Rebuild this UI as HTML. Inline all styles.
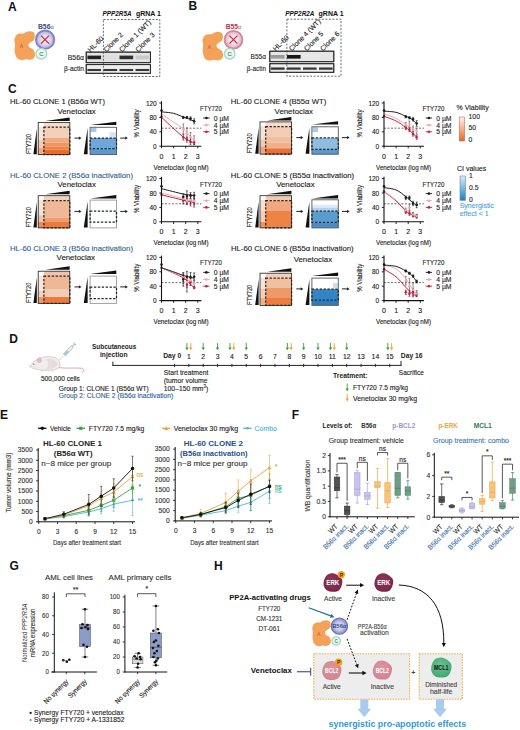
<!DOCTYPE html>
<html><head><meta charset="utf-8"><style>
html,body{margin:0;padding:0;background:#fff;}
svg{display:block;font-family:"Liberation Sans", sans-serif;}
</style></head><body>
<svg width="520" height="730" viewBox="0 0 520 730">
<defs><filter id="bl" x="-20%" y="-50%" width="140%" height="200%"><feGaussianBlur stdDeviation="0.7"/></filter><filter id="bl2" x="-20%" y="-20%" width="140%" height="140%"><feGaussianBlur stdDeviation="0.35"/></filter></defs>
<rect width="520" height="730" fill="#fff"/>
<text x="7.90" y="11.00" font-size="12" font-weight="bold" fill="#111" text-anchor="start">A</text>
<path d="M16.40,35.20 C17.25,34.22 18.40,33.87 19.50,33.60 C20.60,33.33 21.83,33.90 23.00,33.60 C24.17,33.30 25.25,32.20 26.50,31.80 C27.75,31.40 29.28,31.07 30.50,31.20 C31.72,31.33 33.08,31.77 33.80,32.60 C34.52,33.43 34.83,34.93 34.80,36.20 C34.77,37.47 34.33,39.17 33.60,40.20 C32.87,41.23 31.27,41.63 30.40,42.40 C29.53,43.17 28.50,43.93 28.40,44.80 C28.30,45.67 28.97,46.77 29.80,47.60 C30.63,48.43 32.53,48.73 33.40,49.80 C34.27,50.87 34.90,52.63 35.00,54.00 C35.10,55.37 34.83,57.03 34.00,58.00 C33.17,58.97 31.42,59.60 30.00,59.80 C28.58,60.00 27.00,59.17 25.50,59.20 C24.00,59.23 22.48,60.27 21.00,60.00 C19.52,59.73 17.67,59.10 16.60,57.60 C15.53,56.10 14.87,53.10 14.60,51.00 C14.33,48.90 15.03,46.92 15.00,45.00 C14.97,43.08 14.17,41.13 14.40,39.50 C14.63,37.87 15.55,36.18 16.40,35.20 Z" fill="#f4a25a" stroke="none" stroke-width="1"/>
<text x="21.50" y="48.20" font-size="5.2" font-weight="normal" fill="#de5a30" text-anchor="middle" stroke="#de5a30" stroke-width="0.12">A</text>
<defs><radialGradient id="gb56"><stop offset="0" stop-color="#f3f1fa"/><stop offset="0.55" stop-color="#dcd8ef"/><stop offset="1" stop-color="#a9a4d4"/></radialGradient></defs>
<circle cx="45.10" cy="39.70" r="9.20" fill="url(#gb56)" stroke="#8480bd" stroke-width="1.8"/>
<line x1="41.00" y1="35.70" x2="49.00" y2="43.70" stroke="#d0243c" stroke-width="1.2"/>
<line x1="41.00" y1="43.70" x2="49.00" y2="35.70" stroke="#d0243c" stroke-width="1.2"/>
<circle cx="41.30" cy="53.70" r="5.40" fill="#eaf7f1" stroke="#9fd8bd" stroke-width="1.3"/>
<text x="41.30" y="55.86" font-size="6.0" font-weight="normal" fill="#3f7f6a" text-anchor="middle" stroke="#3f7f6a" stroke-width="0.12">C</text>
<text x="37.90" y="28.60" font-size="6.9" font-weight="bold" fill="#2d4f86" text-anchor="start" textLength="15.8" lengthAdjust="spacingAndGlyphs">B56<tspan font-size="5.6" font-weight="normal">&#945;</tspan></text>
<text x="102.40" y="15.80" font-size="6.6" font-weight="bold" fill="#111" text-anchor="start" font-style="italic" textLength="29.2" lengthAdjust="spacingAndGlyphs">PPP2R5A</text>
<text x="136.00" y="15.80" font-size="6.6" font-weight="bold" fill="#111" text-anchor="start" textLength="25" lengthAdjust="spacingAndGlyphs">gRNA 1</text>
<rect x="86.20" y="52.10" width="64.20" height="10.60" fill="#e2e2e2" stroke="#2a2a2a" stroke-width="0.9"/>
<g filter="url(#bl)">
<rect x="87.40" y="55.60" width="13.65" height="3.60" fill="rgb(35,35,35)" stroke="none" stroke-width="1"/>
<rect x="103.45" y="55.60" width="13.65" height="3.60" fill="rgb(222,222,222)" stroke="none" stroke-width="1"/>
<rect x="119.50" y="55.60" width="13.65" height="3.60" fill="rgb(46,46,46)" stroke="none" stroke-width="1"/>
<rect x="135.55" y="55.60" width="13.65" height="3.60" fill="rgb(201,201,201)" stroke="none" stroke-width="1"/>
</g>
<rect x="86.20" y="52.10" width="64.20" height="10.60" fill="none" stroke="#2a2a2a" stroke-width="0.9"/>
<rect x="86.20" y="64.60" width="64.20" height="8.70" fill="#eeeeee" stroke="#2a2a2a" stroke-width="0.9"/>
<g filter="url(#bl)">
<rect x="87.40" y="68.95" width="13.65" height="2.10" fill="rgb(57,57,57)" stroke="none" stroke-width="1"/>
<rect x="103.45" y="68.95" width="13.65" height="2.10" fill="rgb(57,57,57)" stroke="none" stroke-width="1"/>
<rect x="119.50" y="68.95" width="13.65" height="2.10" fill="rgb(57,57,57)" stroke="none" stroke-width="1"/>
<rect x="135.55" y="68.95" width="13.65" height="2.10" fill="rgb(57,57,57)" stroke="none" stroke-width="1"/>
</g>
<rect x="86.20" y="64.60" width="64.20" height="8.70" fill="none" stroke="#2a2a2a" stroke-width="0.9"/>
<rect x="103.40" y="19.50" width="56.40" height="57.00" fill="none" stroke="#3a3a3a" stroke-width="0.75" stroke-dasharray="2,1.5"/>
<text x="90.60" y="52.40" font-size="7" font-weight="normal" fill="#222" text-anchor="start" transform="rotate(-45 90.6 52.4)" stroke="#222" stroke-width="0.12">HL-60</text>
<text x="106.40" y="52.40" font-size="7" font-weight="normal" fill="#222" text-anchor="start" transform="rotate(-45 106.4 52.4)" stroke="#222" stroke-width="0.12">Clone 2</text>
<text x="121.90" y="52.40" font-size="7" font-weight="normal" fill="#222" text-anchor="start" transform="rotate(-45 121.9 52.4)" stroke="#222" stroke-width="0.12">Clone 1 (WT)</text>
<text x="138.20" y="52.40" font-size="7" font-weight="normal" fill="#222" text-anchor="start" transform="rotate(-45 138.2 52.4)" stroke="#222" stroke-width="0.12">Clone 3</text>
<text x="67.70" y="59.80" font-size="7.2" font-weight="normal" fill="#222" text-anchor="start" textLength="16.3" lengthAdjust="spacingAndGlyphs" stroke="#222" stroke-width="0.12">B56&#945;</text>
<text x="63.90" y="71.30" font-size="7.2" font-weight="normal" fill="#222" text-anchor="start" textLength="20.1" lengthAdjust="spacingAndGlyphs" stroke="#222" stroke-width="0.12">&#946;-actin</text>
<text x="188.60" y="10.20" font-size="12" font-weight="bold" fill="#111" text-anchor="start">B</text>
<path d="M204.50,35.80 C205.35,34.82 206.50,34.47 207.60,34.20 C208.70,33.93 209.93,34.50 211.10,34.20 C212.27,33.90 213.35,32.80 214.60,32.40 C215.85,32.00 217.38,31.67 218.60,31.80 C219.82,31.93 221.18,32.37 221.90,33.20 C222.62,34.03 222.93,35.53 222.90,36.80 C222.87,38.07 222.43,39.77 221.70,40.80 C220.97,41.83 219.37,42.23 218.50,43.00 C217.63,43.77 216.60,44.53 216.50,45.40 C216.40,46.27 217.07,47.37 217.90,48.20 C218.73,49.03 220.63,49.33 221.50,50.40 C222.37,51.47 223.00,53.23 223.10,54.60 C223.20,55.97 222.93,57.63 222.10,58.60 C221.27,59.57 219.52,60.20 218.10,60.40 C216.68,60.60 215.10,59.77 213.60,59.80 C212.10,59.83 210.58,60.87 209.10,60.60 C207.62,60.33 205.77,59.70 204.70,58.20 C203.63,56.70 202.97,53.70 202.70,51.60 C202.43,49.50 203.13,47.52 203.10,45.60 C203.07,43.68 202.27,41.73 202.50,40.10 C202.73,38.47 203.65,36.78 204.50,35.80 Z" fill="#f4a25a" stroke="none" stroke-width="1"/>
<text x="209.60" y="48.80" font-size="5.2" font-weight="normal" fill="#de5a30" text-anchor="middle" stroke="#de5a30" stroke-width="0.12">A</text>
<defs><radialGradient id="gb55"><stop offset="0" stop-color="#fbf1f4"/><stop offset="0.55" stop-color="#f3dbe3"/><stop offset="1" stop-color="#dcaabb"/></radialGradient></defs>
<circle cx="233.50" cy="39.70" r="8.90" fill="url(#gb55)" stroke="#c88ba0" stroke-width="1.8"/>
<line x1="229.40" y1="35.70" x2="237.40" y2="43.70" stroke="#d0243c" stroke-width="1.2"/>
<line x1="229.40" y1="43.70" x2="237.40" y2="35.70" stroke="#d0243c" stroke-width="1.2"/>
<circle cx="229.70" cy="53.70" r="5.30" fill="#eaf7f1" stroke="#9fd8bd" stroke-width="1.3"/>
<text x="229.70" y="55.82" font-size="5.9" font-weight="normal" fill="#3f7f6a" text-anchor="middle" stroke="#3f7f6a" stroke-width="0.12">C</text>
<text x="225.80" y="28.90" font-size="6.9" font-weight="bold" fill="#c0304a" text-anchor="start" textLength="15.4" lengthAdjust="spacingAndGlyphs">B55<tspan font-size="5.6" font-weight="normal">&#945;</tspan></text>
<text x="285.30" y="15.80" font-size="6.6" font-weight="bold" fill="#111" text-anchor="start" font-style="italic" textLength="29.2" lengthAdjust="spacingAndGlyphs">PPP2R2A</text>
<text x="318.60" y="15.80" font-size="6.6" font-weight="bold" fill="#111" text-anchor="start" textLength="25" lengthAdjust="spacingAndGlyphs">gRNA 1</text>
<rect x="269.80" y="51.20" width="64.00" height="10.50" fill="#e6e6e6" stroke="#2a2a2a" stroke-width="0.9"/>
<g filter="url(#bl)">
<rect x="271.00" y="55.00" width="13.60" height="3.60" fill="rgb(154,154,154)" stroke="none" stroke-width="1"/>
<rect x="287.00" y="55.00" width="13.60" height="3.60" fill="rgb(25,25,25)" stroke="none" stroke-width="1"/>
<rect x="303.00" y="55.00" width="13.60" height="3.60" fill="rgb(231,231,231)" stroke="none" stroke-width="1"/>
<rect x="319.00" y="55.00" width="13.60" height="3.60" fill="rgb(229,229,229)" stroke="none" stroke-width="1"/>
</g>
<rect x="269.80" y="51.20" width="64.00" height="10.50" fill="none" stroke="#2a2a2a" stroke-width="0.9"/>
<rect x="269.80" y="63.70" width="64.00" height="8.60" fill="#eeeeee" stroke="#2a2a2a" stroke-width="0.9"/>
<g filter="url(#bl)">
<rect x="271.00" y="67.45" width="13.60" height="2.30" fill="rgb(50,50,50)" stroke="none" stroke-width="1"/>
<rect x="287.00" y="67.45" width="13.60" height="2.30" fill="rgb(57,57,57)" stroke="none" stroke-width="1"/>
<rect x="303.00" y="67.45" width="13.60" height="2.30" fill="rgb(57,57,57)" stroke="none" stroke-width="1"/>
<rect x="319.00" y="67.45" width="13.60" height="2.30" fill="rgb(57,57,57)" stroke="none" stroke-width="1"/>
</g>
<rect x="269.80" y="63.70" width="64.00" height="8.60" fill="none" stroke="#2a2a2a" stroke-width="0.9"/>
<rect x="286.90" y="19.20" width="54.10" height="57.00" fill="none" stroke="#3a3a3a" stroke-width="0.75" stroke-dasharray="2,1.5"/>
<text x="275.80" y="51.40" font-size="7" font-weight="normal" fill="#222" text-anchor="start" transform="rotate(-45 275.8 51.4)" stroke="#222" stroke-width="0.12">HL-60</text>
<text x="291.80" y="51.40" font-size="7" font-weight="normal" fill="#222" text-anchor="start" transform="rotate(-45 291.8 51.4)" stroke="#222" stroke-width="0.12">Clone 4 (WT)</text>
<text x="306.80" y="51.40" font-size="7" font-weight="normal" fill="#222" text-anchor="start" transform="rotate(-45 306.8 51.4)" stroke="#222" stroke-width="0.12">Clone 5</text>
<text x="323.00" y="51.40" font-size="7" font-weight="normal" fill="#222" text-anchor="start" transform="rotate(-45 323.0 51.4)" stroke="#222" stroke-width="0.12">Clone 6</text>
<text x="250.60" y="58.80" font-size="7.2" font-weight="normal" fill="#222" text-anchor="start" textLength="15.4" lengthAdjust="spacingAndGlyphs" stroke="#222" stroke-width="0.12">B55&#945;</text>
<text x="246.70" y="70.80" font-size="7.2" font-weight="normal" fill="#222" text-anchor="start" textLength="19.3" lengthAdjust="spacingAndGlyphs" stroke="#222" stroke-width="0.12">&#946;-actin</text>
<text x="8.00" y="93.00" font-size="12" font-weight="bold" fill="#111" text-anchor="start">C</text>
<text x="10.00" y="104.10" font-size="7.8" font-weight="normal" fill="#222" text-anchor="start" textLength="95" lengthAdjust="spacingAndGlyphs" stroke="#222" stroke-width="0.12">HL-60 CLONE 1 (B56&#945; WT)</text>
<text x="57.40" y="113.70" font-size="7.8" font-weight="normal" fill="#222" text-anchor="start" textLength="38.4" lengthAdjust="spacingAndGlyphs" stroke="#222" stroke-width="0.12">Venetoclax</text>
<rect x="38.20" y="122.40" width="31.60" height="4.70" fill="#f6dccb" stroke="none" stroke-width="1"/>
<rect x="38.20" y="127.10" width="31.60" height="10.80" fill="#f3d0b8" stroke="none" stroke-width="1"/>
<rect x="38.20" y="137.90" width="31.60" height="4.80" fill="#efaa80" stroke="none" stroke-width="1"/>
<rect x="38.20" y="142.70" width="31.60" height="3.90" fill="#ee9560" stroke="none" stroke-width="1"/>
<rect x="38.20" y="146.60" width="31.60" height="3.00" fill="#ec8244" stroke="none" stroke-width="1"/>
<rect x="38.20" y="149.60" width="31.60" height="5.00" fill="#eb6c28" stroke="none" stroke-width="1"/>
<rect x="38.20" y="122.40" width="5.70" height="4.80" fill="#ffffff" stroke="none" stroke-width="1"/>
<rect x="38.20" y="127.20" width="5.70" height="13.20" fill="#f8e4d9" stroke="none" stroke-width="1"/>
<rect x="38.20" y="140.40" width="5.70" height="8.00" fill="#f4cdb8" stroke="none" stroke-width="1"/>
<rect x="38.20" y="148.40" width="5.70" height="6.20" fill="#f0ad88" stroke="none" stroke-width="1"/>
<rect x="38.20" y="122.40" width="31.60" height="32.20" fill="none" stroke="#222" stroke-width="0.8"/>
<rect x="43.90" y="127.20" width="25.90" height="27.40" fill="none" stroke="#2e221c" stroke-width="1.25" stroke-dasharray="2.3,1.6"/>
<polygon points="45.40,121.00 69.60,117.40 69.60,121.00" fill="#111" stroke="none" stroke-width="1"/>
<polygon points="36.80,128.60 36.80,154.30 33.40,154.30" fill="#111" stroke="none" stroke-width="1"/>
<text x="30.60" y="154.10" font-size="6.6" font-weight="normal" fill="#222" text-anchor="start" textLength="20.2" lengthAdjust="spacingAndGlyphs" transform="rotate(-90 30.6 154.10000000000002)" stroke="#222" stroke-width="0.12">FTY720</text>
<line x1="74.50" y1="138.10" x2="79.50" y2="138.10" stroke="#222" stroke-width="1"/>
<polygon points="81.50,138.10 78.90,136.50 78.90,139.70" fill="#222" stroke="none" stroke-width="1"/>
<rect x="90.10" y="127.30" width="26.40" height="10.70" fill="#ffffff" stroke="none" stroke-width="1"/>
<rect x="90.10" y="138.00" width="26.40" height="10.70" fill="#6fa8d8" stroke="none" stroke-width="1"/>
<rect x="90.10" y="148.70" width="26.40" height="5.90" fill="#5b9ad0" stroke="none" stroke-width="1"/>
<rect x="90.60" y="128.00" width="5.80" height="3.90" fill="#9ec9ea" stroke="none" stroke-width="1"/>
<rect x="109.30" y="132.30" width="6.90" height="5.40" fill="#d3e6f5" stroke="none" stroke-width="1"/>
<rect x="90.10" y="127.30" width="26.40" height="27.30" fill="none" stroke="#555" stroke-width="0.9"/>
<rect x="90.10" y="138.00" width="26.40" height="10.70" fill="none" stroke="#1c2636" stroke-width="1.25" stroke-dasharray="2.3,1.6"/>
<polygon points="90.30,125.10 116.30,121.80 116.30,125.10" fill="#111" stroke="none" stroke-width="1"/>
<polygon points="87.60,128.10 87.60,154.20 83.80,154.20" fill="#111" stroke="none" stroke-width="1"/>
<line x1="120.20" y1="138.10" x2="125.80" y2="138.10" stroke="#222" stroke-width="1"/>
<polygon points="127.80,138.10 125.20,136.50 125.20,139.70" fill="#222" stroke="none" stroke-width="1"/>
<line x1="161.50" y1="128.20" x2="201.43" y2="128.20" stroke="#333" stroke-width="0.7" stroke-dasharray="2,1.5"/>
<line x1="183.28" y1="118.48" x2="183.28" y2="116.32" stroke="#1a1a1a" stroke-width="0.7"/>
<line x1="182.28" y1="116.32" x2="184.28" y2="116.32" stroke="#1a1a1a" stroke-width="0.6"/>
<line x1="182.28" y1="118.48" x2="184.28" y2="118.48" stroke="#1a1a1a" stroke-width="0.6"/>
<line x1="186.91" y1="118.48" x2="186.91" y2="116.32" stroke="#1a1a1a" stroke-width="0.7"/>
<line x1="185.91" y1="116.32" x2="187.91" y2="116.32" stroke="#1a1a1a" stroke-width="0.6"/>
<line x1="185.91" y1="118.48" x2="187.91" y2="118.48" stroke="#1a1a1a" stroke-width="0.6"/>
<line x1="190.54" y1="120.42" x2="190.54" y2="116.82" stroke="#1a1a1a" stroke-width="0.7"/>
<line x1="189.54" y1="116.82" x2="191.54" y2="116.82" stroke="#1a1a1a" stroke-width="0.6"/>
<line x1="189.54" y1="120.42" x2="191.54" y2="120.42" stroke="#1a1a1a" stroke-width="0.6"/>
<line x1="194.17" y1="123.88" x2="194.17" y2="118.84" stroke="#1a1a1a" stroke-width="0.7"/>
<line x1="193.17" y1="118.84" x2="195.17" y2="118.84" stroke="#1a1a1a" stroke-width="0.6"/>
<line x1="193.17" y1="123.88" x2="195.17" y2="123.88" stroke="#1a1a1a" stroke-width="0.6"/>
<line x1="183.28" y1="133.96" x2="183.28" y2="123.88" stroke="#6a5055" stroke-width="0.7"/>
<line x1="182.28" y1="123.88" x2="184.28" y2="123.88" stroke="#6a5055" stroke-width="0.6"/>
<line x1="182.28" y1="133.96" x2="184.28" y2="133.96" stroke="#6a5055" stroke-width="0.6"/>
<line x1="186.91" y1="139.36" x2="186.91" y2="127.84" stroke="#6a5055" stroke-width="0.7"/>
<line x1="185.91" y1="127.84" x2="187.91" y2="127.84" stroke="#6a5055" stroke-width="0.6"/>
<line x1="185.91" y1="139.36" x2="187.91" y2="139.36" stroke="#6a5055" stroke-width="0.6"/>
<line x1="190.54" y1="141.88" x2="190.54" y2="132.52" stroke="#6a5055" stroke-width="0.7"/>
<line x1="189.54" y1="132.52" x2="191.54" y2="132.52" stroke="#6a5055" stroke-width="0.6"/>
<line x1="189.54" y1="141.88" x2="191.54" y2="141.88" stroke="#6a5055" stroke-width="0.6"/>
<line x1="194.17" y1="144.40" x2="194.17" y2="135.76" stroke="#6a5055" stroke-width="0.7"/>
<line x1="193.17" y1="135.76" x2="195.17" y2="135.76" stroke="#6a5055" stroke-width="0.6"/>
<line x1="193.17" y1="144.40" x2="195.17" y2="144.40" stroke="#6a5055" stroke-width="0.6"/>
<line x1="183.28" y1="140.08" x2="183.28" y2="134.32" stroke="#5a1828" stroke-width="0.7"/>
<line x1="182.28" y1="134.32" x2="184.28" y2="134.32" stroke="#5a1828" stroke-width="0.6"/>
<line x1="182.28" y1="140.08" x2="184.28" y2="140.08" stroke="#5a1828" stroke-width="0.6"/>
<line x1="186.91" y1="142.24" x2="186.91" y2="137.20" stroke="#5a1828" stroke-width="0.7"/>
<line x1="185.91" y1="137.20" x2="187.91" y2="137.20" stroke="#5a1828" stroke-width="0.6"/>
<line x1="185.91" y1="142.24" x2="187.91" y2="142.24" stroke="#5a1828" stroke-width="0.6"/>
<line x1="190.54" y1="144.76" x2="190.54" y2="139.00" stroke="#5a1828" stroke-width="0.7"/>
<line x1="189.54" y1="139.00" x2="191.54" y2="139.00" stroke="#5a1828" stroke-width="0.6"/>
<line x1="189.54" y1="144.76" x2="191.54" y2="144.76" stroke="#5a1828" stroke-width="0.6"/>
<line x1="194.17" y1="144.76" x2="194.17" y2="140.44" stroke="#5a1828" stroke-width="0.7"/>
<line x1="193.17" y1="140.44" x2="195.17" y2="140.44" stroke="#5a1828" stroke-width="0.6"/>
<line x1="193.17" y1="144.76" x2="195.17" y2="144.76" stroke="#5a1828" stroke-width="0.6"/>
<path d="M161.50,117.22 C163.31,118.93 168.76,124.17 172.39,127.48 C176.02,130.79 180.56,134.90 183.28,137.06 C186.00,139.22 186.91,139.47 188.72,140.44 C190.54,141.41 193.26,142.48 194.17,142.89" fill="none" stroke="#c81d3e" stroke-width="1.0"/>
<path d="M161.50,113.80 C163.31,115.06 168.76,118.86 172.39,121.36 C176.02,123.86 180.56,126.56 183.28,128.78 C186.00,131.00 186.91,132.81 188.72,134.68 C190.54,136.55 193.26,139.09 194.17,139.97" fill="none" stroke="#eea6ad" stroke-width="1.0"/>
<path d="M161.50,111.86 C163.52,112.10 169.97,112.47 173.60,113.33 C177.23,114.20 180.76,116.12 183.28,117.04 C185.80,117.96 186.91,118.12 188.72,118.84 C190.54,119.56 193.26,120.94 194.17,121.36" fill="none" stroke="#1a1a1a" stroke-width="1.0"/>
<circle cx="161.50" cy="116.68" r="1.25" fill="#c81d3e" stroke="none" stroke-width="1"/>
<circle cx="183.28" cy="137.20" r="1.25" fill="#c81d3e" stroke="none" stroke-width="1"/>
<circle cx="186.91" cy="139.72" r="1.25" fill="#c81d3e" stroke="none" stroke-width="1"/>
<circle cx="190.54" cy="141.88" r="1.25" fill="#c81d3e" stroke="none" stroke-width="1"/>
<circle cx="194.17" cy="142.60" r="1.25" fill="#c81d3e" stroke="none" stroke-width="1"/>
<circle cx="183.28" cy="128.92" r="1.25" fill="#eea6ad" stroke="none" stroke-width="1"/>
<circle cx="186.91" cy="133.60" r="1.25" fill="#eea6ad" stroke="none" stroke-width="1"/>
<circle cx="190.54" cy="137.20" r="1.25" fill="#eea6ad" stroke="none" stroke-width="1"/>
<circle cx="194.17" cy="140.08" r="1.25" fill="#eea6ad" stroke="none" stroke-width="1"/>
<circle cx="161.50" cy="110.56" r="1.25" fill="#1a1a1a" stroke="none" stroke-width="1"/>
<circle cx="183.28" cy="117.40" r="1.25" fill="#1a1a1a" stroke="none" stroke-width="1"/>
<circle cx="186.91" cy="117.40" r="1.25" fill="#1a1a1a" stroke="none" stroke-width="1"/>
<circle cx="190.54" cy="118.62" r="1.25" fill="#1a1a1a" stroke="none" stroke-width="1"/>
<circle cx="194.17" cy="121.36" r="1.25" fill="#1a1a1a" stroke="none" stroke-width="1"/>
<line x1="161.50" y1="101.20" x2="161.50" y2="146.70" stroke="#111" stroke-width="1.1"/>
<line x1="161.00" y1="146.20" x2="201.43" y2="146.20" stroke="#111" stroke-width="1.1"/>
<line x1="159.30" y1="146.20" x2="161.50" y2="146.20" stroke="#111" stroke-width="0.9"/>
<text x="156.70" y="148.70" font-size="7" font-weight="normal" fill="#222" text-anchor="end" textLength="3.6" lengthAdjust="spacingAndGlyphs" stroke="#222" stroke-width="0.12">0</text>
<line x1="159.30" y1="131.80" x2="161.50" y2="131.80" stroke="#111" stroke-width="0.9"/>
<text x="156.70" y="134.30" font-size="7" font-weight="normal" fill="#222" text-anchor="end" textLength="7.2" lengthAdjust="spacingAndGlyphs" stroke="#222" stroke-width="0.12">40</text>
<line x1="159.30" y1="117.40" x2="161.50" y2="117.40" stroke="#111" stroke-width="0.9"/>
<text x="156.70" y="119.90" font-size="7" font-weight="normal" fill="#222" text-anchor="end" textLength="7.2" lengthAdjust="spacingAndGlyphs" stroke="#222" stroke-width="0.12">80</text>
<line x1="159.30" y1="103.00" x2="161.50" y2="103.00" stroke="#111" stroke-width="0.9"/>
<text x="156.70" y="105.50" font-size="7" font-weight="normal" fill="#222" text-anchor="end" textLength="10.8" lengthAdjust="spacingAndGlyphs" stroke="#222" stroke-width="0.12">120</text>
<line x1="161.50" y1="146.20" x2="161.50" y2="148.40" stroke="#111" stroke-width="0.9"/>
<text x="161.50" y="158.80" font-size="7" font-weight="normal" fill="#222" text-anchor="middle" stroke="#222" stroke-width="0.12">0</text>
<line x1="173.60" y1="146.20" x2="173.60" y2="148.40" stroke="#111" stroke-width="0.9"/>
<text x="173.60" y="158.80" font-size="7" font-weight="normal" fill="#222" text-anchor="middle" stroke="#222" stroke-width="0.12">1</text>
<line x1="185.70" y1="146.20" x2="185.70" y2="148.40" stroke="#111" stroke-width="0.9"/>
<text x="185.70" y="158.80" font-size="7" font-weight="normal" fill="#222" text-anchor="middle" stroke="#222" stroke-width="0.12">2</text>
<line x1="197.80" y1="146.20" x2="197.80" y2="148.40" stroke="#111" stroke-width="0.9"/>
<text x="197.80" y="158.80" font-size="7" font-weight="normal" fill="#222" text-anchor="middle" stroke="#222" stroke-width="0.12">3</text>
<text x="139.10" y="123.40" font-size="6.8" font-weight="normal" fill="#222" text-anchor="middle" textLength="28" lengthAdjust="spacingAndGlyphs" transform="rotate(-90 139.1 123.39999999999999)" stroke="#222" stroke-width="0.12">% Viability</text>
<text x="181.10" y="169.50" font-size="6.4" font-weight="normal" fill="#222" text-anchor="middle" textLength="55" lengthAdjust="spacingAndGlyphs" stroke="#222" stroke-width="0.12">Venetoclax (log nM)</text>
<text x="200.00" y="110.90" font-size="6.8" font-weight="normal" fill="#222" text-anchor="start" textLength="21.8" lengthAdjust="spacingAndGlyphs" stroke="#222" stroke-width="0.12">FTY720</text>
<line x1="203.20" y1="118.00" x2="209.60" y2="118.00" stroke="#1a1a1a" stroke-width="0.9"/>
<circle cx="206.40" cy="118.00" r="1.30" fill="#1a1a1a" stroke="none" stroke-width="1"/>
<text x="213.80" y="120.50" font-size="7" font-weight="normal" fill="#222" text-anchor="start" textLength="15.2" lengthAdjust="spacingAndGlyphs" stroke="#222" stroke-width="0.12">0 &#181;M</text>
<line x1="203.20" y1="125.10" x2="209.60" y2="125.10" stroke="#eea6ad" stroke-width="0.9"/>
<circle cx="206.40" cy="125.10" r="1.30" fill="#eea6ad" stroke="none" stroke-width="1"/>
<text x="213.80" y="127.60" font-size="7" font-weight="normal" fill="#222" text-anchor="start" textLength="15.2" lengthAdjust="spacingAndGlyphs" stroke="#222" stroke-width="0.12">4 &#181;M</text>
<line x1="203.20" y1="131.80" x2="209.60" y2="131.80" stroke="#c81d3e" stroke-width="0.9"/>
<circle cx="206.40" cy="131.80" r="1.30" fill="#c81d3e" stroke="none" stroke-width="1"/>
<text x="213.80" y="134.30" font-size="7" font-weight="normal" fill="#222" text-anchor="start" textLength="15.2" lengthAdjust="spacingAndGlyphs" stroke="#222" stroke-width="0.12">5 &#181;M</text>
<text x="10.00" y="178.00" font-size="7.8" font-weight="normal" fill="#2f5f96" text-anchor="start" textLength="123" lengthAdjust="spacingAndGlyphs" stroke="#2f5f96" stroke-width="0.12">HL-60 CLONE 2 (B56&#945; inactivation)</text>
<text x="57.50" y="186.70" font-size="7.8" font-weight="normal" fill="#222" text-anchor="start" textLength="38.4" lengthAdjust="spacingAndGlyphs" stroke="#222" stroke-width="0.12">Venetoclax</text>
<rect x="38.20" y="195.70" width="31.60" height="4.80" fill="#f3d2be" stroke="none" stroke-width="1"/>
<rect x="38.20" y="200.50" width="31.60" height="17.30" fill="#efb898" stroke="none" stroke-width="1"/>
<rect x="38.20" y="217.80" width="31.60" height="4.20" fill="#ee9e70" stroke="none" stroke-width="1"/>
<rect x="38.20" y="222.00" width="31.60" height="5.90" fill="#eb7a3c" stroke="none" stroke-width="1"/>
<rect x="38.20" y="195.70" width="5.70" height="4.80" fill="#ffffff" stroke="none" stroke-width="1"/>
<rect x="38.20" y="200.50" width="5.70" height="15.20" fill="#f7e2d6" stroke="none" stroke-width="1"/>
<rect x="38.20" y="215.70" width="5.70" height="6.30" fill="#f2c4aa" stroke="none" stroke-width="1"/>
<rect x="38.20" y="222.00" width="5.70" height="5.90" fill="#ec8c56" stroke="none" stroke-width="1"/>
<rect x="38.20" y="195.70" width="31.60" height="32.20" fill="none" stroke="#222" stroke-width="0.8"/>
<rect x="43.90" y="200.50" width="25.90" height="27.40" fill="none" stroke="#2e221c" stroke-width="1.25" stroke-dasharray="2.3,1.6"/>
<polygon points="45.40,194.30 69.60,190.70 69.60,194.30" fill="#111" stroke="none" stroke-width="1"/>
<polygon points="36.80,201.90 36.80,227.60 33.40,227.60" fill="#111" stroke="none" stroke-width="1"/>
<text x="30.60" y="227.40" font-size="6.6" font-weight="normal" fill="#222" text-anchor="start" textLength="20.2" lengthAdjust="spacingAndGlyphs" transform="rotate(-90 30.6 227.39999999999998)" stroke="#222" stroke-width="0.12">FTY720</text>
<line x1="74.50" y1="211.40" x2="79.50" y2="211.40" stroke="#222" stroke-width="1"/>
<polygon points="81.50,211.40 78.90,209.80 78.90,213.00" fill="#222" stroke="none" stroke-width="1"/>
<rect x="90.10" y="200.10" width="26.40" height="27.80" fill="#ffffff" stroke="none" stroke-width="1"/>
<rect x="90.10" y="200.10" width="26.40" height="27.80" fill="none" stroke="#999" stroke-width="0.9"/>
<rect x="90.10" y="211.20" width="26.40" height="11.00" fill="none" stroke="#1c2636" stroke-width="1.25" stroke-dasharray="2.3,1.6"/>
<polygon points="90.30,198.40 116.30,195.10 116.30,198.40" fill="#111" stroke="none" stroke-width="1"/>
<polygon points="87.60,201.40 87.60,227.50 83.80,227.50" fill="#111" stroke="none" stroke-width="1"/>
<line x1="120.20" y1="211.40" x2="125.80" y2="211.40" stroke="#222" stroke-width="1"/>
<polygon points="127.80,211.40 125.20,209.80 125.20,213.00" fill="#222" stroke="none" stroke-width="1"/>
<line x1="161.50" y1="203.80" x2="201.43" y2="203.80" stroke="#333" stroke-width="0.7" stroke-dasharray="2,1.5"/>
<line x1="183.28" y1="200.20" x2="183.28" y2="193.72" stroke="#1a1a1a" stroke-width="0.7"/>
<line x1="182.28" y1="193.72" x2="184.28" y2="193.72" stroke="#1a1a1a" stroke-width="0.6"/>
<line x1="182.28" y1="200.20" x2="184.28" y2="200.20" stroke="#1a1a1a" stroke-width="0.6"/>
<line x1="186.91" y1="200.92" x2="186.91" y2="190.84" stroke="#1a1a1a" stroke-width="0.7"/>
<line x1="185.91" y1="190.84" x2="187.91" y2="190.84" stroke="#1a1a1a" stroke-width="0.6"/>
<line x1="185.91" y1="200.92" x2="187.91" y2="200.92" stroke="#1a1a1a" stroke-width="0.6"/>
<line x1="190.54" y1="198.40" x2="190.54" y2="192.64" stroke="#1a1a1a" stroke-width="0.7"/>
<line x1="189.54" y1="192.64" x2="191.54" y2="192.64" stroke="#1a1a1a" stroke-width="0.6"/>
<line x1="189.54" y1="198.40" x2="191.54" y2="198.40" stroke="#1a1a1a" stroke-width="0.6"/>
<line x1="194.17" y1="198.76" x2="194.17" y2="192.28" stroke="#1a1a1a" stroke-width="0.7"/>
<line x1="193.17" y1="192.28" x2="195.17" y2="192.28" stroke="#1a1a1a" stroke-width="0.6"/>
<line x1="193.17" y1="198.76" x2="195.17" y2="198.76" stroke="#1a1a1a" stroke-width="0.6"/>
<line x1="183.28" y1="201.64" x2="183.28" y2="195.88" stroke="#6a5055" stroke-width="0.7"/>
<line x1="182.28" y1="195.88" x2="184.28" y2="195.88" stroke="#6a5055" stroke-width="0.6"/>
<line x1="182.28" y1="201.64" x2="184.28" y2="201.64" stroke="#6a5055" stroke-width="0.6"/>
<line x1="186.91" y1="204.52" x2="186.91" y2="197.32" stroke="#6a5055" stroke-width="0.7"/>
<line x1="185.91" y1="197.32" x2="187.91" y2="197.32" stroke="#6a5055" stroke-width="0.6"/>
<line x1="185.91" y1="204.52" x2="187.91" y2="204.52" stroke="#6a5055" stroke-width="0.6"/>
<line x1="190.54" y1="203.80" x2="190.54" y2="196.60" stroke="#6a5055" stroke-width="0.7"/>
<line x1="189.54" y1="196.60" x2="191.54" y2="196.60" stroke="#6a5055" stroke-width="0.6"/>
<line x1="189.54" y1="203.80" x2="191.54" y2="203.80" stroke="#6a5055" stroke-width="0.6"/>
<line x1="194.17" y1="204.88" x2="194.17" y2="197.68" stroke="#6a5055" stroke-width="0.7"/>
<line x1="193.17" y1="197.68" x2="195.17" y2="197.68" stroke="#6a5055" stroke-width="0.6"/>
<line x1="193.17" y1="204.88" x2="195.17" y2="204.88" stroke="#6a5055" stroke-width="0.6"/>
<line x1="183.28" y1="203.80" x2="183.28" y2="196.60" stroke="#5a1828" stroke-width="0.7"/>
<line x1="182.28" y1="196.60" x2="184.28" y2="196.60" stroke="#5a1828" stroke-width="0.6"/>
<line x1="182.28" y1="203.80" x2="184.28" y2="203.80" stroke="#5a1828" stroke-width="0.6"/>
<line x1="186.91" y1="204.16" x2="186.91" y2="198.40" stroke="#5a1828" stroke-width="0.7"/>
<line x1="185.91" y1="198.40" x2="187.91" y2="198.40" stroke="#5a1828" stroke-width="0.6"/>
<line x1="185.91" y1="204.16" x2="187.91" y2="204.16" stroke="#5a1828" stroke-width="0.6"/>
<line x1="190.54" y1="205.96" x2="190.54" y2="195.16" stroke="#5a1828" stroke-width="0.7"/>
<line x1="189.54" y1="195.16" x2="191.54" y2="195.16" stroke="#5a1828" stroke-width="0.6"/>
<line x1="189.54" y1="205.96" x2="191.54" y2="205.96" stroke="#5a1828" stroke-width="0.6"/>
<line x1="194.17" y1="207.04" x2="194.17" y2="198.40" stroke="#5a1828" stroke-width="0.7"/>
<line x1="193.17" y1="198.40" x2="195.17" y2="198.40" stroke="#5a1828" stroke-width="0.6"/>
<line x1="193.17" y1="207.04" x2="195.17" y2="207.04" stroke="#5a1828" stroke-width="0.6"/>
<path d="M161.50,194.80 C163.31,195.25 168.76,196.60 172.39,197.50 C176.02,198.40 180.56,199.54 183.28,200.20 C186.00,200.86 186.91,201.04 188.72,201.46 C190.54,201.88 193.26,202.51 194.17,202.72" fill="none" stroke="#c81d3e" stroke-width="1.0"/>
<path d="M161.50,193.00 C163.31,193.48 168.76,194.92 172.39,195.88 C176.02,196.84 180.56,198.04 183.28,198.76 C186.00,199.48 186.91,199.78 188.72,200.20 C190.54,200.62 193.26,201.10 194.17,201.28" fill="none" stroke="#eea6ad" stroke-width="1.0"/>
<path d="M161.50,188.68 C163.31,189.13 168.76,190.48 172.39,191.38 C176.02,192.28 180.56,193.51 183.28,194.08 C186.00,194.65 186.91,194.56 188.72,194.80 C190.54,195.04 193.26,195.40 194.17,195.52" fill="none" stroke="#1a1a1a" stroke-width="1.0"/>
<circle cx="161.50" cy="194.80" r="1.25" fill="#c81d3e" stroke="none" stroke-width="1"/>
<circle cx="183.28" cy="200.20" r="1.25" fill="#c81d3e" stroke="none" stroke-width="1"/>
<circle cx="186.91" cy="201.28" r="1.25" fill="#c81d3e" stroke="none" stroke-width="1"/>
<circle cx="190.54" cy="200.56" r="1.25" fill="#c81d3e" stroke="none" stroke-width="1"/>
<circle cx="194.17" cy="202.72" r="1.25" fill="#c81d3e" stroke="none" stroke-width="1"/>
<circle cx="183.28" cy="198.76" r="1.25" fill="#eea6ad" stroke="none" stroke-width="1"/>
<circle cx="186.91" cy="200.92" r="1.25" fill="#eea6ad" stroke="none" stroke-width="1"/>
<circle cx="190.54" cy="200.20" r="1.25" fill="#eea6ad" stroke="none" stroke-width="1"/>
<circle cx="194.17" cy="201.28" r="1.25" fill="#eea6ad" stroke="none" stroke-width="1"/>
<circle cx="161.50" cy="186.16" r="1.25" fill="#1a1a1a" stroke="none" stroke-width="1"/>
<circle cx="183.28" cy="196.96" r="1.25" fill="#1a1a1a" stroke="none" stroke-width="1"/>
<circle cx="186.91" cy="195.88" r="1.25" fill="#1a1a1a" stroke="none" stroke-width="1"/>
<circle cx="190.54" cy="195.52" r="1.25" fill="#1a1a1a" stroke="none" stroke-width="1"/>
<circle cx="194.17" cy="195.52" r="1.25" fill="#1a1a1a" stroke="none" stroke-width="1"/>
<line x1="161.50" y1="176.80" x2="161.50" y2="222.30" stroke="#111" stroke-width="1.1"/>
<line x1="161.00" y1="221.80" x2="201.43" y2="221.80" stroke="#111" stroke-width="1.1"/>
<line x1="159.30" y1="221.80" x2="161.50" y2="221.80" stroke="#111" stroke-width="0.9"/>
<text x="156.70" y="224.30" font-size="7" font-weight="normal" fill="#222" text-anchor="end" textLength="3.6" lengthAdjust="spacingAndGlyphs" stroke="#222" stroke-width="0.12">0</text>
<line x1="159.30" y1="207.40" x2="161.50" y2="207.40" stroke="#111" stroke-width="0.9"/>
<text x="156.70" y="209.90" font-size="7" font-weight="normal" fill="#222" text-anchor="end" textLength="7.2" lengthAdjust="spacingAndGlyphs" stroke="#222" stroke-width="0.12">40</text>
<line x1="159.30" y1="193.00" x2="161.50" y2="193.00" stroke="#111" stroke-width="0.9"/>
<text x="156.70" y="195.50" font-size="7" font-weight="normal" fill="#222" text-anchor="end" textLength="7.2" lengthAdjust="spacingAndGlyphs" stroke="#222" stroke-width="0.12">80</text>
<line x1="159.30" y1="178.60" x2="161.50" y2="178.60" stroke="#111" stroke-width="0.9"/>
<text x="156.70" y="181.10" font-size="7" font-weight="normal" fill="#222" text-anchor="end" textLength="10.8" lengthAdjust="spacingAndGlyphs" stroke="#222" stroke-width="0.12">120</text>
<line x1="161.50" y1="221.80" x2="161.50" y2="224.00" stroke="#111" stroke-width="0.9"/>
<text x="161.50" y="234.40" font-size="7" font-weight="normal" fill="#222" text-anchor="middle" stroke="#222" stroke-width="0.12">0</text>
<line x1="173.60" y1="221.80" x2="173.60" y2="224.00" stroke="#111" stroke-width="0.9"/>
<text x="173.60" y="234.40" font-size="7" font-weight="normal" fill="#222" text-anchor="middle" stroke="#222" stroke-width="0.12">1</text>
<line x1="185.70" y1="221.80" x2="185.70" y2="224.00" stroke="#111" stroke-width="0.9"/>
<text x="185.70" y="234.40" font-size="7" font-weight="normal" fill="#222" text-anchor="middle" stroke="#222" stroke-width="0.12">2</text>
<line x1="197.80" y1="221.80" x2="197.80" y2="224.00" stroke="#111" stroke-width="0.9"/>
<text x="197.80" y="234.40" font-size="7" font-weight="normal" fill="#222" text-anchor="middle" stroke="#222" stroke-width="0.12">3</text>
<text x="139.10" y="199.00" font-size="6.8" font-weight="normal" fill="#222" text-anchor="middle" textLength="28" lengthAdjust="spacingAndGlyphs" transform="rotate(-90 139.1 199.0)" stroke="#222" stroke-width="0.12">% Viability</text>
<text x="181.10" y="245.10" font-size="6.4" font-weight="normal" fill="#222" text-anchor="middle" textLength="55" lengthAdjust="spacingAndGlyphs" stroke="#222" stroke-width="0.12">Venetoclax (log nM)</text>
<text x="200.00" y="186.50" font-size="6.8" font-weight="normal" fill="#222" text-anchor="start" textLength="21.8" lengthAdjust="spacingAndGlyphs" stroke="#222" stroke-width="0.12">FTY720</text>
<line x1="203.20" y1="193.60" x2="209.60" y2="193.60" stroke="#1a1a1a" stroke-width="0.9"/>
<circle cx="206.40" cy="193.60" r="1.30" fill="#1a1a1a" stroke="none" stroke-width="1"/>
<text x="213.80" y="196.10" font-size="7" font-weight="normal" fill="#222" text-anchor="start" textLength="15.2" lengthAdjust="spacingAndGlyphs" stroke="#222" stroke-width="0.12">0 &#181;M</text>
<line x1="203.20" y1="200.70" x2="209.60" y2="200.70" stroke="#eea6ad" stroke-width="0.9"/>
<circle cx="206.40" cy="200.70" r="1.30" fill="#eea6ad" stroke="none" stroke-width="1"/>
<text x="213.80" y="203.20" font-size="7" font-weight="normal" fill="#222" text-anchor="start" textLength="15.2" lengthAdjust="spacingAndGlyphs" stroke="#222" stroke-width="0.12">4 &#181;M</text>
<line x1="203.20" y1="207.40" x2="209.60" y2="207.40" stroke="#c81d3e" stroke-width="0.9"/>
<circle cx="206.40" cy="207.40" r="1.30" fill="#c81d3e" stroke="none" stroke-width="1"/>
<text x="213.80" y="209.90" font-size="7" font-weight="normal" fill="#222" text-anchor="start" textLength="15.2" lengthAdjust="spacingAndGlyphs" stroke="#222" stroke-width="0.12">5 &#181;M</text>
<text x="10.00" y="251.40" font-size="7.8" font-weight="normal" fill="#2f5f96" text-anchor="start" textLength="123" lengthAdjust="spacingAndGlyphs" stroke="#2f5f96" stroke-width="0.12">HL-60 CLONE 3 (B56&#945; inactivation)</text>
<text x="56.60" y="260.30" font-size="7.8" font-weight="normal" fill="#222" text-anchor="start" textLength="38.4" lengthAdjust="spacingAndGlyphs" stroke="#222" stroke-width="0.12">Venetoclax</text>
<rect x="38.20" y="271.20" width="31.60" height="4.80" fill="#f0c4a8" stroke="none" stroke-width="1"/>
<rect x="38.20" y="276.00" width="31.60" height="13.00" fill="#eeb896" stroke="none" stroke-width="1"/>
<rect x="38.20" y="289.00" width="31.60" height="8.00" fill="#f2cdb5" stroke="none" stroke-width="1"/>
<rect x="38.20" y="297.00" width="31.60" height="6.40" fill="#eb7a3c" stroke="none" stroke-width="1"/>
<rect x="38.20" y="271.20" width="5.70" height="4.80" fill="#ffffff" stroke="none" stroke-width="1"/>
<rect x="38.20" y="276.00" width="5.70" height="15.20" fill="#f8e6dc" stroke="none" stroke-width="1"/>
<rect x="38.20" y="291.20" width="5.70" height="5.80" fill="#f4d2bf" stroke="none" stroke-width="1"/>
<rect x="38.20" y="297.00" width="5.70" height="6.40" fill="#ee9866" stroke="none" stroke-width="1"/>
<rect x="38.20" y="271.20" width="31.60" height="32.20" fill="none" stroke="#222" stroke-width="0.8"/>
<rect x="43.90" y="276.00" width="25.90" height="27.40" fill="none" stroke="#2e221c" stroke-width="1.25" stroke-dasharray="2.3,1.6"/>
<polygon points="45.40,269.80 69.60,266.20 69.60,269.80" fill="#111" stroke="none" stroke-width="1"/>
<polygon points="36.80,277.40 36.80,303.10 33.40,303.10" fill="#111" stroke="none" stroke-width="1"/>
<text x="30.60" y="302.90" font-size="6.6" font-weight="normal" fill="#222" text-anchor="start" textLength="20.2" lengthAdjust="spacingAndGlyphs" transform="rotate(-90 30.6 302.9)" stroke="#222" stroke-width="0.12">FTY720</text>
<line x1="74.50" y1="286.90" x2="79.50" y2="286.90" stroke="#222" stroke-width="1"/>
<polygon points="81.50,286.90 78.90,285.30 78.90,288.50" fill="#222" stroke="none" stroke-width="1"/>
<rect x="90.10" y="276.10" width="26.40" height="27.70" fill="#ffffff" stroke="none" stroke-width="1"/>
<rect x="90.10" y="276.10" width="26.40" height="27.30" fill="none" stroke="#999" stroke-width="0.9"/>
<rect x="90.10" y="287.00" width="26.40" height="11.50" fill="none" stroke="#1c2636" stroke-width="1.25" stroke-dasharray="2.3,1.6"/>
<polygon points="90.30,273.90 116.30,270.60 116.30,273.90" fill="#111" stroke="none" stroke-width="1"/>
<polygon points="87.60,276.90 87.60,303.00 83.80,303.00" fill="#111" stroke="none" stroke-width="1"/>
<line x1="120.20" y1="286.90" x2="125.80" y2="286.90" stroke="#222" stroke-width="1"/>
<polygon points="127.80,286.90 125.20,285.30 125.20,288.50" fill="#222" stroke="none" stroke-width="1"/>
<line x1="161.50" y1="282.60" x2="201.43" y2="282.60" stroke="#333" stroke-width="0.7" stroke-dasharray="2,1.5"/>
<line x1="183.28" y1="286.20" x2="183.28" y2="272.52" stroke="#1a1a1a" stroke-width="0.7"/>
<line x1="182.28" y1="272.52" x2="184.28" y2="272.52" stroke="#1a1a1a" stroke-width="0.6"/>
<line x1="182.28" y1="286.20" x2="184.28" y2="286.20" stroke="#1a1a1a" stroke-width="0.6"/>
<line x1="186.91" y1="282.24" x2="186.91" y2="271.44" stroke="#1a1a1a" stroke-width="0.7"/>
<line x1="185.91" y1="271.44" x2="187.91" y2="271.44" stroke="#1a1a1a" stroke-width="0.6"/>
<line x1="185.91" y1="282.24" x2="187.91" y2="282.24" stroke="#1a1a1a" stroke-width="0.6"/>
<line x1="190.54" y1="281.88" x2="190.54" y2="272.52" stroke="#1a1a1a" stroke-width="0.7"/>
<line x1="189.54" y1="272.52" x2="191.54" y2="272.52" stroke="#1a1a1a" stroke-width="0.6"/>
<line x1="189.54" y1="281.88" x2="191.54" y2="281.88" stroke="#1a1a1a" stroke-width="0.6"/>
<line x1="194.17" y1="280.80" x2="194.17" y2="272.88" stroke="#1a1a1a" stroke-width="0.7"/>
<line x1="193.17" y1="272.88" x2="195.17" y2="272.88" stroke="#1a1a1a" stroke-width="0.6"/>
<line x1="193.17" y1="280.80" x2="195.17" y2="280.80" stroke="#1a1a1a" stroke-width="0.6"/>
<line x1="183.28" y1="283.68" x2="183.28" y2="272.88" stroke="#6a5055" stroke-width="0.7"/>
<line x1="182.28" y1="272.88" x2="184.28" y2="272.88" stroke="#6a5055" stroke-width="0.6"/>
<line x1="182.28" y1="283.68" x2="184.28" y2="283.68" stroke="#6a5055" stroke-width="0.6"/>
<line x1="186.91" y1="287.64" x2="186.91" y2="276.12" stroke="#6a5055" stroke-width="0.7"/>
<line x1="185.91" y1="276.12" x2="187.91" y2="276.12" stroke="#6a5055" stroke-width="0.6"/>
<line x1="185.91" y1="287.64" x2="187.91" y2="287.64" stroke="#6a5055" stroke-width="0.6"/>
<line x1="190.54" y1="284.76" x2="190.54" y2="276.12" stroke="#6a5055" stroke-width="0.7"/>
<line x1="189.54" y1="276.12" x2="191.54" y2="276.12" stroke="#6a5055" stroke-width="0.6"/>
<line x1="189.54" y1="284.76" x2="191.54" y2="284.76" stroke="#6a5055" stroke-width="0.6"/>
<line x1="194.17" y1="286.92" x2="194.17" y2="279.72" stroke="#6a5055" stroke-width="0.7"/>
<line x1="193.17" y1="279.72" x2="195.17" y2="279.72" stroke="#6a5055" stroke-width="0.6"/>
<line x1="193.17" y1="286.92" x2="195.17" y2="286.92" stroke="#6a5055" stroke-width="0.6"/>
<line x1="183.28" y1="281.52" x2="183.28" y2="274.32" stroke="#5a1828" stroke-width="0.7"/>
<line x1="182.28" y1="274.32" x2="184.28" y2="274.32" stroke="#5a1828" stroke-width="0.6"/>
<line x1="182.28" y1="281.52" x2="184.28" y2="281.52" stroke="#5a1828" stroke-width="0.6"/>
<line x1="186.91" y1="291.96" x2="186.91" y2="277.56" stroke="#5a1828" stroke-width="0.7"/>
<line x1="185.91" y1="277.56" x2="187.91" y2="277.56" stroke="#5a1828" stroke-width="0.6"/>
<line x1="185.91" y1="291.96" x2="187.91" y2="291.96" stroke="#5a1828" stroke-width="0.6"/>
<line x1="190.54" y1="285.48" x2="190.54" y2="278.28" stroke="#5a1828" stroke-width="0.7"/>
<line x1="189.54" y1="278.28" x2="191.54" y2="278.28" stroke="#5a1828" stroke-width="0.6"/>
<line x1="189.54" y1="285.48" x2="191.54" y2="285.48" stroke="#5a1828" stroke-width="0.6"/>
<line x1="194.17" y1="288.72" x2="194.17" y2="286.56" stroke="#5a1828" stroke-width="0.7"/>
<line x1="193.17" y1="286.56" x2="195.17" y2="286.56" stroke="#5a1828" stroke-width="0.6"/>
<line x1="193.17" y1="288.72" x2="195.17" y2="288.72" stroke="#5a1828" stroke-width="0.6"/>
<path d="M161.50,267.84 C163.31,268.62 168.76,270.84 172.39,272.52 C176.02,274.20 180.56,276.24 183.28,277.92 C186.00,279.60 186.91,280.98 188.72,282.60 C190.54,284.22 193.26,286.80 194.17,287.64" fill="none" stroke="#c81d3e" stroke-width="1.0"/>
<path d="M161.50,267.84 C163.31,268.56 168.76,270.66 172.39,272.16 C176.02,273.66 180.56,275.46 183.28,276.84 C186.00,278.22 186.91,279.24 188.72,280.44 C190.54,281.64 193.26,283.44 194.17,284.04" fill="none" stroke="#eea6ad" stroke-width="1.0"/>
<path d="M161.50,267.84 C163.31,268.44 168.76,270.18 172.39,271.44 C176.02,272.70 180.56,274.50 183.28,275.40 C186.00,276.30 186.91,276.36 188.72,276.84 C190.54,277.32 193.26,278.04 194.17,278.28" fill="none" stroke="#1a1a1a" stroke-width="1.0"/>
<circle cx="161.50" cy="267.84" r="1.25" fill="#c81d3e" stroke="none" stroke-width="1"/>
<circle cx="183.28" cy="277.92" r="1.25" fill="#c81d3e" stroke="none" stroke-width="1"/>
<circle cx="186.91" cy="284.76" r="1.25" fill="#c81d3e" stroke="none" stroke-width="1"/>
<circle cx="190.54" cy="281.88" r="1.25" fill="#c81d3e" stroke="none" stroke-width="1"/>
<circle cx="194.17" cy="287.64" r="1.25" fill="#c81d3e" stroke="none" stroke-width="1"/>
<circle cx="183.28" cy="278.28" r="1.25" fill="#eea6ad" stroke="none" stroke-width="1"/>
<circle cx="186.91" cy="281.88" r="1.25" fill="#eea6ad" stroke="none" stroke-width="1"/>
<circle cx="190.54" cy="280.44" r="1.25" fill="#eea6ad" stroke="none" stroke-width="1"/>
<circle cx="194.17" cy="283.32" r="1.25" fill="#eea6ad" stroke="none" stroke-width="1"/>
<circle cx="161.50" cy="264.60" r="1.25" fill="#1a1a1a" stroke="none" stroke-width="1"/>
<circle cx="183.28" cy="279.36" r="1.25" fill="#1a1a1a" stroke="none" stroke-width="1"/>
<circle cx="186.91" cy="276.84" r="1.25" fill="#1a1a1a" stroke="none" stroke-width="1"/>
<circle cx="190.54" cy="277.20" r="1.25" fill="#1a1a1a" stroke="none" stroke-width="1"/>
<circle cx="194.17" cy="276.84" r="1.25" fill="#1a1a1a" stroke="none" stroke-width="1"/>
<line x1="161.50" y1="255.60" x2="161.50" y2="301.10" stroke="#111" stroke-width="1.1"/>
<line x1="161.00" y1="300.60" x2="201.43" y2="300.60" stroke="#111" stroke-width="1.1"/>
<line x1="159.30" y1="300.60" x2="161.50" y2="300.60" stroke="#111" stroke-width="0.9"/>
<text x="156.70" y="303.10" font-size="7" font-weight="normal" fill="#222" text-anchor="end" textLength="3.6" lengthAdjust="spacingAndGlyphs" stroke="#222" stroke-width="0.12">0</text>
<line x1="159.30" y1="286.20" x2="161.50" y2="286.20" stroke="#111" stroke-width="0.9"/>
<text x="156.70" y="288.70" font-size="7" font-weight="normal" fill="#222" text-anchor="end" textLength="7.2" lengthAdjust="spacingAndGlyphs" stroke="#222" stroke-width="0.12">40</text>
<line x1="159.30" y1="271.80" x2="161.50" y2="271.80" stroke="#111" stroke-width="0.9"/>
<text x="156.70" y="274.30" font-size="7" font-weight="normal" fill="#222" text-anchor="end" textLength="7.2" lengthAdjust="spacingAndGlyphs" stroke="#222" stroke-width="0.12">80</text>
<line x1="159.30" y1="257.40" x2="161.50" y2="257.40" stroke="#111" stroke-width="0.9"/>
<text x="156.70" y="259.90" font-size="7" font-weight="normal" fill="#222" text-anchor="end" textLength="10.8" lengthAdjust="spacingAndGlyphs" stroke="#222" stroke-width="0.12">120</text>
<line x1="161.50" y1="300.60" x2="161.50" y2="302.80" stroke="#111" stroke-width="0.9"/>
<text x="161.50" y="313.20" font-size="7" font-weight="normal" fill="#222" text-anchor="middle" stroke="#222" stroke-width="0.12">0</text>
<line x1="173.60" y1="300.60" x2="173.60" y2="302.80" stroke="#111" stroke-width="0.9"/>
<text x="173.60" y="313.20" font-size="7" font-weight="normal" fill="#222" text-anchor="middle" stroke="#222" stroke-width="0.12">1</text>
<line x1="185.70" y1="300.60" x2="185.70" y2="302.80" stroke="#111" stroke-width="0.9"/>
<text x="185.70" y="313.20" font-size="7" font-weight="normal" fill="#222" text-anchor="middle" stroke="#222" stroke-width="0.12">2</text>
<line x1="197.80" y1="300.60" x2="197.80" y2="302.80" stroke="#111" stroke-width="0.9"/>
<text x="197.80" y="313.20" font-size="7" font-weight="normal" fill="#222" text-anchor="middle" stroke="#222" stroke-width="0.12">3</text>
<text x="139.10" y="277.80" font-size="6.8" font-weight="normal" fill="#222" text-anchor="middle" textLength="28" lengthAdjust="spacingAndGlyphs" transform="rotate(-90 139.1 277.8)" stroke="#222" stroke-width="0.12">% Viability</text>
<text x="181.10" y="323.90" font-size="6.4" font-weight="normal" fill="#222" text-anchor="middle" textLength="55" lengthAdjust="spacingAndGlyphs" stroke="#222" stroke-width="0.12">Venetoclax (log nM)</text>
<text x="200.00" y="265.30" font-size="6.8" font-weight="normal" fill="#222" text-anchor="start" textLength="21.8" lengthAdjust="spacingAndGlyphs" stroke="#222" stroke-width="0.12">FTY720</text>
<line x1="203.20" y1="272.40" x2="209.60" y2="272.40" stroke="#1a1a1a" stroke-width="0.9"/>
<circle cx="206.40" cy="272.40" r="1.30" fill="#1a1a1a" stroke="none" stroke-width="1"/>
<text x="213.80" y="274.90" font-size="7" font-weight="normal" fill="#222" text-anchor="start" textLength="15.2" lengthAdjust="spacingAndGlyphs" stroke="#222" stroke-width="0.12">0 &#181;M</text>
<line x1="203.20" y1="279.50" x2="209.60" y2="279.50" stroke="#eea6ad" stroke-width="0.9"/>
<circle cx="206.40" cy="279.50" r="1.30" fill="#eea6ad" stroke="none" stroke-width="1"/>
<text x="213.80" y="282.00" font-size="7" font-weight="normal" fill="#222" text-anchor="start" textLength="15.2" lengthAdjust="spacingAndGlyphs" stroke="#222" stroke-width="0.12">4 &#181;M</text>
<line x1="203.20" y1="286.20" x2="209.60" y2="286.20" stroke="#c81d3e" stroke-width="0.9"/>
<circle cx="206.40" cy="286.20" r="1.30" fill="#c81d3e" stroke="none" stroke-width="1"/>
<text x="213.80" y="288.70" font-size="7" font-weight="normal" fill="#222" text-anchor="start" textLength="15.2" lengthAdjust="spacingAndGlyphs" stroke="#222" stroke-width="0.12">5 &#181;M</text>
<text x="230.80" y="104.10" font-size="7.8" font-weight="normal" fill="#222" text-anchor="start" textLength="95.4" lengthAdjust="spacingAndGlyphs" stroke="#222" stroke-width="0.12">HL-60 CLONE 4 (B55&#945; WT)</text>
<text x="274.60" y="113.70" font-size="7.8" font-weight="normal" fill="#222" text-anchor="start" textLength="38.4" lengthAdjust="spacingAndGlyphs" stroke="#222" stroke-width="0.12">Venetoclax</text>
<rect x="260.00" y="121.90" width="31.60" height="4.60" fill="#f5dccb" stroke="none" stroke-width="1"/>
<rect x="260.00" y="126.50" width="31.60" height="10.40" fill="#f2ccb4" stroke="none" stroke-width="1"/>
<rect x="260.00" y="136.90" width="31.60" height="5.50" fill="#f0bfa0" stroke="none" stroke-width="1"/>
<rect x="260.00" y="142.40" width="31.60" height="5.90" fill="#efb189" stroke="none" stroke-width="1"/>
<rect x="260.00" y="148.30" width="31.60" height="5.90" fill="#ec7034" stroke="none" stroke-width="1"/>
<rect x="260.00" y="121.90" width="5.70" height="4.60" fill="#ffffff" stroke="none" stroke-width="1"/>
<rect x="260.00" y="126.50" width="5.70" height="13.40" fill="#f7e2d6" stroke="none" stroke-width="1"/>
<rect x="260.00" y="139.90" width="5.70" height="7.00" fill="#f3c9b2" stroke="none" stroke-width="1"/>
<rect x="260.00" y="146.90" width="5.70" height="7.30" fill="#f0a67c" stroke="none" stroke-width="1"/>
<rect x="260.00" y="121.90" width="31.60" height="32.20" fill="none" stroke="#222" stroke-width="0.8"/>
<rect x="265.70" y="126.70" width="25.90" height="27.40" fill="none" stroke="#2e221c" stroke-width="1.25" stroke-dasharray="2.3,1.6"/>
<polygon points="267.20,120.50 291.40,116.90 291.40,120.50" fill="#111" stroke="none" stroke-width="1"/>
<polygon points="258.60,128.10 258.60,153.80 255.20,153.80" fill="#111" stroke="none" stroke-width="1"/>
<text x="252.40" y="153.60" font-size="6.6" font-weight="normal" fill="#222" text-anchor="start" textLength="20.2" lengthAdjust="spacingAndGlyphs" transform="rotate(-90 252.4 153.60000000000002)" stroke="#222" stroke-width="0.12">FTY720</text>
<line x1="296.30" y1="137.60" x2="301.30" y2="137.60" stroke="#222" stroke-width="1"/>
<polygon points="303.30,137.60 300.70,136.00 300.70,139.20" fill="#222" stroke="none" stroke-width="1"/>
<rect x="311.90" y="126.80" width="26.40" height="11.10" fill="#ffffff" stroke="none" stroke-width="1"/>
<rect x="311.90" y="137.90" width="26.40" height="11.40" fill="#8ebde0" stroke="none" stroke-width="1"/>
<rect x="311.90" y="149.30" width="26.40" height="5.20" fill="#5c9ad0" stroke="none" stroke-width="1"/>
<rect x="312.40" y="127.20" width="5.60" height="5.00" fill="#a8cce8" stroke="none" stroke-width="1"/>
<rect x="311.90" y="126.80" width="26.40" height="27.30" fill="none" stroke="#555" stroke-width="0.9"/>
<rect x="311.90" y="137.90" width="26.40" height="11.40" fill="none" stroke="#1c2636" stroke-width="1.25" stroke-dasharray="2.3,1.6"/>
<polygon points="312.10,124.60 338.10,121.30 338.10,124.60" fill="#111" stroke="none" stroke-width="1"/>
<polygon points="309.40,127.60 309.40,153.70 305.60,153.70" fill="#111" stroke="none" stroke-width="1"/>
<line x1="342.00" y1="137.60" x2="347.60" y2="137.60" stroke="#222" stroke-width="1"/>
<polygon points="349.60,137.60 347.00,136.00 347.00,139.20" fill="#222" stroke="none" stroke-width="1"/>
<line x1="384.00" y1="128.20" x2="423.93" y2="128.20" stroke="#333" stroke-width="0.7" stroke-dasharray="2,1.5"/>
<line x1="405.78" y1="117.76" x2="405.78" y2="115.60" stroke="#1a1a1a" stroke-width="0.7"/>
<line x1="404.78" y1="115.60" x2="406.78" y2="115.60" stroke="#1a1a1a" stroke-width="0.6"/>
<line x1="404.78" y1="117.76" x2="406.78" y2="117.76" stroke="#1a1a1a" stroke-width="0.6"/>
<line x1="409.41" y1="118.84" x2="409.41" y2="116.68" stroke="#1a1a1a" stroke-width="0.7"/>
<line x1="408.41" y1="116.68" x2="410.41" y2="116.68" stroke="#1a1a1a" stroke-width="0.6"/>
<line x1="408.41" y1="118.84" x2="410.41" y2="118.84" stroke="#1a1a1a" stroke-width="0.6"/>
<line x1="413.04" y1="121.00" x2="413.04" y2="117.40" stroke="#1a1a1a" stroke-width="0.7"/>
<line x1="412.04" y1="117.40" x2="414.04" y2="117.40" stroke="#1a1a1a" stroke-width="0.6"/>
<line x1="412.04" y1="121.00" x2="414.04" y2="121.00" stroke="#1a1a1a" stroke-width="0.6"/>
<line x1="416.67" y1="126.40" x2="416.67" y2="120.64" stroke="#1a1a1a" stroke-width="0.7"/>
<line x1="415.67" y1="120.64" x2="417.67" y2="120.64" stroke="#1a1a1a" stroke-width="0.6"/>
<line x1="415.67" y1="126.40" x2="417.67" y2="126.40" stroke="#1a1a1a" stroke-width="0.6"/>
<line x1="405.78" y1="128.20" x2="405.78" y2="122.44" stroke="#6a5055" stroke-width="0.7"/>
<line x1="404.78" y1="122.44" x2="406.78" y2="122.44" stroke="#6a5055" stroke-width="0.6"/>
<line x1="404.78" y1="128.20" x2="406.78" y2="128.20" stroke="#6a5055" stroke-width="0.6"/>
<line x1="409.41" y1="126.76" x2="409.41" y2="121.00" stroke="#6a5055" stroke-width="0.7"/>
<line x1="408.41" y1="121.00" x2="410.41" y2="121.00" stroke="#6a5055" stroke-width="0.6"/>
<line x1="408.41" y1="126.76" x2="410.41" y2="126.76" stroke="#6a5055" stroke-width="0.6"/>
<line x1="413.04" y1="131.80" x2="413.04" y2="126.04" stroke="#6a5055" stroke-width="0.7"/>
<line x1="412.04" y1="126.04" x2="414.04" y2="126.04" stroke="#6a5055" stroke-width="0.6"/>
<line x1="412.04" y1="131.80" x2="414.04" y2="131.80" stroke="#6a5055" stroke-width="0.6"/>
<line x1="416.67" y1="133.96" x2="416.67" y2="128.20" stroke="#6a5055" stroke-width="0.7"/>
<line x1="415.67" y1="128.20" x2="417.67" y2="128.20" stroke="#6a5055" stroke-width="0.6"/>
<line x1="415.67" y1="133.96" x2="417.67" y2="133.96" stroke="#6a5055" stroke-width="0.6"/>
<line x1="405.78" y1="129.64" x2="405.78" y2="125.32" stroke="#5a1828" stroke-width="0.7"/>
<line x1="404.78" y1="125.32" x2="406.78" y2="125.32" stroke="#5a1828" stroke-width="0.6"/>
<line x1="404.78" y1="129.64" x2="406.78" y2="129.64" stroke="#5a1828" stroke-width="0.6"/>
<line x1="409.41" y1="131.80" x2="409.41" y2="127.48" stroke="#5a1828" stroke-width="0.7"/>
<line x1="408.41" y1="127.48" x2="410.41" y2="127.48" stroke="#5a1828" stroke-width="0.6"/>
<line x1="408.41" y1="131.80" x2="410.41" y2="131.80" stroke="#5a1828" stroke-width="0.6"/>
<line x1="413.04" y1="136.12" x2="413.04" y2="131.80" stroke="#5a1828" stroke-width="0.7"/>
<line x1="412.04" y1="131.80" x2="414.04" y2="131.80" stroke="#5a1828" stroke-width="0.6"/>
<line x1="412.04" y1="136.12" x2="414.04" y2="136.12" stroke="#5a1828" stroke-width="0.6"/>
<line x1="416.67" y1="139.36" x2="416.67" y2="135.04" stroke="#5a1828" stroke-width="0.7"/>
<line x1="415.67" y1="135.04" x2="417.67" y2="135.04" stroke="#5a1828" stroke-width="0.6"/>
<line x1="415.67" y1="139.36" x2="417.67" y2="139.36" stroke="#5a1828" stroke-width="0.6"/>
<path d="M384.00,116.32 C386.02,117.10 392.47,119.14 396.10,121.00 C399.73,122.86 403.26,125.68 405.78,127.48 C408.30,129.28 409.41,130.18 411.23,131.80 C413.04,133.42 415.76,136.30 416.67,137.20" fill="none" stroke="#c81d3e" stroke-width="1.0"/>
<path d="M384.00,113.80 C386.02,114.58 392.47,116.68 396.10,118.48 C399.73,120.28 403.26,123.04 405.78,124.60 C408.30,126.16 409.41,126.76 411.23,127.84 C413.04,128.92 415.76,130.54 416.67,131.08" fill="none" stroke="#eea6ad" stroke-width="1.0"/>
<path d="M384.00,111.10 C386.02,111.31 392.47,111.49 396.10,112.36 C399.73,113.23 403.26,115.24 405.78,116.32 C408.30,117.40 409.41,117.64 411.23,118.84 C413.04,120.04 415.76,122.74 416.67,123.52" fill="none" stroke="#1a1a1a" stroke-width="1.0"/>
<circle cx="384.00" cy="116.32" r="1.25" fill="#c81d3e" stroke="none" stroke-width="1"/>
<circle cx="405.78" cy="127.48" r="1.25" fill="#c81d3e" stroke="none" stroke-width="1"/>
<circle cx="409.41" cy="129.64" r="1.25" fill="#c81d3e" stroke="none" stroke-width="1"/>
<circle cx="413.04" cy="133.96" r="1.25" fill="#c81d3e" stroke="none" stroke-width="1"/>
<circle cx="416.67" cy="137.20" r="1.25" fill="#c81d3e" stroke="none" stroke-width="1"/>
<circle cx="405.78" cy="125.32" r="1.25" fill="#eea6ad" stroke="none" stroke-width="1"/>
<circle cx="409.41" cy="123.88" r="1.25" fill="#eea6ad" stroke="none" stroke-width="1"/>
<circle cx="413.04" cy="128.92" r="1.25" fill="#eea6ad" stroke="none" stroke-width="1"/>
<circle cx="416.67" cy="131.08" r="1.25" fill="#eea6ad" stroke="none" stroke-width="1"/>
<circle cx="384.00" cy="110.56" r="1.25" fill="#1a1a1a" stroke="none" stroke-width="1"/>
<circle cx="405.78" cy="116.68" r="1.25" fill="#1a1a1a" stroke="none" stroke-width="1"/>
<circle cx="409.41" cy="117.76" r="1.25" fill="#1a1a1a" stroke="none" stroke-width="1"/>
<circle cx="413.04" cy="119.20" r="1.25" fill="#1a1a1a" stroke="none" stroke-width="1"/>
<circle cx="416.67" cy="123.52" r="1.25" fill="#1a1a1a" stroke="none" stroke-width="1"/>
<line x1="384.00" y1="101.20" x2="384.00" y2="146.70" stroke="#111" stroke-width="1.1"/>
<line x1="383.50" y1="146.20" x2="423.93" y2="146.20" stroke="#111" stroke-width="1.1"/>
<line x1="381.80" y1="146.20" x2="384.00" y2="146.20" stroke="#111" stroke-width="0.9"/>
<text x="379.20" y="148.70" font-size="7" font-weight="normal" fill="#222" text-anchor="end" textLength="3.6" lengthAdjust="spacingAndGlyphs" stroke="#222" stroke-width="0.12">0</text>
<line x1="381.80" y1="131.80" x2="384.00" y2="131.80" stroke="#111" stroke-width="0.9"/>
<text x="379.20" y="134.30" font-size="7" font-weight="normal" fill="#222" text-anchor="end" textLength="7.2" lengthAdjust="spacingAndGlyphs" stroke="#222" stroke-width="0.12">40</text>
<line x1="381.80" y1="117.40" x2="384.00" y2="117.40" stroke="#111" stroke-width="0.9"/>
<text x="379.20" y="119.90" font-size="7" font-weight="normal" fill="#222" text-anchor="end" textLength="7.2" lengthAdjust="spacingAndGlyphs" stroke="#222" stroke-width="0.12">80</text>
<line x1="381.80" y1="103.00" x2="384.00" y2="103.00" stroke="#111" stroke-width="0.9"/>
<text x="379.20" y="105.50" font-size="7" font-weight="normal" fill="#222" text-anchor="end" textLength="10.8" lengthAdjust="spacingAndGlyphs" stroke="#222" stroke-width="0.12">120</text>
<line x1="384.00" y1="146.20" x2="384.00" y2="148.40" stroke="#111" stroke-width="0.9"/>
<text x="384.00" y="158.80" font-size="7" font-weight="normal" fill="#222" text-anchor="middle" stroke="#222" stroke-width="0.12">0</text>
<line x1="396.10" y1="146.20" x2="396.10" y2="148.40" stroke="#111" stroke-width="0.9"/>
<text x="396.10" y="158.80" font-size="7" font-weight="normal" fill="#222" text-anchor="middle" stroke="#222" stroke-width="0.12">1</text>
<line x1="408.20" y1="146.20" x2="408.20" y2="148.40" stroke="#111" stroke-width="0.9"/>
<text x="408.20" y="158.80" font-size="7" font-weight="normal" fill="#222" text-anchor="middle" stroke="#222" stroke-width="0.12">2</text>
<line x1="420.30" y1="146.20" x2="420.30" y2="148.40" stroke="#111" stroke-width="0.9"/>
<text x="420.30" y="158.80" font-size="7" font-weight="normal" fill="#222" text-anchor="middle" stroke="#222" stroke-width="0.12">3</text>
<text x="361.60" y="123.40" font-size="6.8" font-weight="normal" fill="#222" text-anchor="middle" textLength="28" lengthAdjust="spacingAndGlyphs" transform="rotate(-90 361.6 123.39999999999999)" stroke="#222" stroke-width="0.12">% Viability</text>
<text x="403.60" y="169.50" font-size="6.4" font-weight="normal" fill="#222" text-anchor="middle" textLength="55" lengthAdjust="spacingAndGlyphs" stroke="#222" stroke-width="0.12">Venetoclax (log nM)</text>
<text x="422.50" y="110.90" font-size="6.8" font-weight="normal" fill="#222" text-anchor="start" textLength="21.8" lengthAdjust="spacingAndGlyphs" stroke="#222" stroke-width="0.12">FTY720</text>
<line x1="425.70" y1="118.00" x2="432.10" y2="118.00" stroke="#1a1a1a" stroke-width="0.9"/>
<circle cx="428.90" cy="118.00" r="1.30" fill="#1a1a1a" stroke="none" stroke-width="1"/>
<text x="436.30" y="120.50" font-size="7" font-weight="normal" fill="#222" text-anchor="start" textLength="15.2" lengthAdjust="spacingAndGlyphs" stroke="#222" stroke-width="0.12">0 &#181;M</text>
<line x1="425.70" y1="125.10" x2="432.10" y2="125.10" stroke="#eea6ad" stroke-width="0.9"/>
<circle cx="428.90" cy="125.10" r="1.30" fill="#eea6ad" stroke="none" stroke-width="1"/>
<text x="436.30" y="127.60" font-size="7" font-weight="normal" fill="#222" text-anchor="start" textLength="15.2" lengthAdjust="spacingAndGlyphs" stroke="#222" stroke-width="0.12">4 &#181;M</text>
<line x1="425.70" y1="131.80" x2="432.10" y2="131.80" stroke="#c81d3e" stroke-width="0.9"/>
<circle cx="428.90" cy="131.80" r="1.30" fill="#c81d3e" stroke="none" stroke-width="1"/>
<text x="436.30" y="134.30" font-size="7" font-weight="normal" fill="#222" text-anchor="start" textLength="15.2" lengthAdjust="spacingAndGlyphs" stroke="#222" stroke-width="0.12">5 &#181;M</text>
<text x="230.80" y="178.00" font-size="7.8" font-weight="normal" fill="#222" text-anchor="start" textLength="123.4" lengthAdjust="spacingAndGlyphs" stroke="#222" stroke-width="0.12">HL-60 CLONE 5 (B55&#945; inactivation)</text>
<text x="276.20" y="186.70" font-size="7.8" font-weight="normal" fill="#222" text-anchor="start" textLength="38.4" lengthAdjust="spacingAndGlyphs" stroke="#222" stroke-width="0.12">Venetoclax</text>
<rect x="260.00" y="195.70" width="31.60" height="4.80" fill="#f2c8b0" stroke="none" stroke-width="1"/>
<rect x="260.00" y="200.50" width="31.60" height="10.50" fill="#f0a880" stroke="none" stroke-width="1"/>
<rect x="260.00" y="211.00" width="31.60" height="16.70" fill="#ed8445" stroke="none" stroke-width="1"/>
<rect x="260.00" y="195.70" width="5.70" height="4.80" fill="#ffffff" stroke="none" stroke-width="1"/>
<rect x="260.00" y="200.50" width="5.70" height="10.50" fill="#f7e0d2" stroke="none" stroke-width="1"/>
<rect x="260.00" y="211.00" width="5.70" height="11.20" fill="#f4d0bc" stroke="none" stroke-width="1"/>
<rect x="260.00" y="222.20" width="5.70" height="5.50" fill="#ee945e" stroke="none" stroke-width="1"/>
<rect x="260.00" y="195.70" width="31.60" height="32.20" fill="none" stroke="#222" stroke-width="0.8"/>
<rect x="265.70" y="200.50" width="25.90" height="27.40" fill="none" stroke="#2e221c" stroke-width="1.25" stroke-dasharray="2.3,1.6"/>
<polygon points="267.20,194.30 291.40,190.70 291.40,194.30" fill="#111" stroke="none" stroke-width="1"/>
<polygon points="258.60,201.90 258.60,227.60 255.20,227.60" fill="#111" stroke="none" stroke-width="1"/>
<text x="252.40" y="227.40" font-size="6.6" font-weight="normal" fill="#222" text-anchor="start" textLength="20.2" lengthAdjust="spacingAndGlyphs" transform="rotate(-90 252.4 227.39999999999998)" stroke="#222" stroke-width="0.12">FTY720</text>
<line x1="296.30" y1="211.40" x2="301.30" y2="211.40" stroke="#222" stroke-width="1"/>
<polygon points="303.30,211.40 300.70,209.80 300.70,213.00" fill="#222" stroke="none" stroke-width="1"/>
<rect x="311.90" y="199.80" width="26.40" height="4.90" fill="#ffffff" stroke="none" stroke-width="1"/>
<rect x="311.90" y="204.70" width="26.40" height="3.00" fill="#dcebf7" stroke="none" stroke-width="1"/>
<rect x="311.90" y="207.70" width="26.40" height="3.50" fill="#b0d2ec" stroke="none" stroke-width="1"/>
<rect x="311.90" y="211.20" width="26.40" height="11.20" fill="#5a9bd0" stroke="none" stroke-width="1"/>
<rect x="311.90" y="222.40" width="26.40" height="5.50" fill="#4a8cc8" stroke="none" stroke-width="1"/>
<rect x="311.90" y="199.80" width="26.40" height="28.10" fill="none" stroke="#555" stroke-width="0.9"/>
<rect x="311.90" y="211.20" width="26.40" height="11.20" fill="none" stroke="#1c2636" stroke-width="1.25" stroke-dasharray="2.3,1.6"/>
<polygon points="312.10,198.40 338.10,195.10 338.10,198.40" fill="#111" stroke="none" stroke-width="1"/>
<polygon points="309.40,201.40 309.40,227.50 305.60,227.50" fill="#111" stroke="none" stroke-width="1"/>
<line x1="342.00" y1="211.40" x2="347.60" y2="211.40" stroke="#222" stroke-width="1"/>
<polygon points="349.60,211.40 347.00,209.80 347.00,213.00" fill="#222" stroke="none" stroke-width="1"/>
<line x1="384.00" y1="203.80" x2="423.93" y2="203.80" stroke="#333" stroke-width="0.7" stroke-dasharray="2,1.5"/>
<line x1="405.78" y1="199.66" x2="405.78" y2="196.06" stroke="#1a1a1a" stroke-width="0.7"/>
<line x1="404.78" y1="196.06" x2="406.78" y2="196.06" stroke="#1a1a1a" stroke-width="0.6"/>
<line x1="404.78" y1="199.66" x2="406.78" y2="199.66" stroke="#1a1a1a" stroke-width="0.6"/>
<line x1="409.41" y1="199.66" x2="409.41" y2="196.06" stroke="#1a1a1a" stroke-width="0.7"/>
<line x1="408.41" y1="196.06" x2="410.41" y2="196.06" stroke="#1a1a1a" stroke-width="0.6"/>
<line x1="408.41" y1="199.66" x2="410.41" y2="199.66" stroke="#1a1a1a" stroke-width="0.6"/>
<line x1="413.04" y1="205.60" x2="413.04" y2="201.28" stroke="#1a1a1a" stroke-width="0.7"/>
<line x1="412.04" y1="201.28" x2="414.04" y2="201.28" stroke="#1a1a1a" stroke-width="0.6"/>
<line x1="412.04" y1="205.60" x2="414.04" y2="205.60" stroke="#1a1a1a" stroke-width="0.6"/>
<line x1="416.67" y1="207.76" x2="416.67" y2="202.00" stroke="#1a1a1a" stroke-width="0.7"/>
<line x1="415.67" y1="202.00" x2="417.67" y2="202.00" stroke="#1a1a1a" stroke-width="0.6"/>
<line x1="415.67" y1="207.76" x2="417.67" y2="207.76" stroke="#1a1a1a" stroke-width="0.6"/>
<line x1="405.78" y1="212.44" x2="405.78" y2="208.12" stroke="#6a5055" stroke-width="0.7"/>
<line x1="404.78" y1="208.12" x2="406.78" y2="208.12" stroke="#6a5055" stroke-width="0.6"/>
<line x1="404.78" y1="212.44" x2="406.78" y2="212.44" stroke="#6a5055" stroke-width="0.6"/>
<line x1="409.41" y1="210.28" x2="409.41" y2="204.52" stroke="#6a5055" stroke-width="0.7"/>
<line x1="408.41" y1="204.52" x2="410.41" y2="204.52" stroke="#6a5055" stroke-width="0.6"/>
<line x1="408.41" y1="210.28" x2="410.41" y2="210.28" stroke="#6a5055" stroke-width="0.6"/>
<line x1="413.04" y1="216.76" x2="413.04" y2="212.44" stroke="#6a5055" stroke-width="0.7"/>
<line x1="412.04" y1="212.44" x2="414.04" y2="212.44" stroke="#6a5055" stroke-width="0.6"/>
<line x1="412.04" y1="216.76" x2="414.04" y2="216.76" stroke="#6a5055" stroke-width="0.6"/>
<line x1="416.67" y1="217.84" x2="416.67" y2="214.24" stroke="#6a5055" stroke-width="0.7"/>
<line x1="415.67" y1="214.24" x2="417.67" y2="214.24" stroke="#6a5055" stroke-width="0.6"/>
<line x1="415.67" y1="217.84" x2="417.67" y2="217.84" stroke="#6a5055" stroke-width="0.6"/>
<line x1="405.78" y1="213.52" x2="405.78" y2="209.92" stroke="#5a1828" stroke-width="0.7"/>
<line x1="404.78" y1="209.92" x2="406.78" y2="209.92" stroke="#5a1828" stroke-width="0.6"/>
<line x1="404.78" y1="213.52" x2="406.78" y2="213.52" stroke="#5a1828" stroke-width="0.6"/>
<line x1="409.41" y1="215.32" x2="409.41" y2="211.00" stroke="#5a1828" stroke-width="0.7"/>
<line x1="408.41" y1="211.00" x2="410.41" y2="211.00" stroke="#5a1828" stroke-width="0.6"/>
<line x1="408.41" y1="215.32" x2="410.41" y2="215.32" stroke="#5a1828" stroke-width="0.6"/>
<line x1="413.04" y1="216.76" x2="413.04" y2="213.16" stroke="#5a1828" stroke-width="0.7"/>
<line x1="412.04" y1="213.16" x2="414.04" y2="213.16" stroke="#5a1828" stroke-width="0.6"/>
<line x1="412.04" y1="216.76" x2="414.04" y2="216.76" stroke="#5a1828" stroke-width="0.6"/>
<line x1="416.67" y1="218.20" x2="416.67" y2="214.60" stroke="#5a1828" stroke-width="0.7"/>
<line x1="415.67" y1="214.60" x2="417.67" y2="214.60" stroke="#5a1828" stroke-width="0.6"/>
<line x1="415.67" y1="218.20" x2="417.67" y2="218.20" stroke="#5a1828" stroke-width="0.6"/>
<path d="M384.00,191.56 C386.02,193.12 392.47,197.68 396.10,200.92 C399.73,204.16 403.26,208.72 405.78,211.00 C408.30,213.28 409.41,213.58 411.23,214.60 C413.04,215.62 415.76,216.70 416.67,217.12" fill="none" stroke="#c81d3e" stroke-width="1.0"/>
<path d="M384.00,191.20 C386.02,192.70 392.47,197.08 396.10,200.20 C399.73,203.32 403.26,207.70 405.78,209.92 C408.30,212.14 409.41,212.50 411.23,213.52 C413.04,214.54 415.76,215.62 416.67,216.04" fill="none" stroke="#eea6ad" stroke-width="1.0"/>
<path d="M384.00,187.60 C386.02,187.99 392.47,188.44 396.10,189.94 C399.73,191.44 403.26,194.71 405.78,196.60 C408.30,198.49 409.41,199.78 411.23,201.28 C413.04,202.78 415.76,204.88 416.67,205.60" fill="none" stroke="#1a1a1a" stroke-width="1.0"/>
<circle cx="384.00" cy="191.56" r="1.25" fill="#c81d3e" stroke="none" stroke-width="1"/>
<circle cx="405.78" cy="211.72" r="1.25" fill="#c81d3e" stroke="none" stroke-width="1"/>
<circle cx="409.41" cy="213.16" r="1.25" fill="#c81d3e" stroke="none" stroke-width="1"/>
<circle cx="413.04" cy="214.96" r="1.25" fill="#c81d3e" stroke="none" stroke-width="1"/>
<circle cx="416.67" cy="216.40" r="1.25" fill="#c81d3e" stroke="none" stroke-width="1"/>
<circle cx="405.78" cy="210.28" r="1.25" fill="#eea6ad" stroke="none" stroke-width="1"/>
<circle cx="409.41" cy="207.40" r="1.25" fill="#eea6ad" stroke="none" stroke-width="1"/>
<circle cx="413.04" cy="214.60" r="1.25" fill="#eea6ad" stroke="none" stroke-width="1"/>
<circle cx="416.67" cy="216.04" r="1.25" fill="#eea6ad" stroke="none" stroke-width="1"/>
<circle cx="384.00" cy="186.16" r="1.25" fill="#1a1a1a" stroke="none" stroke-width="1"/>
<circle cx="405.78" cy="197.86" r="1.25" fill="#1a1a1a" stroke="none" stroke-width="1"/>
<circle cx="409.41" cy="197.86" r="1.25" fill="#1a1a1a" stroke="none" stroke-width="1"/>
<circle cx="413.04" cy="203.44" r="1.25" fill="#1a1a1a" stroke="none" stroke-width="1"/>
<circle cx="416.67" cy="204.88" r="1.25" fill="#1a1a1a" stroke="none" stroke-width="1"/>
<line x1="384.00" y1="176.80" x2="384.00" y2="222.30" stroke="#111" stroke-width="1.1"/>
<line x1="383.50" y1="221.80" x2="423.93" y2="221.80" stroke="#111" stroke-width="1.1"/>
<line x1="381.80" y1="221.80" x2="384.00" y2="221.80" stroke="#111" stroke-width="0.9"/>
<text x="379.20" y="224.30" font-size="7" font-weight="normal" fill="#222" text-anchor="end" textLength="3.6" lengthAdjust="spacingAndGlyphs" stroke="#222" stroke-width="0.12">0</text>
<line x1="381.80" y1="207.40" x2="384.00" y2="207.40" stroke="#111" stroke-width="0.9"/>
<text x="379.20" y="209.90" font-size="7" font-weight="normal" fill="#222" text-anchor="end" textLength="7.2" lengthAdjust="spacingAndGlyphs" stroke="#222" stroke-width="0.12">40</text>
<line x1="381.80" y1="193.00" x2="384.00" y2="193.00" stroke="#111" stroke-width="0.9"/>
<text x="379.20" y="195.50" font-size="7" font-weight="normal" fill="#222" text-anchor="end" textLength="7.2" lengthAdjust="spacingAndGlyphs" stroke="#222" stroke-width="0.12">80</text>
<line x1="381.80" y1="178.60" x2="384.00" y2="178.60" stroke="#111" stroke-width="0.9"/>
<text x="379.20" y="181.10" font-size="7" font-weight="normal" fill="#222" text-anchor="end" textLength="10.8" lengthAdjust="spacingAndGlyphs" stroke="#222" stroke-width="0.12">120</text>
<line x1="384.00" y1="221.80" x2="384.00" y2="224.00" stroke="#111" stroke-width="0.9"/>
<text x="384.00" y="234.40" font-size="7" font-weight="normal" fill="#222" text-anchor="middle" stroke="#222" stroke-width="0.12">0</text>
<line x1="396.10" y1="221.80" x2="396.10" y2="224.00" stroke="#111" stroke-width="0.9"/>
<text x="396.10" y="234.40" font-size="7" font-weight="normal" fill="#222" text-anchor="middle" stroke="#222" stroke-width="0.12">1</text>
<line x1="408.20" y1="221.80" x2="408.20" y2="224.00" stroke="#111" stroke-width="0.9"/>
<text x="408.20" y="234.40" font-size="7" font-weight="normal" fill="#222" text-anchor="middle" stroke="#222" stroke-width="0.12">2</text>
<line x1="420.30" y1="221.80" x2="420.30" y2="224.00" stroke="#111" stroke-width="0.9"/>
<text x="420.30" y="234.40" font-size="7" font-weight="normal" fill="#222" text-anchor="middle" stroke="#222" stroke-width="0.12">3</text>
<text x="361.60" y="199.00" font-size="6.8" font-weight="normal" fill="#222" text-anchor="middle" textLength="28" lengthAdjust="spacingAndGlyphs" transform="rotate(-90 361.6 199.0)" stroke="#222" stroke-width="0.12">% Viability</text>
<text x="403.60" y="245.10" font-size="6.4" font-weight="normal" fill="#222" text-anchor="middle" textLength="55" lengthAdjust="spacingAndGlyphs" stroke="#222" stroke-width="0.12">Venetoclax (log nM)</text>
<text x="422.50" y="186.50" font-size="6.8" font-weight="normal" fill="#222" text-anchor="start" textLength="21.8" lengthAdjust="spacingAndGlyphs" stroke="#222" stroke-width="0.12">FTY720</text>
<line x1="425.70" y1="193.60" x2="432.10" y2="193.60" stroke="#1a1a1a" stroke-width="0.9"/>
<circle cx="428.90" cy="193.60" r="1.30" fill="#1a1a1a" stroke="none" stroke-width="1"/>
<text x="436.30" y="196.10" font-size="7" font-weight="normal" fill="#222" text-anchor="start" textLength="15.2" lengthAdjust="spacingAndGlyphs" stroke="#222" stroke-width="0.12">0 &#181;M</text>
<line x1="425.70" y1="200.70" x2="432.10" y2="200.70" stroke="#eea6ad" stroke-width="0.9"/>
<circle cx="428.90" cy="200.70" r="1.30" fill="#eea6ad" stroke="none" stroke-width="1"/>
<text x="436.30" y="203.20" font-size="7" font-weight="normal" fill="#222" text-anchor="start" textLength="15.2" lengthAdjust="spacingAndGlyphs" stroke="#222" stroke-width="0.12">4 &#181;M</text>
<line x1="425.70" y1="207.40" x2="432.10" y2="207.40" stroke="#c81d3e" stroke-width="0.9"/>
<circle cx="428.90" cy="207.40" r="1.30" fill="#c81d3e" stroke="none" stroke-width="1"/>
<text x="436.30" y="209.90" font-size="7" font-weight="normal" fill="#222" text-anchor="start" textLength="15.2" lengthAdjust="spacingAndGlyphs" stroke="#222" stroke-width="0.12">5 &#181;M</text>
<text x="231.00" y="251.40" font-size="7.8" font-weight="normal" fill="#222" text-anchor="start" textLength="122.7" lengthAdjust="spacingAndGlyphs" stroke="#222" stroke-width="0.12">HL-60 CLONE 6 (B55&#945; inactivation)</text>
<text x="293.70" y="261.80" font-size="7.8" font-weight="normal" fill="#222" text-anchor="start" textLength="38.4" lengthAdjust="spacingAndGlyphs" stroke="#222" stroke-width="0.12">Venetoclax</text>
<rect x="260.00" y="273.20" width="31.60" height="4.80" fill="#f4d0bc" stroke="none" stroke-width="1"/>
<rect x="260.00" y="278.00" width="31.60" height="10.00" fill="#f1c0a0" stroke="none" stroke-width="1"/>
<rect x="260.00" y="288.00" width="31.60" height="10.00" fill="#ee9a68" stroke="none" stroke-width="1"/>
<rect x="260.00" y="298.00" width="31.60" height="7.00" fill="#ec7e42" stroke="none" stroke-width="1"/>
<rect x="260.00" y="273.20" width="5.70" height="4.80" fill="#ffffff" stroke="none" stroke-width="1"/>
<rect x="260.00" y="278.00" width="5.70" height="11.20" fill="#f8e4d9" stroke="none" stroke-width="1"/>
<rect x="260.00" y="289.20" width="5.70" height="8.80" fill="#f4d0bc" stroke="none" stroke-width="1"/>
<rect x="260.00" y="298.00" width="5.70" height="7.00" fill="#f1b08c" stroke="none" stroke-width="1"/>
<rect x="260.00" y="273.20" width="31.60" height="32.20" fill="none" stroke="#222" stroke-width="0.8"/>
<rect x="265.70" y="278.00" width="25.90" height="27.40" fill="none" stroke="#2e221c" stroke-width="1.25" stroke-dasharray="2.3,1.6"/>
<polygon points="267.20,271.80 291.40,268.20 291.40,271.80" fill="#111" stroke="none" stroke-width="1"/>
<polygon points="258.60,279.40 258.60,305.10 255.20,305.10" fill="#111" stroke="none" stroke-width="1"/>
<text x="252.40" y="304.90" font-size="6.6" font-weight="normal" fill="#222" text-anchor="start" textLength="20.2" lengthAdjust="spacingAndGlyphs" transform="rotate(-90 252.4 304.9)" stroke="#222" stroke-width="0.12">FTY720</text>
<line x1="296.30" y1="288.90" x2="301.30" y2="288.90" stroke="#222" stroke-width="1"/>
<polygon points="303.30,288.90 300.70,287.30 300.70,290.50" fill="#222" stroke="none" stroke-width="1"/>
<rect x="311.90" y="278.10" width="26.40" height="11.10" fill="#ffffff" stroke="none" stroke-width="1"/>
<rect x="311.90" y="289.20" width="26.40" height="10.90" fill="#3384c4" stroke="none" stroke-width="1"/>
<rect x="311.90" y="300.10" width="26.40" height="4.90" fill="#2f7cbd" stroke="none" stroke-width="1"/>
<rect x="332.90" y="283.10" width="5.00" height="5.00" fill="#c8e0ea" stroke="none" stroke-width="1"/>
<rect x="311.90" y="278.10" width="26.40" height="27.30" fill="none" stroke="#555" stroke-width="0.9"/>
<rect x="311.90" y="289.20" width="26.40" height="10.90" fill="none" stroke="#1c2636" stroke-width="1.25" stroke-dasharray="2.3,1.6"/>
<polygon points="312.10,275.90 338.10,272.60 338.10,275.90" fill="#111" stroke="none" stroke-width="1"/>
<polygon points="309.40,278.90 309.40,305.00 305.60,305.00" fill="#111" stroke="none" stroke-width="1"/>
<line x1="342.00" y1="288.90" x2="347.60" y2="288.90" stroke="#222" stroke-width="1"/>
<polygon points="349.60,288.90 347.00,287.30 347.00,290.50" fill="#222" stroke="none" stroke-width="1"/>
<line x1="384.00" y1="282.60" x2="423.93" y2="282.60" stroke="#333" stroke-width="0.7" stroke-dasharray="2,1.5"/>
<line x1="405.78" y1="271.98" x2="405.78" y2="269.82" stroke="#1a1a1a" stroke-width="0.7"/>
<line x1="404.78" y1="269.82" x2="406.78" y2="269.82" stroke="#1a1a1a" stroke-width="0.6"/>
<line x1="404.78" y1="271.98" x2="406.78" y2="271.98" stroke="#1a1a1a" stroke-width="0.6"/>
<line x1="409.41" y1="274.32" x2="409.41" y2="272.16" stroke="#1a1a1a" stroke-width="0.7"/>
<line x1="408.41" y1="272.16" x2="410.41" y2="272.16" stroke="#1a1a1a" stroke-width="0.6"/>
<line x1="408.41" y1="274.32" x2="410.41" y2="274.32" stroke="#1a1a1a" stroke-width="0.6"/>
<line x1="413.04" y1="277.20" x2="413.04" y2="275.04" stroke="#1a1a1a" stroke-width="0.7"/>
<line x1="412.04" y1="275.04" x2="414.04" y2="275.04" stroke="#1a1a1a" stroke-width="0.6"/>
<line x1="412.04" y1="277.20" x2="414.04" y2="277.20" stroke="#1a1a1a" stroke-width="0.6"/>
<line x1="416.67" y1="282.96" x2="416.67" y2="280.08" stroke="#1a1a1a" stroke-width="0.7"/>
<line x1="415.67" y1="280.08" x2="417.67" y2="280.08" stroke="#1a1a1a" stroke-width="0.6"/>
<line x1="415.67" y1="282.96" x2="417.67" y2="282.96" stroke="#1a1a1a" stroke-width="0.6"/>
<line x1="405.78" y1="285.12" x2="405.78" y2="276.48" stroke="#6a5055" stroke-width="0.7"/>
<line x1="404.78" y1="276.48" x2="406.78" y2="276.48" stroke="#6a5055" stroke-width="0.6"/>
<line x1="404.78" y1="285.12" x2="406.78" y2="285.12" stroke="#6a5055" stroke-width="0.6"/>
<line x1="409.41" y1="294.12" x2="409.41" y2="278.28" stroke="#6a5055" stroke-width="0.7"/>
<line x1="408.41" y1="278.28" x2="410.41" y2="278.28" stroke="#6a5055" stroke-width="0.6"/>
<line x1="408.41" y1="294.12" x2="410.41" y2="294.12" stroke="#6a5055" stroke-width="0.6"/>
<line x1="413.04" y1="297.00" x2="413.04" y2="282.60" stroke="#6a5055" stroke-width="0.7"/>
<line x1="412.04" y1="282.60" x2="414.04" y2="282.60" stroke="#6a5055" stroke-width="0.6"/>
<line x1="412.04" y1="297.00" x2="414.04" y2="297.00" stroke="#6a5055" stroke-width="0.6"/>
<line x1="416.67" y1="296.28" x2="416.67" y2="290.52" stroke="#6a5055" stroke-width="0.7"/>
<line x1="415.67" y1="290.52" x2="417.67" y2="290.52" stroke="#6a5055" stroke-width="0.6"/>
<line x1="415.67" y1="296.28" x2="417.67" y2="296.28" stroke="#6a5055" stroke-width="0.6"/>
<line x1="405.78" y1="294.48" x2="405.78" y2="290.16" stroke="#5a1828" stroke-width="0.7"/>
<line x1="404.78" y1="290.16" x2="406.78" y2="290.16" stroke="#5a1828" stroke-width="0.6"/>
<line x1="404.78" y1="294.48" x2="406.78" y2="294.48" stroke="#5a1828" stroke-width="0.6"/>
<line x1="409.41" y1="296.28" x2="409.41" y2="290.52" stroke="#5a1828" stroke-width="0.7"/>
<line x1="408.41" y1="290.52" x2="410.41" y2="290.52" stroke="#5a1828" stroke-width="0.6"/>
<line x1="408.41" y1="296.28" x2="410.41" y2="296.28" stroke="#5a1828" stroke-width="0.6"/>
<line x1="413.04" y1="295.92" x2="413.04" y2="288.72" stroke="#5a1828" stroke-width="0.7"/>
<line x1="412.04" y1="288.72" x2="414.04" y2="288.72" stroke="#5a1828" stroke-width="0.6"/>
<line x1="412.04" y1="295.92" x2="414.04" y2="295.92" stroke="#5a1828" stroke-width="0.6"/>
<line x1="416.67" y1="296.64" x2="416.67" y2="292.32" stroke="#5a1828" stroke-width="0.7"/>
<line x1="415.67" y1="292.32" x2="417.67" y2="292.32" stroke="#5a1828" stroke-width="0.6"/>
<line x1="415.67" y1="296.64" x2="417.67" y2="296.64" stroke="#5a1828" stroke-width="0.6"/>
<path d="M384.00,269.28 C386.02,270.54 392.47,273.84 396.10,276.84 C399.73,279.84 403.26,284.64 405.78,287.28 C408.30,289.92 409.41,291.18 411.23,292.68 C413.04,294.18 415.76,295.68 416.67,296.28" fill="none" stroke="#c81d3e" stroke-width="1.0"/>
<path d="M384.00,265.07 C386.02,265.71 392.47,266.66 396.10,268.92 C399.73,271.18 403.26,275.58 405.78,278.64 C408.30,281.70 409.41,284.70 411.23,287.28 C413.04,289.86 415.76,292.98 416.67,294.12" fill="none" stroke="#eea6ad" stroke-width="1.0"/>
<path d="M384.00,265.07 C386.02,265.29 392.47,265.43 396.10,266.40 C399.73,267.37 403.26,269.52 405.78,270.90 C408.30,272.28 409.41,272.91 411.23,274.68 C413.04,276.45 415.76,280.38 416.67,281.52" fill="none" stroke="#1a1a1a" stroke-width="1.0"/>
<circle cx="384.00" cy="269.28" r="1.25" fill="#c81d3e" stroke="none" stroke-width="1"/>
<circle cx="405.78" cy="292.32" r="1.25" fill="#c81d3e" stroke="none" stroke-width="1"/>
<circle cx="409.41" cy="293.40" r="1.25" fill="#c81d3e" stroke="none" stroke-width="1"/>
<circle cx="413.04" cy="292.32" r="1.25" fill="#c81d3e" stroke="none" stroke-width="1"/>
<circle cx="416.67" cy="294.48" r="1.25" fill="#c81d3e" stroke="none" stroke-width="1"/>
<circle cx="405.78" cy="280.80" r="1.25" fill="#eea6ad" stroke="none" stroke-width="1"/>
<circle cx="409.41" cy="286.20" r="1.25" fill="#eea6ad" stroke="none" stroke-width="1"/>
<circle cx="413.04" cy="289.80" r="1.25" fill="#eea6ad" stroke="none" stroke-width="1"/>
<circle cx="416.67" cy="293.40" r="1.25" fill="#eea6ad" stroke="none" stroke-width="1"/>
<circle cx="384.00" cy="264.60" r="1.25" fill="#1a1a1a" stroke="none" stroke-width="1"/>
<circle cx="405.78" cy="270.90" r="1.25" fill="#1a1a1a" stroke="none" stroke-width="1"/>
<circle cx="409.41" cy="273.24" r="1.25" fill="#1a1a1a" stroke="none" stroke-width="1"/>
<circle cx="413.04" cy="276.12" r="1.25" fill="#1a1a1a" stroke="none" stroke-width="1"/>
<circle cx="416.67" cy="281.52" r="1.25" fill="#1a1a1a" stroke="none" stroke-width="1"/>
<line x1="384.00" y1="255.60" x2="384.00" y2="301.10" stroke="#111" stroke-width="1.1"/>
<line x1="383.50" y1="300.60" x2="423.93" y2="300.60" stroke="#111" stroke-width="1.1"/>
<line x1="381.80" y1="300.60" x2="384.00" y2="300.60" stroke="#111" stroke-width="0.9"/>
<text x="379.20" y="303.10" font-size="7" font-weight="normal" fill="#222" text-anchor="end" textLength="3.6" lengthAdjust="spacingAndGlyphs" stroke="#222" stroke-width="0.12">0</text>
<line x1="381.80" y1="286.20" x2="384.00" y2="286.20" stroke="#111" stroke-width="0.9"/>
<text x="379.20" y="288.70" font-size="7" font-weight="normal" fill="#222" text-anchor="end" textLength="7.2" lengthAdjust="spacingAndGlyphs" stroke="#222" stroke-width="0.12">40</text>
<line x1="381.80" y1="271.80" x2="384.00" y2="271.80" stroke="#111" stroke-width="0.9"/>
<text x="379.20" y="274.30" font-size="7" font-weight="normal" fill="#222" text-anchor="end" textLength="7.2" lengthAdjust="spacingAndGlyphs" stroke="#222" stroke-width="0.12">80</text>
<line x1="381.80" y1="257.40" x2="384.00" y2="257.40" stroke="#111" stroke-width="0.9"/>
<text x="379.20" y="259.90" font-size="7" font-weight="normal" fill="#222" text-anchor="end" textLength="10.8" lengthAdjust="spacingAndGlyphs" stroke="#222" stroke-width="0.12">120</text>
<line x1="384.00" y1="300.60" x2="384.00" y2="302.80" stroke="#111" stroke-width="0.9"/>
<text x="384.00" y="313.20" font-size="7" font-weight="normal" fill="#222" text-anchor="middle" stroke="#222" stroke-width="0.12">0</text>
<line x1="396.10" y1="300.60" x2="396.10" y2="302.80" stroke="#111" stroke-width="0.9"/>
<text x="396.10" y="313.20" font-size="7" font-weight="normal" fill="#222" text-anchor="middle" stroke="#222" stroke-width="0.12">1</text>
<line x1="408.20" y1="300.60" x2="408.20" y2="302.80" stroke="#111" stroke-width="0.9"/>
<text x="408.20" y="313.20" font-size="7" font-weight="normal" fill="#222" text-anchor="middle" stroke="#222" stroke-width="0.12">2</text>
<line x1="420.30" y1="300.60" x2="420.30" y2="302.80" stroke="#111" stroke-width="0.9"/>
<text x="420.30" y="313.20" font-size="7" font-weight="normal" fill="#222" text-anchor="middle" stroke="#222" stroke-width="0.12">3</text>
<text x="361.60" y="277.80" font-size="6.8" font-weight="normal" fill="#222" text-anchor="middle" textLength="28" lengthAdjust="spacingAndGlyphs" transform="rotate(-90 361.6 277.8)" stroke="#222" stroke-width="0.12">% Viability</text>
<text x="403.60" y="323.90" font-size="6.4" font-weight="normal" fill="#222" text-anchor="middle" textLength="55" lengthAdjust="spacingAndGlyphs" stroke="#222" stroke-width="0.12">Venetoclax (log nM)</text>
<text x="422.50" y="265.30" font-size="6.8" font-weight="normal" fill="#222" text-anchor="start" textLength="21.8" lengthAdjust="spacingAndGlyphs" stroke="#222" stroke-width="0.12">FTY720</text>
<line x1="425.70" y1="272.40" x2="432.10" y2="272.40" stroke="#1a1a1a" stroke-width="0.9"/>
<circle cx="428.90" cy="272.40" r="1.30" fill="#1a1a1a" stroke="none" stroke-width="1"/>
<text x="436.30" y="274.90" font-size="7" font-weight="normal" fill="#222" text-anchor="start" textLength="15.2" lengthAdjust="spacingAndGlyphs" stroke="#222" stroke-width="0.12">0 &#181;M</text>
<line x1="425.70" y1="279.50" x2="432.10" y2="279.50" stroke="#eea6ad" stroke-width="0.9"/>
<circle cx="428.90" cy="279.50" r="1.30" fill="#eea6ad" stroke="none" stroke-width="1"/>
<text x="436.30" y="282.00" font-size="7" font-weight="normal" fill="#222" text-anchor="start" textLength="15.2" lengthAdjust="spacingAndGlyphs" stroke="#222" stroke-width="0.12">4 &#181;M</text>
<line x1="425.70" y1="286.20" x2="432.10" y2="286.20" stroke="#c81d3e" stroke-width="0.9"/>
<circle cx="428.90" cy="286.20" r="1.30" fill="#c81d3e" stroke="none" stroke-width="1"/>
<text x="436.30" y="288.70" font-size="7" font-weight="normal" fill="#222" text-anchor="start" textLength="15.2" lengthAdjust="spacingAndGlyphs" stroke="#222" stroke-width="0.12">5 &#181;M</text>
<defs><linearGradient id="gv" x1="0" y1="0" x2="0" y2="1"><stop offset="0" stop-color="#fdf3ee"/><stop offset="0.5" stop-color="#f3b18c"/><stop offset="1" stop-color="#ea6420"/></linearGradient><linearGradient id="gc" x1="0" y1="0" x2="0" y2="1"><stop offset="0" stop-color="#dcedf7"/><stop offset="0.5" stop-color="#7cb9dc"/><stop offset="1" stop-color="#1d7fb9"/></linearGradient></defs>
<text x="456.60" y="110.40" font-size="7" font-weight="normal" fill="#222" text-anchor="start" stroke="#222" stroke-width="0.12">% Viability</text>
<rect x="459.20" y="117.00" width="5.40" height="24.00" fill="url(#gv)" stroke="#b9775a" stroke-width="0.6"/>
<text x="468.60" y="118.80" font-size="6.8" font-weight="normal" fill="#222" text-anchor="start" stroke="#222" stroke-width="0.12">100</text>
<text x="468.60" y="130.30" font-size="6.8" font-weight="normal" fill="#222" text-anchor="start" stroke="#222" stroke-width="0.12">50</text>
<text x="468.60" y="142.30" font-size="6.8" font-weight="normal" fill="#222" text-anchor="start" stroke="#222" stroke-width="0.12">0</text>
<text x="457.00" y="171.00" font-size="7" font-weight="normal" fill="#222" text-anchor="start" stroke="#222" stroke-width="0.12">CI values</text>
<rect x="460.00" y="176.00" width="5.40" height="24.30" fill="url(#gc)" stroke="#5a8cab" stroke-width="0.6"/>
<text x="469.00" y="178.40" font-size="6.8" font-weight="normal" fill="#222" text-anchor="start" stroke="#222" stroke-width="0.12">1</text>
<text x="469.00" y="190.40" font-size="6.8" font-weight="normal" fill="#222" text-anchor="start" stroke="#222" stroke-width="0.12">0.5</text>
<text x="469.00" y="202.10" font-size="6.8" font-weight="normal" fill="#222" text-anchor="start" stroke="#222" stroke-width="0.12">0</text>
<text x="459.70" y="208.20" font-size="7" font-weight="normal" fill="#4aa6dc" text-anchor="start" stroke="#4aa6dc" stroke-width="0.12">Synergistic</text>
<text x="459.70" y="215.90" font-size="7" font-weight="normal" fill="#4aa6dc" text-anchor="start" stroke="#4aa6dc" stroke-width="0.12">effect &lt; 1</text>
<text x="9.20" y="343.00" font-size="12" font-weight="bold" fill="#111" text-anchor="start">D</text>
<path d="M30,366.6 C31.5,363.5 34.5,360.6 38.5,358.8 C43,356.4 50,355.8 55,357.6 C59,359.2 61,363.5 59.6,367 C58.2,369.6 52,370.6 45,370.4 C40.5,370.2 36.5,369.4 33.2,368.4 C31.6,368 30.5,367.4 30,366.6 Z" fill="#f1eded" stroke="#cbc3c3" stroke-width="0.7"/>
<path d="M46,359 C51,358 56,360 58,364 C56,368 50,369.5 45,369.4 C49,366 49,362 46,359 Z" fill="#e4dddd" stroke="none" stroke-width="1"/>
<ellipse cx="39.4" cy="360.2" rx="2.0" ry="2.4" fill="#eebcc3" stroke="#c9a0a6" stroke-width="0.5"/>
<circle cx="33.80" cy="364.20" r="0.60" fill="#6a4a4a" stroke="none" stroke-width="1"/>
<circle cx="30.20" cy="366.60" r="0.60" fill="#e0a0a8" stroke="none" stroke-width="1"/>
<path d="M58.8,367.6 C66,368.8 76,367.4 82.6,368.4 C84.4,369.2 83.8,371.6 82.2,372.8" fill="none" stroke="#dba0a8" stroke-width="0.9"/>
<path d="M42,370.2 L41.5,371.6 M52,370.4 L52.6,371.8" fill="none" stroke="#d6a2a8" stroke-width="0.7"/>
<line x1="59.00" y1="360.20" x2="63.20" y2="356.00" stroke="#9ab0b8" stroke-width="0.5"/>
<g transform="rotate(-46.5 68.4 350.6)"><rect x="62.4" y="349.2" width="11.4" height="2.9" fill="#e9eff3" stroke="#8aa0ae" stroke-width="0.5"/><rect x="62.8" y="349.7" width="5" height="1.9" fill="#9cc0d4"/><rect x="73.8" y="350.1" width="3.6" height="1.1" fill="#a8b6be"/><rect x="77.2" y="348.7" width="0.9" height="3.9" fill="#a8b6be"/></g>
<text x="40.90" y="380.80" font-size="6.8" font-weight="normal" fill="#222" text-anchor="start" textLength="39" lengthAdjust="spacingAndGlyphs" stroke="#222" stroke-width="0.12">500,000 cells</text>
<text x="58.80" y="390.50" font-size="7" font-weight="normal" fill="#222" text-anchor="start" textLength="90" lengthAdjust="spacingAndGlyphs" stroke="#222" stroke-width="0.12">Group 1: CLONE 1 (B56&#945; WT)</text>
<text x="58.80" y="398.20" font-size="7" font-weight="normal" fill="#2f5f96" text-anchor="start" textLength="114.5" lengthAdjust="spacingAndGlyphs" stroke="#2f5f96" stroke-width="0.12">Group 2: CLONE 2 (B56&#945; inactivation)</text>
<text x="92.00" y="348.80" font-size="7" font-weight="bold" fill="#222" text-anchor="start" textLength="44.3" lengthAdjust="spacingAndGlyphs">Subcutaneous</text>
<text x="100.00" y="357.00" font-size="7" font-weight="bold" fill="#222" text-anchor="start" textLength="27.5" lengthAdjust="spacingAndGlyphs">injection</text>
<line x1="112.50" y1="365.40" x2="401.30" y2="365.40" stroke="#222" stroke-width="1.0"/>
<line x1="112.90" y1="361.60" x2="112.90" y2="365.90" stroke="#222" stroke-width="1.0"/>
<line x1="401.00" y1="361.00" x2="401.00" y2="365.90" stroke="#222" stroke-width="1.0"/>
<text x="163.20" y="358.00" font-size="7" font-weight="bold" fill="#222" text-anchor="start" textLength="18" lengthAdjust="spacingAndGlyphs">Day 0</text>
<line x1="174.50" y1="363.80" x2="174.50" y2="367.00" stroke="#222" stroke-width="0.9"/>
<line x1="188.85" y1="363.80" x2="188.85" y2="367.00" stroke="#222" stroke-width="0.9"/>
<text x="188.85" y="359.30" font-size="6.8" font-weight="normal" fill="#222" text-anchor="middle" stroke="#222" stroke-width="0.12">1</text>
<line x1="186.95" y1="343.00" x2="186.95" y2="348.50" stroke="#3e9b3e" stroke-width="0.9"/>
<polygon points="186.95,350.30 185.25,347.50 188.65,347.50" fill="#3e9b3e" stroke="none" stroke-width="1"/>
<line x1="190.75" y1="343.00" x2="190.75" y2="348.50" stroke="#f0a02c" stroke-width="0.9"/>
<polygon points="190.75,350.30 189.05,347.50 192.45,347.50" fill="#f0a02c" stroke="none" stroke-width="1"/>
<line x1="203.20" y1="363.80" x2="203.20" y2="367.00" stroke="#222" stroke-width="0.9"/>
<text x="203.20" y="359.30" font-size="6.8" font-weight="normal" fill="#222" text-anchor="middle" stroke="#222" stroke-width="0.12">2</text>
<line x1="203.20" y1="343.00" x2="203.20" y2="348.50" stroke="#3e9b3e" stroke-width="0.9"/>
<polygon points="203.20,350.30 201.50,347.50 204.90,347.50" fill="#3e9b3e" stroke="none" stroke-width="1"/>
<line x1="217.55" y1="363.80" x2="217.55" y2="367.00" stroke="#222" stroke-width="0.9"/>
<text x="217.55" y="359.30" font-size="6.8" font-weight="normal" fill="#222" text-anchor="middle" stroke="#222" stroke-width="0.12">3</text>
<line x1="217.55" y1="343.00" x2="217.55" y2="348.50" stroke="#3e9b3e" stroke-width="0.9"/>
<polygon points="217.55,350.30 215.85,347.50 219.25,347.50" fill="#3e9b3e" stroke="none" stroke-width="1"/>
<line x1="231.90" y1="363.80" x2="231.90" y2="367.00" stroke="#222" stroke-width="0.9"/>
<text x="231.90" y="359.30" font-size="6.8" font-weight="normal" fill="#222" text-anchor="middle" stroke="#222" stroke-width="0.12">4</text>
<line x1="230.00" y1="343.00" x2="230.00" y2="348.50" stroke="#3e9b3e" stroke-width="0.9"/>
<polygon points="230.00,350.30 228.30,347.50 231.70,347.50" fill="#3e9b3e" stroke="none" stroke-width="1"/>
<line x1="233.80" y1="343.00" x2="233.80" y2="348.50" stroke="#f0a02c" stroke-width="0.9"/>
<polygon points="233.80,350.30 232.10,347.50 235.50,347.50" fill="#f0a02c" stroke="none" stroke-width="1"/>
<line x1="246.25" y1="363.80" x2="246.25" y2="367.00" stroke="#222" stroke-width="0.9"/>
<text x="246.25" y="359.30" font-size="6.8" font-weight="normal" fill="#222" text-anchor="middle" stroke="#222" stroke-width="0.12">5</text>
<line x1="246.25" y1="343.00" x2="246.25" y2="348.50" stroke="#3e9b3e" stroke-width="0.9"/>
<polygon points="246.25,350.30 244.55,347.50 247.95,347.50" fill="#3e9b3e" stroke="none" stroke-width="1"/>
<line x1="260.60" y1="363.80" x2="260.60" y2="367.00" stroke="#222" stroke-width="0.9"/>
<text x="260.60" y="359.30" font-size="6.8" font-weight="normal" fill="#222" text-anchor="middle" stroke="#222" stroke-width="0.12">6</text>
<line x1="274.95" y1="363.80" x2="274.95" y2="367.00" stroke="#222" stroke-width="0.9"/>
<text x="274.95" y="359.30" font-size="6.8" font-weight="normal" fill="#222" text-anchor="middle" stroke="#222" stroke-width="0.12">7</text>
<line x1="289.30" y1="363.80" x2="289.30" y2="367.00" stroke="#222" stroke-width="0.9"/>
<text x="289.30" y="359.30" font-size="6.8" font-weight="normal" fill="#222" text-anchor="middle" stroke="#222" stroke-width="0.12">8</text>
<line x1="287.40" y1="343.00" x2="287.40" y2="348.50" stroke="#3e9b3e" stroke-width="0.9"/>
<polygon points="287.40,350.30 285.70,347.50 289.10,347.50" fill="#3e9b3e" stroke="none" stroke-width="1"/>
<line x1="291.20" y1="343.00" x2="291.20" y2="348.50" stroke="#f0a02c" stroke-width="0.9"/>
<polygon points="291.20,350.30 289.50,347.50 292.90,347.50" fill="#f0a02c" stroke="none" stroke-width="1"/>
<line x1="303.65" y1="363.80" x2="303.65" y2="367.00" stroke="#222" stroke-width="0.9"/>
<text x="303.65" y="359.30" font-size="6.8" font-weight="normal" fill="#222" text-anchor="middle" stroke="#222" stroke-width="0.12">9</text>
<line x1="303.65" y1="343.00" x2="303.65" y2="348.50" stroke="#3e9b3e" stroke-width="0.9"/>
<polygon points="303.65,350.30 301.95,347.50 305.35,347.50" fill="#3e9b3e" stroke="none" stroke-width="1"/>
<line x1="318.00" y1="363.80" x2="318.00" y2="367.00" stroke="#222" stroke-width="0.9"/>
<text x="318.00" y="359.30" font-size="6.8" font-weight="normal" fill="#222" text-anchor="middle" stroke="#222" stroke-width="0.12">10</text>
<line x1="318.00" y1="343.00" x2="318.00" y2="348.50" stroke="#3e9b3e" stroke-width="0.9"/>
<polygon points="318.00,350.30 316.30,347.50 319.70,347.50" fill="#3e9b3e" stroke="none" stroke-width="1"/>
<line x1="332.35" y1="363.80" x2="332.35" y2="367.00" stroke="#222" stroke-width="0.9"/>
<text x="332.35" y="359.30" font-size="6.8" font-weight="normal" fill="#222" text-anchor="middle" stroke="#222" stroke-width="0.12">11</text>
<line x1="330.45" y1="343.00" x2="330.45" y2="348.50" stroke="#3e9b3e" stroke-width="0.9"/>
<polygon points="330.45,350.30 328.75,347.50 332.15,347.50" fill="#3e9b3e" stroke="none" stroke-width="1"/>
<line x1="334.25" y1="343.00" x2="334.25" y2="348.50" stroke="#f0a02c" stroke-width="0.9"/>
<polygon points="334.25,350.30 332.55,347.50 335.95,347.50" fill="#f0a02c" stroke="none" stroke-width="1"/>
<line x1="346.70" y1="363.80" x2="346.70" y2="367.00" stroke="#222" stroke-width="0.9"/>
<text x="346.70" y="359.30" font-size="6.8" font-weight="normal" fill="#222" text-anchor="middle" stroke="#222" stroke-width="0.12">12</text>
<line x1="346.70" y1="343.00" x2="346.70" y2="348.50" stroke="#3e9b3e" stroke-width="0.9"/>
<polygon points="346.70,350.30 345.00,347.50 348.40,347.50" fill="#3e9b3e" stroke="none" stroke-width="1"/>
<line x1="361.05" y1="363.80" x2="361.05" y2="367.00" stroke="#222" stroke-width="0.9"/>
<text x="361.05" y="359.30" font-size="6.8" font-weight="normal" fill="#222" text-anchor="middle" stroke="#222" stroke-width="0.12">13</text>
<line x1="375.40" y1="363.80" x2="375.40" y2="367.00" stroke="#222" stroke-width="0.9"/>
<text x="375.40" y="359.30" font-size="6.8" font-weight="normal" fill="#222" text-anchor="middle" stroke="#222" stroke-width="0.12">14</text>
<line x1="389.75" y1="363.80" x2="389.75" y2="367.00" stroke="#222" stroke-width="0.9"/>
<text x="389.75" y="359.30" font-size="6.8" font-weight="normal" fill="#222" text-anchor="middle" stroke="#222" stroke-width="0.12">15</text>
<line x1="387.85" y1="343.00" x2="387.85" y2="348.50" stroke="#3e9b3e" stroke-width="0.9"/>
<polygon points="387.85,350.30 386.15,347.50 389.55,347.50" fill="#3e9b3e" stroke="none" stroke-width="1"/>
<line x1="391.65" y1="343.00" x2="391.65" y2="348.50" stroke="#f0a02c" stroke-width="0.9"/>
<polygon points="391.65,350.30 389.95,347.50 393.35,347.50" fill="#f0a02c" stroke="none" stroke-width="1"/>
<text x="400.80" y="357.60" font-size="7" font-weight="bold" fill="#222" text-anchor="start" textLength="21.7" lengthAdjust="spacingAndGlyphs">Day 16</text>
<text x="398.80" y="374.60" font-size="6.8" font-weight="normal" fill="#222" text-anchor="start" textLength="25" lengthAdjust="spacingAndGlyphs" stroke="#222" stroke-width="0.12">Sacrifice</text>
<text x="163.80" y="375.00" font-size="7" font-weight="normal" fill="#222" text-anchor="start" textLength="44.5" lengthAdjust="spacingAndGlyphs" stroke="#222" stroke-width="0.12">Start treatment</text>
<text x="163.80" y="382.60" font-size="7" font-weight="normal" fill="#222" text-anchor="start" textLength="43.8" lengthAdjust="spacingAndGlyphs" stroke="#222" stroke-width="0.12">(tumor volume</text>
<text x="163.80" y="390.60" font-size="6.8" font-weight="normal" fill="#222" text-anchor="start" stroke="#222" stroke-width="0.12">100&#8211;150 mm<tspan font-size="4.5" dy="-2.5">3</tspan><tspan dy="2.5">)</tspan></text>
<text x="333.00" y="377.60" font-size="6.8" font-weight="bold" fill="#222" text-anchor="start" textLength="34.5" lengthAdjust="spacingAndGlyphs">Treatment:</text>
<line x1="347.20" y1="383.60" x2="347.20" y2="389.40" stroke="#3e9b3e" stroke-width="0.9"/>
<polygon points="347.20,391.20 345.50,388.40 348.90,388.40" fill="#3e9b3e" stroke="none" stroke-width="1"/>
<text x="353.00" y="390.20" font-size="6.8" font-weight="normal" fill="#222" text-anchor="start" textLength="55" lengthAdjust="spacingAndGlyphs" stroke="#222" stroke-width="0.12">FTY720 7.5 mg/kg</text>
<line x1="347.20" y1="393.80" x2="347.20" y2="399.60" stroke="#f0a02c" stroke-width="0.9"/>
<polygon points="347.20,401.40 345.50,398.60 348.90,398.60" fill="#f0a02c" stroke="none" stroke-width="1"/>
<text x="353.00" y="400.60" font-size="6.8" font-weight="normal" fill="#222" text-anchor="start" textLength="64" lengthAdjust="spacingAndGlyphs" stroke="#222" stroke-width="0.12">Venetoclax 30 mg/kg</text>
<text x="0.10" y="418.80" font-size="12" font-weight="bold" fill="#111" text-anchor="start">E</text>
<line x1="38.10" y1="428.30" x2="46.50" y2="428.30" stroke="#111111" stroke-width="1.3"/>
<polygon points="39.50,428.30 42.30,426.40 45.10,428.30 42.30,430.20" fill="#111111" stroke="none" stroke-width="1"/>
<text x="50.00" y="430.70" font-size="6.8" font-weight="normal" fill="#222" text-anchor="start" textLength="21" lengthAdjust="spacingAndGlyphs" stroke="#222" stroke-width="0.12">Vehicle</text>
<line x1="76.60" y1="428.30" x2="85.00" y2="428.30" stroke="#3aa046" stroke-width="1.3"/>
<rect x="79.20" y="426.70" width="3.20" height="3.20" fill="#3aa046" stroke="none" stroke-width="1"/>
<text x="88.80" y="430.70" font-size="6.8" font-weight="normal" fill="#222" text-anchor="start" textLength="55.5" lengthAdjust="spacingAndGlyphs" stroke="#222" stroke-width="0.12">FTY720 7.5 mg/kg</text>
<line x1="162.00" y1="428.30" x2="170.40" y2="428.30" stroke="#eaa43a" stroke-width="1.3"/>
<polygon points="166.20,426.38 164.28,429.90 168.12,429.90" fill="#eaa43a" stroke="none" stroke-width="1"/>
<text x="173.80" y="430.70" font-size="6.8" font-weight="normal" fill="#222" text-anchor="start" textLength="64.2" lengthAdjust="spacingAndGlyphs" stroke="#222" stroke-width="0.12">Venetoclax 30 mg/kg</text>
<line x1="243.30" y1="428.30" x2="251.70" y2="428.30" stroke="#4fb5d9" stroke-width="1.3"/>
<circle cx="247.50" cy="428.30" r="1.28" fill="#4fb5d9" stroke="none" stroke-width="1"/>
<text x="254.50" y="430.70" font-size="6.8" font-weight="normal" fill="#4fb5d9" text-anchor="start" textLength="22.5" lengthAdjust="spacingAndGlyphs" stroke="#4fb5d9" stroke-width="0.12">Combo</text>
<path d="M45.00,518.93 L63.75,516.67 L88.75,511.96 L101.25,508.68 L113.75,504.17 L132.50,500.27" fill="none" stroke="#4fb5d9" stroke-width="0.9"/>
<path d="M45.00,518.72 L63.75,515.65 L88.75,510.32 L101.25,505.40 L113.75,500.27 L132.50,487.97" fill="none" stroke="#3aa046" stroke-width="0.9"/>
<path d="M45.00,518.72 L63.75,515.03 L88.75,505.81 L101.25,498.22 L113.75,492.07 L132.50,476.70" fill="none" stroke="#eaa43a" stroke-width="0.9"/>
<path d="M45.00,518.72 L63.75,514.21 L88.75,504.37 L101.25,496.17 L113.75,487.97 L132.50,468.50" fill="none" stroke="#111111" stroke-width="0.9"/>
<circle cx="45.00" cy="518.93" r="1.28" fill="#4fb5d9" stroke="none" stroke-width="1"/>
<line x1="63.75" y1="518.31" x2="63.75" y2="515.03" stroke="#4fb5d9" stroke-width="0.6"/>
<line x1="62.65" y1="515.03" x2="64.85" y2="515.03" stroke="#4fb5d9" stroke-width="0.6"/>
<line x1="62.65" y1="518.31" x2="64.85" y2="518.31" stroke="#4fb5d9" stroke-width="0.6"/>
<circle cx="63.75" cy="516.67" r="1.28" fill="#4fb5d9" stroke="none" stroke-width="1"/>
<line x1="88.75" y1="516.06" x2="88.75" y2="507.86" stroke="#4fb5d9" stroke-width="0.6"/>
<line x1="87.65" y1="507.86" x2="89.85" y2="507.86" stroke="#4fb5d9" stroke-width="0.6"/>
<line x1="87.65" y1="516.06" x2="89.85" y2="516.06" stroke="#4fb5d9" stroke-width="0.6"/>
<circle cx="88.75" cy="511.96" r="1.28" fill="#4fb5d9" stroke="none" stroke-width="1"/>
<line x1="101.25" y1="513.80" x2="101.25" y2="503.55" stroke="#4fb5d9" stroke-width="0.6"/>
<line x1="100.15" y1="503.55" x2="102.35" y2="503.55" stroke="#4fb5d9" stroke-width="0.6"/>
<line x1="100.15" y1="513.80" x2="102.35" y2="513.80" stroke="#4fb5d9" stroke-width="0.6"/>
<circle cx="101.25" cy="508.68" r="1.28" fill="#4fb5d9" stroke="none" stroke-width="1"/>
<line x1="113.75" y1="511.34" x2="113.75" y2="496.99" stroke="#4fb5d9" stroke-width="0.6"/>
<line x1="112.65" y1="496.99" x2="114.85" y2="496.99" stroke="#4fb5d9" stroke-width="0.6"/>
<line x1="112.65" y1="511.34" x2="114.85" y2="511.34" stroke="#4fb5d9" stroke-width="0.6"/>
<circle cx="113.75" cy="504.17" r="1.28" fill="#4fb5d9" stroke="none" stroke-width="1"/>
<line x1="132.50" y1="515.65" x2="132.50" y2="484.90" stroke="#4fb5d9" stroke-width="0.6"/>
<line x1="131.40" y1="484.90" x2="133.60" y2="484.90" stroke="#4fb5d9" stroke-width="0.6"/>
<line x1="131.40" y1="515.65" x2="133.60" y2="515.65" stroke="#4fb5d9" stroke-width="0.6"/>
<circle cx="132.50" cy="500.27" r="1.28" fill="#4fb5d9" stroke="none" stroke-width="1"/>
<rect x="43.40" y="517.12" width="3.20" height="3.20" fill="#3aa046" stroke="none" stroke-width="1"/>
<line x1="63.75" y1="517.29" x2="63.75" y2="514.01" stroke="#3aa046" stroke-width="0.6"/>
<line x1="62.65" y1="514.01" x2="64.85" y2="514.01" stroke="#3aa046" stroke-width="0.6"/>
<line x1="62.65" y1="517.29" x2="64.85" y2="517.29" stroke="#3aa046" stroke-width="0.6"/>
<rect x="62.15" y="514.05" width="3.20" height="3.20" fill="#3aa046" stroke="none" stroke-width="1"/>
<line x1="88.75" y1="515.44" x2="88.75" y2="505.19" stroke="#3aa046" stroke-width="0.6"/>
<line x1="87.65" y1="505.19" x2="89.85" y2="505.19" stroke="#3aa046" stroke-width="0.6"/>
<line x1="87.65" y1="515.44" x2="89.85" y2="515.44" stroke="#3aa046" stroke-width="0.6"/>
<rect x="87.15" y="508.72" width="3.20" height="3.20" fill="#3aa046" stroke="none" stroke-width="1"/>
<line x1="101.25" y1="511.55" x2="101.25" y2="499.25" stroke="#3aa046" stroke-width="0.6"/>
<line x1="100.15" y1="499.25" x2="102.35" y2="499.25" stroke="#3aa046" stroke-width="0.6"/>
<line x1="100.15" y1="511.55" x2="102.35" y2="511.55" stroke="#3aa046" stroke-width="0.6"/>
<rect x="99.65" y="503.80" width="3.20" height="3.20" fill="#3aa046" stroke="none" stroke-width="1"/>
<line x1="113.75" y1="507.45" x2="113.75" y2="493.10" stroke="#3aa046" stroke-width="0.6"/>
<line x1="112.65" y1="493.10" x2="114.85" y2="493.10" stroke="#3aa046" stroke-width="0.6"/>
<line x1="112.65" y1="507.45" x2="114.85" y2="507.45" stroke="#3aa046" stroke-width="0.6"/>
<rect x="112.15" y="498.67" width="3.20" height="3.20" fill="#3aa046" stroke="none" stroke-width="1"/>
<line x1="132.50" y1="500.27" x2="132.50" y2="475.67" stroke="#3aa046" stroke-width="0.6"/>
<line x1="131.40" y1="475.67" x2="133.60" y2="475.67" stroke="#3aa046" stroke-width="0.6"/>
<line x1="131.40" y1="500.27" x2="133.60" y2="500.27" stroke="#3aa046" stroke-width="0.6"/>
<rect x="130.90" y="486.37" width="3.20" height="3.20" fill="#3aa046" stroke="none" stroke-width="1"/>
<polygon points="45.00,516.80 43.08,520.32 46.92,520.32" fill="#eaa43a" stroke="none" stroke-width="1"/>
<line x1="63.75" y1="516.67" x2="63.75" y2="513.39" stroke="#eaa43a" stroke-width="0.6"/>
<line x1="62.65" y1="513.39" x2="64.85" y2="513.39" stroke="#eaa43a" stroke-width="0.6"/>
<line x1="62.65" y1="516.67" x2="64.85" y2="516.67" stroke="#eaa43a" stroke-width="0.6"/>
<polygon points="63.75,513.12 61.83,516.63 65.67,516.63" fill="#eaa43a" stroke="none" stroke-width="1"/>
<line x1="88.75" y1="511.96" x2="88.75" y2="499.66" stroke="#eaa43a" stroke-width="0.6"/>
<line x1="87.65" y1="499.66" x2="89.85" y2="499.66" stroke="#eaa43a" stroke-width="0.6"/>
<line x1="87.65" y1="511.96" x2="89.85" y2="511.96" stroke="#eaa43a" stroke-width="0.6"/>
<polygon points="88.75,503.89 86.83,507.41 90.67,507.41" fill="#eaa43a" stroke="none" stroke-width="1"/>
<line x1="101.25" y1="505.40" x2="101.25" y2="491.05" stroke="#eaa43a" stroke-width="0.6"/>
<line x1="100.15" y1="491.05" x2="102.35" y2="491.05" stroke="#eaa43a" stroke-width="0.6"/>
<line x1="100.15" y1="505.40" x2="102.35" y2="505.40" stroke="#eaa43a" stroke-width="0.6"/>
<polygon points="101.25,496.30 99.33,499.82 103.17,499.82" fill="#eaa43a" stroke="none" stroke-width="1"/>
<line x1="113.75" y1="500.27" x2="113.75" y2="483.87" stroke="#eaa43a" stroke-width="0.6"/>
<line x1="112.65" y1="483.87" x2="114.85" y2="483.87" stroke="#eaa43a" stroke-width="0.6"/>
<line x1="112.65" y1="500.27" x2="114.85" y2="500.27" stroke="#eaa43a" stroke-width="0.6"/>
<polygon points="113.75,490.15 111.83,493.67 115.67,493.67" fill="#eaa43a" stroke="none" stroke-width="1"/>
<line x1="132.50" y1="484.90" x2="132.50" y2="468.50" stroke="#eaa43a" stroke-width="0.6"/>
<line x1="131.40" y1="468.50" x2="133.60" y2="468.50" stroke="#eaa43a" stroke-width="0.6"/>
<line x1="131.40" y1="484.90" x2="133.60" y2="484.90" stroke="#eaa43a" stroke-width="0.6"/>
<polygon points="132.50,474.78 130.58,478.30 134.42,478.30" fill="#eaa43a" stroke="none" stroke-width="1"/>
<line x1="45.00" y1="519.75" x2="45.00" y2="517.70" stroke="#222" stroke-width="0.6"/>
<line x1="43.90" y1="517.70" x2="46.10" y2="517.70" stroke="#222" stroke-width="0.6"/>
<line x1="43.90" y1="519.75" x2="46.10" y2="519.75" stroke="#222" stroke-width="0.6"/>
<circle cx="45.00" cy="518.72" r="1.76" fill="#111111" stroke="none" stroke-width="1"/>
<line x1="63.75" y1="516.67" x2="63.75" y2="511.75" stroke="#222" stroke-width="0.6"/>
<line x1="62.65" y1="511.75" x2="64.85" y2="511.75" stroke="#222" stroke-width="0.6"/>
<line x1="62.65" y1="516.67" x2="64.85" y2="516.67" stroke="#222" stroke-width="0.6"/>
<circle cx="63.75" cy="514.21" r="1.76" fill="#111111" stroke="none" stroke-width="1"/>
<line x1="88.75" y1="514.21" x2="88.75" y2="494.53" stroke="#222" stroke-width="0.6"/>
<line x1="87.65" y1="494.53" x2="89.85" y2="494.53" stroke="#222" stroke-width="0.6"/>
<line x1="87.65" y1="514.21" x2="89.85" y2="514.21" stroke="#222" stroke-width="0.6"/>
<circle cx="88.75" cy="504.37" r="1.76" fill="#111111" stroke="none" stroke-width="1"/>
<line x1="101.25" y1="506.01" x2="101.25" y2="486.33" stroke="#222" stroke-width="0.6"/>
<line x1="100.15" y1="486.33" x2="102.35" y2="486.33" stroke="#222" stroke-width="0.6"/>
<line x1="100.15" y1="506.01" x2="102.35" y2="506.01" stroke="#222" stroke-width="0.6"/>
<circle cx="101.25" cy="496.17" r="1.76" fill="#111111" stroke="none" stroke-width="1"/>
<line x1="113.75" y1="497.20" x2="113.75" y2="478.75" stroke="#222" stroke-width="0.6"/>
<line x1="112.65" y1="478.75" x2="114.85" y2="478.75" stroke="#222" stroke-width="0.6"/>
<line x1="112.65" y1="497.20" x2="114.85" y2="497.20" stroke="#222" stroke-width="0.6"/>
<circle cx="113.75" cy="487.97" r="1.76" fill="#111111" stroke="none" stroke-width="1"/>
<line x1="132.50" y1="480.80" x2="132.50" y2="456.20" stroke="#222" stroke-width="0.6"/>
<line x1="131.40" y1="456.20" x2="133.60" y2="456.20" stroke="#222" stroke-width="0.6"/>
<line x1="131.40" y1="480.80" x2="133.60" y2="480.80" stroke="#222" stroke-width="0.6"/>
<circle cx="132.50" cy="468.50" r="1.76" fill="#111111" stroke="none" stroke-width="1"/>
<line x1="38.20" y1="448.00" x2="38.20" y2="522.30" stroke="#111" stroke-width="1.0"/>
<line x1="37.70" y1="521.80" x2="135.00" y2="521.80" stroke="#111" stroke-width="1.0"/>
<line x1="36.00" y1="521.80" x2="38.20" y2="521.80" stroke="#111" stroke-width="0.8"/>
<text x="32.60" y="524.10" font-size="6.5" font-weight="normal" fill="#333" text-anchor="end" textLength="3.7" lengthAdjust="spacingAndGlyphs" stroke="#333" stroke-width="0.12">0</text>
<line x1="36.00" y1="511.55" x2="38.20" y2="511.55" stroke="#111" stroke-width="0.8"/>
<text x="32.60" y="513.85" font-size="6.5" font-weight="normal" fill="#333" text-anchor="end" textLength="11.100000000000001" lengthAdjust="spacingAndGlyphs" stroke="#333" stroke-width="0.12">500</text>
<line x1="36.00" y1="501.30" x2="38.20" y2="501.30" stroke="#111" stroke-width="0.8"/>
<text x="32.60" y="503.60" font-size="6.5" font-weight="normal" fill="#333" text-anchor="end" textLength="14.8" lengthAdjust="spacingAndGlyphs" stroke="#333" stroke-width="0.12">1000</text>
<line x1="36.00" y1="491.05" x2="38.20" y2="491.05" stroke="#111" stroke-width="0.8"/>
<text x="32.60" y="493.35" font-size="6.5" font-weight="normal" fill="#333" text-anchor="end" textLength="14.8" lengthAdjust="spacingAndGlyphs" stroke="#333" stroke-width="0.12">1500</text>
<line x1="36.00" y1="480.80" x2="38.20" y2="480.80" stroke="#111" stroke-width="0.8"/>
<text x="32.60" y="483.10" font-size="6.5" font-weight="normal" fill="#333" text-anchor="end" textLength="14.8" lengthAdjust="spacingAndGlyphs" stroke="#333" stroke-width="0.12">2000</text>
<line x1="36.00" y1="470.55" x2="38.20" y2="470.55" stroke="#111" stroke-width="0.8"/>
<text x="32.60" y="472.85" font-size="6.5" font-weight="normal" fill="#333" text-anchor="end" textLength="14.8" lengthAdjust="spacingAndGlyphs" stroke="#333" stroke-width="0.12">2500</text>
<line x1="36.00" y1="460.30" x2="38.20" y2="460.30" stroke="#111" stroke-width="0.8"/>
<text x="32.60" y="462.60" font-size="6.5" font-weight="normal" fill="#333" text-anchor="end" textLength="14.8" lengthAdjust="spacingAndGlyphs" stroke="#333" stroke-width="0.12">3000</text>
<line x1="36.00" y1="450.05" x2="38.20" y2="450.05" stroke="#111" stroke-width="0.8"/>
<text x="32.60" y="452.35" font-size="6.5" font-weight="normal" fill="#333" text-anchor="end" textLength="14.8" lengthAdjust="spacingAndGlyphs" stroke="#333" stroke-width="0.12">3500</text>
<line x1="38.75" y1="521.80" x2="38.75" y2="524.00" stroke="#111" stroke-width="0.8"/>
<text x="38.75" y="533.60" font-size="6.6" font-weight="normal" fill="#333" text-anchor="middle" stroke="#333" stroke-width="0.12">0</text>
<line x1="57.50" y1="521.80" x2="57.50" y2="524.00" stroke="#111" stroke-width="0.8"/>
<text x="57.50" y="533.60" font-size="6.6" font-weight="normal" fill="#333" text-anchor="middle" stroke="#333" stroke-width="0.12">3</text>
<line x1="76.25" y1="521.80" x2="76.25" y2="524.00" stroke="#111" stroke-width="0.8"/>
<text x="76.25" y="533.60" font-size="6.6" font-weight="normal" fill="#333" text-anchor="middle" stroke="#333" stroke-width="0.12">6</text>
<line x1="95.00" y1="521.80" x2="95.00" y2="524.00" stroke="#111" stroke-width="0.8"/>
<text x="95.00" y="533.60" font-size="6.6" font-weight="normal" fill="#333" text-anchor="middle" stroke="#333" stroke-width="0.12">9</text>
<line x1="113.75" y1="521.80" x2="113.75" y2="524.00" stroke="#111" stroke-width="0.8"/>
<text x="113.75" y="533.60" font-size="6.6" font-weight="normal" fill="#333" text-anchor="middle" stroke="#333" stroke-width="0.12">12</text>
<line x1="132.50" y1="521.80" x2="132.50" y2="524.00" stroke="#111" stroke-width="0.8"/>
<text x="132.50" y="533.60" font-size="6.6" font-weight="normal" fill="#333" text-anchor="middle" stroke="#333" stroke-width="0.12">15</text>
<text x="136.60" y="477.00" font-size="6.3" font-weight="normal" fill="#eaa43a" text-anchor="start" stroke="#eaa43a" stroke-width="0.12">ns</text>
<text x="138.40" y="489.00" font-size="6.3" font-weight="normal" fill="#3aa046" text-anchor="start" stroke="#3aa046" stroke-width="0.12">*</text>
<text x="137.80" y="502.60" font-size="6.3" font-weight="normal" fill="#4fb5d9" text-anchor="start" stroke="#4fb5d9" stroke-width="0.12">**</text>
<text x="43.00" y="446.30" font-size="7.6" font-weight="bold" fill="#222" text-anchor="start" textLength="59" lengthAdjust="spacingAndGlyphs">HL-60 CLONE 1</text>
<text x="53.80" y="456.30" font-size="7.6" font-weight="bold" fill="#222" text-anchor="start" textLength="38.7" lengthAdjust="spacingAndGlyphs">(B56&#945; WT)</text>
<text x="41.30" y="466.30" font-size="7.6" font-weight="normal" fill="#333" text-anchor="start" textLength="70" lengthAdjust="spacingAndGlyphs" stroke="#333" stroke-width="0.12">n~8 mice per group</text>
<text x="11.00" y="482.60" font-size="6.4" font-weight="normal" fill="#333" text-anchor="middle" textLength="60" lengthAdjust="spacingAndGlyphs" transform="rotate(-90 11.0 482.6)" stroke="#333" stroke-width="0.12">Tumor volume (mm3)</text>
<text x="87.00" y="544.60" font-size="6.4" font-weight="normal" fill="#333" text-anchor="middle" textLength="68" lengthAdjust="spacingAndGlyphs" stroke="#333" stroke-width="0.12">Days after treatment start</text>
<path d="M182.00,518.24 L200.75,515.16 L225.75,510.65 L238.25,506.14 L250.75,502.45 L269.50,491.17" fill="none" stroke="#4fb5d9" stroke-width="0.9"/>
<path d="M182.00,517.82 L200.75,514.75 L225.75,506.55 L238.25,498.35 L250.75,495.27 L269.50,486.05" fill="none" stroke="#3aa046" stroke-width="0.9"/>
<path d="M182.00,517.82 L200.75,513.31 L225.75,502.45 L238.25,491.17 L250.75,480.92 L269.50,467.60" fill="none" stroke="#eaa43a" stroke-width="0.9"/>
<path d="M182.00,517.82 L200.75,514.34 L225.75,507.57 L238.25,500.40 L250.75,494.25 L269.50,486.46" fill="none" stroke="#111111" stroke-width="0.9"/>
<circle cx="182.00" cy="518.24" r="1.28" fill="#4fb5d9" stroke="none" stroke-width="1"/>
<line x1="200.75" y1="516.80" x2="200.75" y2="513.52" stroke="#4fb5d9" stroke-width="0.6"/>
<line x1="199.65" y1="513.52" x2="201.85" y2="513.52" stroke="#4fb5d9" stroke-width="0.6"/>
<line x1="199.65" y1="516.80" x2="201.85" y2="516.80" stroke="#4fb5d9" stroke-width="0.6"/>
<circle cx="200.75" cy="515.16" r="1.28" fill="#4fb5d9" stroke="none" stroke-width="1"/>
<line x1="225.75" y1="513.73" x2="225.75" y2="507.57" stroke="#4fb5d9" stroke-width="0.6"/>
<line x1="224.65" y1="507.57" x2="226.85" y2="507.57" stroke="#4fb5d9" stroke-width="0.6"/>
<line x1="224.65" y1="513.73" x2="226.85" y2="513.73" stroke="#4fb5d9" stroke-width="0.6"/>
<circle cx="225.75" cy="510.65" r="1.28" fill="#4fb5d9" stroke="none" stroke-width="1"/>
<line x1="238.25" y1="512.29" x2="238.25" y2="499.99" stroke="#4fb5d9" stroke-width="0.6"/>
<line x1="237.15" y1="499.99" x2="239.35" y2="499.99" stroke="#4fb5d9" stroke-width="0.6"/>
<line x1="237.15" y1="512.29" x2="239.35" y2="512.29" stroke="#4fb5d9" stroke-width="0.6"/>
<circle cx="238.25" cy="506.14" r="1.28" fill="#4fb5d9" stroke="none" stroke-width="1"/>
<line x1="250.75" y1="510.65" x2="250.75" y2="494.25" stroke="#4fb5d9" stroke-width="0.6"/>
<line x1="249.65" y1="494.25" x2="251.85" y2="494.25" stroke="#4fb5d9" stroke-width="0.6"/>
<line x1="249.65" y1="510.65" x2="251.85" y2="510.65" stroke="#4fb5d9" stroke-width="0.6"/>
<circle cx="250.75" cy="502.45" r="1.28" fill="#4fb5d9" stroke="none" stroke-width="1"/>
<line x1="269.50" y1="503.47" x2="269.50" y2="478.88" stroke="#4fb5d9" stroke-width="0.6"/>
<line x1="268.40" y1="478.88" x2="270.60" y2="478.88" stroke="#4fb5d9" stroke-width="0.6"/>
<line x1="268.40" y1="503.47" x2="270.60" y2="503.47" stroke="#4fb5d9" stroke-width="0.6"/>
<circle cx="269.50" cy="491.17" r="1.28" fill="#4fb5d9" stroke="none" stroke-width="1"/>
<rect x="180.40" y="516.22" width="3.20" height="3.20" fill="#3aa046" stroke="none" stroke-width="1"/>
<line x1="200.75" y1="516.39" x2="200.75" y2="513.11" stroke="#3aa046" stroke-width="0.6"/>
<line x1="199.65" y1="513.11" x2="201.85" y2="513.11" stroke="#3aa046" stroke-width="0.6"/>
<line x1="199.65" y1="516.39" x2="201.85" y2="516.39" stroke="#3aa046" stroke-width="0.6"/>
<rect x="199.15" y="513.15" width="3.20" height="3.20" fill="#3aa046" stroke="none" stroke-width="1"/>
<line x1="225.75" y1="511.67" x2="225.75" y2="501.42" stroke="#3aa046" stroke-width="0.6"/>
<line x1="224.65" y1="501.42" x2="226.85" y2="501.42" stroke="#3aa046" stroke-width="0.6"/>
<line x1="224.65" y1="511.67" x2="226.85" y2="511.67" stroke="#3aa046" stroke-width="0.6"/>
<rect x="224.15" y="504.95" width="3.20" height="3.20" fill="#3aa046" stroke="none" stroke-width="1"/>
<line x1="238.25" y1="506.55" x2="238.25" y2="490.15" stroke="#3aa046" stroke-width="0.6"/>
<line x1="237.15" y1="490.15" x2="239.35" y2="490.15" stroke="#3aa046" stroke-width="0.6"/>
<line x1="237.15" y1="506.55" x2="239.35" y2="506.55" stroke="#3aa046" stroke-width="0.6"/>
<rect x="236.65" y="496.75" width="3.20" height="3.20" fill="#3aa046" stroke="none" stroke-width="1"/>
<line x1="250.75" y1="510.65" x2="250.75" y2="479.90" stroke="#3aa046" stroke-width="0.6"/>
<line x1="249.65" y1="479.90" x2="251.85" y2="479.90" stroke="#3aa046" stroke-width="0.6"/>
<line x1="249.65" y1="510.65" x2="251.85" y2="510.65" stroke="#3aa046" stroke-width="0.6"/>
<rect x="249.15" y="493.67" width="3.20" height="3.20" fill="#3aa046" stroke="none" stroke-width="1"/>
<line x1="269.50" y1="498.35" x2="269.50" y2="473.75" stroke="#3aa046" stroke-width="0.6"/>
<line x1="268.40" y1="473.75" x2="270.60" y2="473.75" stroke="#3aa046" stroke-width="0.6"/>
<line x1="268.40" y1="498.35" x2="270.60" y2="498.35" stroke="#3aa046" stroke-width="0.6"/>
<rect x="267.90" y="484.45" width="3.20" height="3.20" fill="#3aa046" stroke="none" stroke-width="1"/>
<line x1="182.00" y1="518.85" x2="182.00" y2="516.80" stroke="#eaa43a" stroke-width="0.6"/>
<line x1="180.90" y1="516.80" x2="183.10" y2="516.80" stroke="#eaa43a" stroke-width="0.6"/>
<line x1="180.90" y1="518.85" x2="183.10" y2="518.85" stroke="#eaa43a" stroke-width="0.6"/>
<polygon points="182.00,515.90 180.08,519.42 183.92,519.42" fill="#eaa43a" stroke="none" stroke-width="1"/>
<line x1="200.75" y1="517.41" x2="200.75" y2="509.21" stroke="#eaa43a" stroke-width="0.6"/>
<line x1="199.65" y1="509.21" x2="201.85" y2="509.21" stroke="#eaa43a" stroke-width="0.6"/>
<line x1="199.65" y1="517.41" x2="201.85" y2="517.41" stroke="#eaa43a" stroke-width="0.6"/>
<polygon points="200.75,511.39 198.83,514.91 202.67,514.91" fill="#eaa43a" stroke="none" stroke-width="1"/>
<line x1="225.75" y1="511.67" x2="225.75" y2="493.22" stroke="#eaa43a" stroke-width="0.6"/>
<line x1="224.65" y1="493.22" x2="226.85" y2="493.22" stroke="#eaa43a" stroke-width="0.6"/>
<line x1="224.65" y1="511.67" x2="226.85" y2="511.67" stroke="#eaa43a" stroke-width="0.6"/>
<polygon points="225.75,500.53 223.83,504.05 227.67,504.05" fill="#eaa43a" stroke="none" stroke-width="1"/>
<line x1="238.25" y1="502.45" x2="238.25" y2="479.90" stroke="#eaa43a" stroke-width="0.6"/>
<line x1="237.15" y1="479.90" x2="239.35" y2="479.90" stroke="#eaa43a" stroke-width="0.6"/>
<line x1="237.15" y1="502.45" x2="239.35" y2="502.45" stroke="#eaa43a" stroke-width="0.6"/>
<polygon points="238.25,489.25 236.33,492.77 240.17,492.77" fill="#eaa43a" stroke="none" stroke-width="1"/>
<line x1="250.75" y1="492.20" x2="250.75" y2="469.65" stroke="#eaa43a" stroke-width="0.6"/>
<line x1="249.65" y1="469.65" x2="251.85" y2="469.65" stroke="#eaa43a" stroke-width="0.6"/>
<line x1="249.65" y1="492.20" x2="251.85" y2="492.20" stroke="#eaa43a" stroke-width="0.6"/>
<polygon points="250.75,479.00 248.83,482.52 252.67,482.52" fill="#eaa43a" stroke="none" stroke-width="1"/>
<line x1="269.50" y1="479.90" x2="269.50" y2="455.30" stroke="#eaa43a" stroke-width="0.6"/>
<line x1="268.40" y1="455.30" x2="270.60" y2="455.30" stroke="#eaa43a" stroke-width="0.6"/>
<line x1="268.40" y1="479.90" x2="270.60" y2="479.90" stroke="#eaa43a" stroke-width="0.6"/>
<polygon points="269.50,465.68 267.58,469.20 271.42,469.20" fill="#eaa43a" stroke="none" stroke-width="1"/>
<line x1="182.00" y1="518.85" x2="182.00" y2="516.80" stroke="#222" stroke-width="0.6"/>
<line x1="180.90" y1="516.80" x2="183.10" y2="516.80" stroke="#222" stroke-width="0.6"/>
<line x1="180.90" y1="518.85" x2="183.10" y2="518.85" stroke="#222" stroke-width="0.6"/>
<circle cx="182.00" cy="517.82" r="1.76" fill="#111111" stroke="none" stroke-width="1"/>
<line x1="200.75" y1="516.39" x2="200.75" y2="512.29" stroke="#222" stroke-width="0.6"/>
<line x1="199.65" y1="512.29" x2="201.85" y2="512.29" stroke="#222" stroke-width="0.6"/>
<line x1="199.65" y1="516.39" x2="201.85" y2="516.39" stroke="#222" stroke-width="0.6"/>
<circle cx="200.75" cy="514.34" r="1.76" fill="#111111" stroke="none" stroke-width="1"/>
<line x1="225.75" y1="512.70" x2="225.75" y2="502.45" stroke="#222" stroke-width="0.6"/>
<line x1="224.65" y1="502.45" x2="226.85" y2="502.45" stroke="#222" stroke-width="0.6"/>
<line x1="224.65" y1="512.70" x2="226.85" y2="512.70" stroke="#222" stroke-width="0.6"/>
<circle cx="225.75" cy="507.57" r="1.76" fill="#111111" stroke="none" stroke-width="1"/>
<line x1="238.25" y1="507.57" x2="238.25" y2="493.22" stroke="#222" stroke-width="0.6"/>
<line x1="237.15" y1="493.22" x2="239.35" y2="493.22" stroke="#222" stroke-width="0.6"/>
<line x1="237.15" y1="507.57" x2="239.35" y2="507.57" stroke="#222" stroke-width="0.6"/>
<circle cx="238.25" cy="500.40" r="1.76" fill="#111111" stroke="none" stroke-width="1"/>
<line x1="250.75" y1="504.50" x2="250.75" y2="484.00" stroke="#222" stroke-width="0.6"/>
<line x1="249.65" y1="484.00" x2="251.85" y2="484.00" stroke="#222" stroke-width="0.6"/>
<line x1="249.65" y1="504.50" x2="251.85" y2="504.50" stroke="#222" stroke-width="0.6"/>
<circle cx="250.75" cy="494.25" r="1.76" fill="#111111" stroke="none" stroke-width="1"/>
<line x1="269.50" y1="492.61" x2="269.50" y2="480.31" stroke="#222" stroke-width="0.6"/>
<line x1="268.40" y1="480.31" x2="270.60" y2="480.31" stroke="#222" stroke-width="0.6"/>
<line x1="268.40" y1="492.61" x2="270.60" y2="492.61" stroke="#222" stroke-width="0.6"/>
<circle cx="269.50" cy="486.46" r="1.76" fill="#111111" stroke="none" stroke-width="1"/>
<line x1="175.20" y1="447.10" x2="175.20" y2="521.40" stroke="#111" stroke-width="1.0"/>
<line x1="174.70" y1="520.90" x2="272.00" y2="520.90" stroke="#111" stroke-width="1.0"/>
<line x1="173.00" y1="520.90" x2="175.20" y2="520.90" stroke="#111" stroke-width="0.8"/>
<text x="169.60" y="523.20" font-size="6.5" font-weight="normal" fill="#333" text-anchor="end" textLength="3.7" lengthAdjust="spacingAndGlyphs" stroke="#333" stroke-width="0.12">0</text>
<line x1="173.00" y1="510.65" x2="175.20" y2="510.65" stroke="#111" stroke-width="0.8"/>
<text x="169.60" y="512.95" font-size="6.5" font-weight="normal" fill="#333" text-anchor="end" textLength="11.100000000000001" lengthAdjust="spacingAndGlyphs" stroke="#333" stroke-width="0.12">500</text>
<line x1="173.00" y1="500.40" x2="175.20" y2="500.40" stroke="#111" stroke-width="0.8"/>
<text x="169.60" y="502.70" font-size="6.5" font-weight="normal" fill="#333" text-anchor="end" textLength="14.8" lengthAdjust="spacingAndGlyphs" stroke="#333" stroke-width="0.12">1000</text>
<line x1="173.00" y1="490.15" x2="175.20" y2="490.15" stroke="#111" stroke-width="0.8"/>
<text x="169.60" y="492.45" font-size="6.5" font-weight="normal" fill="#333" text-anchor="end" textLength="14.8" lengthAdjust="spacingAndGlyphs" stroke="#333" stroke-width="0.12">1500</text>
<line x1="173.00" y1="479.90" x2="175.20" y2="479.90" stroke="#111" stroke-width="0.8"/>
<text x="169.60" y="482.20" font-size="6.5" font-weight="normal" fill="#333" text-anchor="end" textLength="14.8" lengthAdjust="spacingAndGlyphs" stroke="#333" stroke-width="0.12">2000</text>
<line x1="173.00" y1="469.65" x2="175.20" y2="469.65" stroke="#111" stroke-width="0.8"/>
<text x="169.60" y="471.95" font-size="6.5" font-weight="normal" fill="#333" text-anchor="end" textLength="14.8" lengthAdjust="spacingAndGlyphs" stroke="#333" stroke-width="0.12">2500</text>
<line x1="173.00" y1="459.40" x2="175.20" y2="459.40" stroke="#111" stroke-width="0.8"/>
<text x="169.60" y="461.70" font-size="6.5" font-weight="normal" fill="#333" text-anchor="end" textLength="14.8" lengthAdjust="spacingAndGlyphs" stroke="#333" stroke-width="0.12">3000</text>
<line x1="173.00" y1="449.15" x2="175.20" y2="449.15" stroke="#111" stroke-width="0.8"/>
<text x="169.60" y="451.45" font-size="6.5" font-weight="normal" fill="#333" text-anchor="end" textLength="14.8" lengthAdjust="spacingAndGlyphs" stroke="#333" stroke-width="0.12">3500</text>
<line x1="175.75" y1="520.90" x2="175.75" y2="523.10" stroke="#111" stroke-width="0.8"/>
<text x="175.75" y="532.70" font-size="6.6" font-weight="normal" fill="#333" text-anchor="middle" stroke="#333" stroke-width="0.12">0</text>
<line x1="194.50" y1="520.90" x2="194.50" y2="523.10" stroke="#111" stroke-width="0.8"/>
<text x="194.50" y="532.70" font-size="6.6" font-weight="normal" fill="#333" text-anchor="middle" stroke="#333" stroke-width="0.12">3</text>
<line x1="213.25" y1="520.90" x2="213.25" y2="523.10" stroke="#111" stroke-width="0.8"/>
<text x="213.25" y="532.70" font-size="6.6" font-weight="normal" fill="#333" text-anchor="middle" stroke="#333" stroke-width="0.12">6</text>
<line x1="232.00" y1="520.90" x2="232.00" y2="523.10" stroke="#111" stroke-width="0.8"/>
<text x="232.00" y="532.70" font-size="6.6" font-weight="normal" fill="#333" text-anchor="middle" stroke="#333" stroke-width="0.12">9</text>
<line x1="250.75" y1="520.90" x2="250.75" y2="523.10" stroke="#111" stroke-width="0.8"/>
<text x="250.75" y="532.70" font-size="6.6" font-weight="normal" fill="#333" text-anchor="middle" stroke="#333" stroke-width="0.12">12</text>
<line x1="269.50" y1="520.90" x2="269.50" y2="523.10" stroke="#111" stroke-width="0.8"/>
<text x="269.50" y="532.70" font-size="6.6" font-weight="normal" fill="#333" text-anchor="middle" stroke="#333" stroke-width="0.12">15</text>
<text x="275.00" y="468.50" font-size="6.3" font-weight="normal" fill="#eaa43a" text-anchor="start" stroke="#eaa43a" stroke-width="0.12">*</text>
<text x="275.00" y="488.50" font-size="6.3" font-weight="normal" fill="#3aa046" text-anchor="start" stroke="#3aa046" stroke-width="0.12">ns</text>
<text x="275.00" y="493.00" font-size="6.3" font-weight="normal" fill="#4fb5d9" text-anchor="start" stroke="#4fb5d9" stroke-width="0.12">ns</text>
<text x="183.80" y="446.30" font-size="7.6" font-weight="bold" fill="#24508e" text-anchor="start" textLength="59.2" lengthAdjust="spacingAndGlyphs">HL-60 CLONE 2</text>
<text x="180.00" y="455.80" font-size="7.6" font-weight="bold" fill="#24508e" text-anchor="start" textLength="67.5" lengthAdjust="spacingAndGlyphs">(B56&#945; inactivation)</text>
<text x="177.50" y="466.30" font-size="7.6" font-weight="normal" fill="#333" text-anchor="start" textLength="70" lengthAdjust="spacingAndGlyphs" stroke="#333" stroke-width="0.12">n~8 mice per group</text>
<text x="224.40" y="544.80" font-size="6.4" font-weight="normal" fill="#333" text-anchor="middle" textLength="68.5" lengthAdjust="spacingAndGlyphs" stroke="#333" stroke-width="0.12">Days after treatment start</text>
<text x="291.70" y="419.30" font-size="12" font-weight="bold" fill="#111" text-anchor="start">F</text>
<text x="322.50" y="428.00" font-size="6.8" font-weight="bold" fill="#222" text-anchor="start" textLength="30" lengthAdjust="spacingAndGlyphs">Levels of:</text>
<text x="361.30" y="428.00" font-size="6.8" font-weight="bold" fill="#333" text-anchor="start" textLength="15" lengthAdjust="spacingAndGlyphs">B56&#945;</text>
<text x="392.30" y="428.00" font-size="6.8" font-weight="bold" fill="#9c94d2" text-anchor="start" textLength="23" lengthAdjust="spacingAndGlyphs">p-BCL2</text>
<text x="438.50" y="428.00" font-size="6.8" font-weight="bold" fill="#f0a23c" text-anchor="start" textLength="19.3" lengthAdjust="spacingAndGlyphs">p-ERK</text>
<text x="473.80" y="428.00" font-size="6.8" font-weight="bold" fill="#2c7a53" text-anchor="start" textLength="18" lengthAdjust="spacingAndGlyphs">MCL1</text>
<text x="328.80" y="442.50" font-size="6.8" font-weight="normal" fill="#333" text-anchor="start" textLength="75" lengthAdjust="spacingAndGlyphs" stroke="#333" stroke-width="0.12">Group treatment: vehicle</text>
<text x="433.00" y="442.50" font-size="6.8" font-weight="normal" fill="#3b78b8" text-anchor="start" textLength="76" lengthAdjust="spacingAndGlyphs" stroke="#3b78b8" stroke-width="0.12">Group treatment: combo</text>
<line x1="337.00" y1="474.57" x2="337.00" y2="477.02" stroke="#333333" stroke-width="0.7"/>
<line x1="337.00" y1="490.79" x2="337.00" y2="497.83" stroke="#333333" stroke-width="0.7"/>
<line x1="335.32" y1="474.57" x2="338.68" y2="474.57" stroke="#333333" stroke-width="0.7"/>
<line x1="335.32" y1="497.83" x2="338.68" y2="497.83" stroke="#333333" stroke-width="0.7"/>
<rect x="334.20" y="477.02" width="5.60" height="13.77" fill="#505050" stroke="#333333" stroke-width="0.5"/>
<line x1="334.20" y1="487.73" x2="339.80" y2="487.73" stroke="#333333" stroke-width="0.7"/>
<line x1="347.12" y1="503.03" x2="347.12" y2="506.09" stroke="#333333" stroke-width="0.7"/>
<line x1="347.12" y1="514.66" x2="347.12" y2="516.19" stroke="#333333" stroke-width="0.7"/>
<line x1="345.44" y1="503.03" x2="348.80" y2="503.03" stroke="#333333" stroke-width="0.7"/>
<line x1="345.44" y1="516.19" x2="348.80" y2="516.19" stroke="#333333" stroke-width="0.7"/>
<rect x="344.32" y="506.09" width="5.60" height="8.57" fill="#505050" stroke="#333333" stroke-width="0.5"/>
<line x1="344.32" y1="510.68" x2="349.92" y2="510.68" stroke="#333333" stroke-width="0.7"/>
<line x1="357.24" y1="470.29" x2="357.24" y2="472.43" stroke="#a79fd6" stroke-width="0.7"/>
<line x1="357.24" y1="495.38" x2="357.24" y2="503.03" stroke="#a79fd6" stroke-width="0.7"/>
<line x1="355.56" y1="470.29" x2="358.92" y2="470.29" stroke="#a79fd6" stroke-width="0.7"/>
<line x1="355.56" y1="503.03" x2="358.92" y2="503.03" stroke="#a79fd6" stroke-width="0.7"/>
<rect x="354.44" y="472.43" width="5.60" height="22.95" fill="#c9c2ea" stroke="#a79fd6" stroke-width="0.5"/>
<line x1="354.44" y1="489.26" x2="360.04" y2="489.26" stroke="#a79fd6" stroke-width="0.7"/>
<line x1="367.36" y1="483.14" x2="367.36" y2="492.32" stroke="#a79fd6" stroke-width="0.7"/>
<line x1="367.36" y1="499.36" x2="367.36" y2="504.56" stroke="#a79fd6" stroke-width="0.7"/>
<line x1="365.68" y1="483.14" x2="369.04" y2="483.14" stroke="#a79fd6" stroke-width="0.7"/>
<line x1="365.68" y1="504.56" x2="369.04" y2="504.56" stroke="#a79fd6" stroke-width="0.7"/>
<rect x="364.56" y="492.32" width="5.60" height="7.04" fill="#c9c2ea" stroke="#a79fd6" stroke-width="0.5"/>
<line x1="364.56" y1="495.99" x2="370.16" y2="495.99" stroke="#a79fd6" stroke-width="0.7"/>
<line x1="377.48" y1="468.45" x2="377.48" y2="481.61" stroke="#eda948" stroke-width="0.7"/>
<line x1="377.48" y1="487.73" x2="377.48" y2="508.23" stroke="#eda948" stroke-width="0.7"/>
<line x1="375.80" y1="468.45" x2="379.16" y2="468.45" stroke="#eda948" stroke-width="0.7"/>
<line x1="375.80" y1="508.23" x2="379.16" y2="508.23" stroke="#eda948" stroke-width="0.7"/>
<rect x="374.68" y="481.61" width="5.60" height="6.12" fill="#f6c27c" stroke="#eda948" stroke-width="0.5"/>
<line x1="374.68" y1="486.20" x2="380.28" y2="486.20" stroke="#eda948" stroke-width="0.7"/>
<line x1="387.60" y1="458.66" x2="387.60" y2="482.53" stroke="#eda948" stroke-width="0.7"/>
<line x1="387.60" y1="503.03" x2="387.60" y2="507.62" stroke="#eda948" stroke-width="0.7"/>
<line x1="385.92" y1="458.66" x2="389.28" y2="458.66" stroke="#eda948" stroke-width="0.7"/>
<line x1="385.92" y1="507.62" x2="389.28" y2="507.62" stroke="#eda948" stroke-width="0.7"/>
<rect x="384.80" y="482.53" width="5.60" height="20.50" fill="#f6c27c" stroke="#eda948" stroke-width="0.5"/>
<line x1="384.80" y1="490.79" x2="390.40" y2="490.79" stroke="#eda948" stroke-width="0.7"/>
<line x1="397.72" y1="472.43" x2="397.72" y2="472.43" stroke="#4e7f68" stroke-width="0.7"/>
<line x1="397.72" y1="495.38" x2="397.72" y2="497.83" stroke="#4e7f68" stroke-width="0.7"/>
<line x1="396.04" y1="472.43" x2="399.40" y2="472.43" stroke="#4e7f68" stroke-width="0.7"/>
<line x1="396.04" y1="497.83" x2="399.40" y2="497.83" stroke="#4e7f68" stroke-width="0.7"/>
<rect x="394.92" y="472.43" width="5.60" height="22.95" fill="#6f9d86" stroke="#4e7f68" stroke-width="0.5"/>
<line x1="394.92" y1="488.34" x2="400.52" y2="488.34" stroke="#4e7f68" stroke-width="0.7"/>
<line x1="407.84" y1="480.69" x2="407.84" y2="486.81" stroke="#4e7f68" stroke-width="0.7"/>
<line x1="407.84" y1="495.38" x2="407.84" y2="499.05" stroke="#4e7f68" stroke-width="0.7"/>
<line x1="406.16" y1="480.69" x2="409.52" y2="480.69" stroke="#4e7f68" stroke-width="0.7"/>
<line x1="406.16" y1="499.05" x2="409.52" y2="499.05" stroke="#4e7f68" stroke-width="0.7"/>
<rect x="405.04" y="486.81" width="5.60" height="8.57" fill="#6f9d86" stroke="#4e7f68" stroke-width="0.5"/>
<line x1="405.04" y1="490.79" x2="410.64" y2="490.79" stroke="#4e7f68" stroke-width="0.7"/>
<line x1="330.00" y1="453.07" x2="330.00" y2="517.30" stroke="#111" stroke-width="1.0"/>
<line x1="329.50" y1="516.80" x2="414.70" y2="516.80" stroke="#111" stroke-width="1.0"/>
<line x1="327.80" y1="516.80" x2="330.00" y2="516.80" stroke="#111" stroke-width="0.8"/>
<text x="326.00" y="519.20" font-size="6.8" font-weight="normal" fill="#333" text-anchor="end" stroke="#333" stroke-width="0.12">0</text>
<line x1="327.80" y1="501.50" x2="330.00" y2="501.50" stroke="#111" stroke-width="0.8"/>
<text x="326.00" y="503.90" font-size="6.8" font-weight="normal" fill="#333" text-anchor="end" stroke="#333" stroke-width="0.12">0.5</text>
<line x1="327.80" y1="486.20" x2="330.00" y2="486.20" stroke="#111" stroke-width="0.8"/>
<text x="326.00" y="488.60" font-size="6.8" font-weight="normal" fill="#333" text-anchor="end" stroke="#333" stroke-width="0.12">1</text>
<line x1="327.80" y1="470.90" x2="330.00" y2="470.90" stroke="#111" stroke-width="0.8"/>
<text x="326.00" y="473.30" font-size="6.8" font-weight="normal" fill="#333" text-anchor="end" stroke="#333" stroke-width="0.12">1.5</text>
<line x1="327.80" y1="455.60" x2="330.00" y2="455.60" stroke="#111" stroke-width="0.8"/>
<text x="326.00" y="458.00" font-size="6.8" font-weight="normal" fill="#333" text-anchor="end" stroke="#333" stroke-width="0.12">2</text>
<line x1="337.00" y1="516.80" x2="337.00" y2="519.00" stroke="#111" stroke-width="0.8"/>
<text x="338.20" y="526.80" font-size="7" font-weight="normal" fill="#222" text-anchor="end" textLength="10.2" lengthAdjust="spacingAndGlyphs" transform="rotate(-45 338.2 526.8)" stroke="#222" stroke-width="0.12">WT</text>
<line x1="347.12" y1="516.80" x2="347.12" y2="519.00" stroke="#111" stroke-width="0.8"/>
<text x="348.92" y="526.80" font-size="7" font-weight="normal" fill="#3d73ad" text-anchor="end" textLength="32.5" lengthAdjust="spacingAndGlyphs" transform="rotate(-45 348.92 526.8)" stroke="#3d73ad" stroke-width="0.12">B56&#945; inact.</text>
<line x1="357.24" y1="516.80" x2="357.24" y2="519.00" stroke="#111" stroke-width="0.8"/>
<text x="358.44" y="526.80" font-size="7" font-weight="normal" fill="#222" text-anchor="end" textLength="10.2" lengthAdjust="spacingAndGlyphs" transform="rotate(-45 358.44 526.8)" stroke="#222" stroke-width="0.12">WT</text>
<line x1="367.36" y1="516.80" x2="367.36" y2="519.00" stroke="#111" stroke-width="0.8"/>
<text x="369.16" y="526.80" font-size="7" font-weight="normal" fill="#3d73ad" text-anchor="end" textLength="32.5" lengthAdjust="spacingAndGlyphs" transform="rotate(-45 369.16 526.8)" stroke="#3d73ad" stroke-width="0.12">B56&#945; inact.</text>
<line x1="377.48" y1="516.80" x2="377.48" y2="519.00" stroke="#111" stroke-width="0.8"/>
<text x="378.68" y="526.80" font-size="7" font-weight="normal" fill="#222" text-anchor="end" textLength="10.2" lengthAdjust="spacingAndGlyphs" transform="rotate(-45 378.68 526.8)" stroke="#222" stroke-width="0.12">WT</text>
<line x1="387.60" y1="516.80" x2="387.60" y2="519.00" stroke="#111" stroke-width="0.8"/>
<text x="389.40" y="526.80" font-size="7" font-weight="normal" fill="#3d73ad" text-anchor="end" textLength="32.5" lengthAdjust="spacingAndGlyphs" transform="rotate(-45 389.40000000000003 526.8)" stroke="#3d73ad" stroke-width="0.12">B56&#945; inact.</text>
<line x1="397.72" y1="516.80" x2="397.72" y2="519.00" stroke="#111" stroke-width="0.8"/>
<text x="398.92" y="526.80" font-size="7" font-weight="normal" fill="#222" text-anchor="end" textLength="10.2" lengthAdjust="spacingAndGlyphs" transform="rotate(-45 398.92 526.8)" stroke="#222" stroke-width="0.12">WT</text>
<line x1="407.84" y1="516.80" x2="407.84" y2="519.00" stroke="#111" stroke-width="0.8"/>
<text x="409.64" y="526.80" font-size="7" font-weight="normal" fill="#3d73ad" text-anchor="end" textLength="32.5" lengthAdjust="spacingAndGlyphs" transform="rotate(-45 409.64 526.8)" stroke="#3d73ad" stroke-width="0.12">B56&#945; inact.</text>
<path d="M337.00,472.37 L337.00,463.25 L347.12,463.25 L347.12,500.83" fill="none" stroke="#222" stroke-width="0.75"/>
<text x="342.06" y="461.85" font-size="6.6" font-weight="normal" fill="#222" text-anchor="middle" stroke="#222" stroke-width="0.12">***</text>
<path d="M357.24,468.09 L357.24,462.33 L367.36,462.33 L367.36,480.94" fill="none" stroke="#222" stroke-width="0.75"/>
<text x="362.30" y="460.93" font-size="6.6" font-weight="normal" fill="#222" text-anchor="middle" stroke="#222" stroke-width="0.12">ns</text>
<path d="M377.48,455.54 L377.48,452.54 L387.60,452.54 L387.60,455.54" fill="none" stroke="#222" stroke-width="0.75"/>
<text x="382.54" y="451.14" font-size="6.6" font-weight="normal" fill="#222" text-anchor="middle" stroke="#222" stroke-width="0.12">ns</text>
<path d="M397.72,470.23 L397.72,463.25 L407.84,463.25 L407.84,478.49" fill="none" stroke="#222" stroke-width="0.75"/>
<text x="402.78" y="461.85" font-size="6.6" font-weight="normal" fill="#222" text-anchor="middle" stroke="#222" stroke-width="0.12">ns</text>
<line x1="441.70" y1="483.92" x2="441.70" y2="496.40" stroke="#333333" stroke-width="0.7"/>
<line x1="441.70" y1="502.64" x2="441.70" y2="504.72" stroke="#333333" stroke-width="0.7"/>
<line x1="440.02" y1="483.92" x2="443.38" y2="483.92" stroke="#333333" stroke-width="0.7"/>
<line x1="440.02" y1="504.72" x2="443.38" y2="504.72" stroke="#333333" stroke-width="0.7"/>
<rect x="438.90" y="496.40" width="5.60" height="6.24" fill="#505050" stroke="#333333" stroke-width="0.5"/>
<line x1="438.90" y1="500.04" x2="444.50" y2="500.04" stroke="#333333" stroke-width="0.7"/>
<line x1="451.82" y1="504.72" x2="451.82" y2="505.24" stroke="#333333" stroke-width="0.7"/>
<line x1="451.82" y1="507.32" x2="451.82" y2="507.84" stroke="#333333" stroke-width="0.7"/>
<line x1="450.14" y1="504.72" x2="453.50" y2="504.72" stroke="#333333" stroke-width="0.7"/>
<line x1="450.14" y1="507.84" x2="453.50" y2="507.84" stroke="#333333" stroke-width="0.7"/>
<rect x="449.02" y="505.24" width="5.60" height="2.08" fill="#505050" stroke="#333333" stroke-width="0.5"/>
<line x1="449.02" y1="506.28" x2="454.62" y2="506.28" stroke="#333333" stroke-width="0.7"/>
<line x1="461.94" y1="507.84" x2="461.94" y2="508.88" stroke="#a79fd6" stroke-width="0.7"/>
<line x1="461.94" y1="512.00" x2="461.94" y2="513.04" stroke="#a79fd6" stroke-width="0.7"/>
<line x1="460.26" y1="507.84" x2="463.62" y2="507.84" stroke="#a79fd6" stroke-width="0.7"/>
<line x1="460.26" y1="513.04" x2="463.62" y2="513.04" stroke="#a79fd6" stroke-width="0.7"/>
<rect x="459.14" y="508.88" width="5.60" height="3.12" fill="#c9c2ea" stroke="#a79fd6" stroke-width="0.5"/>
<line x1="459.14" y1="510.44" x2="464.74" y2="510.44" stroke="#a79fd6" stroke-width="0.7"/>
<line x1="472.06" y1="502.64" x2="472.06" y2="503.68" stroke="#a79fd6" stroke-width="0.7"/>
<line x1="472.06" y1="508.36" x2="472.06" y2="508.88" stroke="#a79fd6" stroke-width="0.7"/>
<line x1="470.38" y1="502.64" x2="473.74" y2="502.64" stroke="#a79fd6" stroke-width="0.7"/>
<line x1="470.38" y1="508.88" x2="473.74" y2="508.88" stroke="#a79fd6" stroke-width="0.7"/>
<rect x="469.26" y="503.68" width="5.60" height="4.68" fill="#c9c2ea" stroke="#a79fd6" stroke-width="0.5"/>
<line x1="469.26" y1="506.80" x2="474.86" y2="506.80" stroke="#a79fd6" stroke-width="0.7"/>
<line x1="482.18" y1="495.36" x2="482.18" y2="498.48" stroke="#eda948" stroke-width="0.7"/>
<line x1="482.18" y1="504.20" x2="482.18" y2="511.48" stroke="#eda948" stroke-width="0.7"/>
<line x1="480.50" y1="495.36" x2="483.86" y2="495.36" stroke="#eda948" stroke-width="0.7"/>
<line x1="480.50" y1="511.48" x2="483.86" y2="511.48" stroke="#eda948" stroke-width="0.7"/>
<rect x="479.38" y="498.48" width="5.60" height="5.72" fill="#f6c27c" stroke="#eda948" stroke-width="0.5"/>
<line x1="479.38" y1="501.60" x2="484.98" y2="501.60" stroke="#eda948" stroke-width="0.7"/>
<line x1="492.30" y1="462.08" x2="492.30" y2="481.84" stroke="#eda948" stroke-width="0.7"/>
<line x1="492.30" y1="497.96" x2="492.30" y2="500.56" stroke="#eda948" stroke-width="0.7"/>
<line x1="490.62" y1="462.08" x2="493.98" y2="462.08" stroke="#eda948" stroke-width="0.7"/>
<line x1="490.62" y1="500.56" x2="493.98" y2="500.56" stroke="#eda948" stroke-width="0.7"/>
<rect x="489.50" y="481.84" width="5.60" height="16.12" fill="#f6c27c" stroke="#eda948" stroke-width="0.5"/>
<line x1="489.50" y1="492.24" x2="495.10" y2="492.24" stroke="#eda948" stroke-width="0.7"/>
<line x1="502.42" y1="500.56" x2="502.42" y2="502.64" stroke="#4e7f68" stroke-width="0.7"/>
<line x1="502.42" y1="508.36" x2="502.42" y2="508.88" stroke="#4e7f68" stroke-width="0.7"/>
<line x1="500.74" y1="500.56" x2="504.10" y2="500.56" stroke="#4e7f68" stroke-width="0.7"/>
<line x1="500.74" y1="508.88" x2="504.10" y2="508.88" stroke="#4e7f68" stroke-width="0.7"/>
<rect x="499.62" y="502.64" width="5.60" height="5.72" fill="#6f9d86" stroke="#4e7f68" stroke-width="0.5"/>
<line x1="499.62" y1="506.28" x2="505.22" y2="506.28" stroke="#4e7f68" stroke-width="0.7"/>
<line x1="512.54" y1="472.48" x2="512.54" y2="478.72" stroke="#4e7f68" stroke-width="0.7"/>
<line x1="512.54" y1="493.28" x2="512.54" y2="500.04" stroke="#4e7f68" stroke-width="0.7"/>
<line x1="510.86" y1="472.48" x2="514.22" y2="472.48" stroke="#4e7f68" stroke-width="0.7"/>
<line x1="510.86" y1="500.04" x2="514.22" y2="500.04" stroke="#4e7f68" stroke-width="0.7"/>
<rect x="509.74" y="478.72" width="5.60" height="14.56" fill="#6f9d86" stroke="#4e7f68" stroke-width="0.5"/>
<line x1="509.74" y1="488.08" x2="515.34" y2="488.08" stroke="#4e7f68" stroke-width="0.7"/>
<line x1="434.30" y1="452.76" x2="434.30" y2="517.70" stroke="#111" stroke-width="1.0"/>
<line x1="433.80" y1="517.20" x2="519.00" y2="517.20" stroke="#111" stroke-width="1.0"/>
<line x1="432.10" y1="517.20" x2="434.30" y2="517.20" stroke="#111" stroke-width="0.8"/>
<text x="430.30" y="519.60" font-size="6.8" font-weight="normal" fill="#333" text-anchor="end" stroke="#333" stroke-width="0.12">0</text>
<line x1="432.10" y1="496.40" x2="434.30" y2="496.40" stroke="#111" stroke-width="0.8"/>
<text x="430.30" y="498.80" font-size="6.8" font-weight="normal" fill="#333" text-anchor="end" stroke="#333" stroke-width="0.12">2</text>
<line x1="432.10" y1="475.60" x2="434.30" y2="475.60" stroke="#111" stroke-width="0.8"/>
<text x="430.30" y="478.00" font-size="6.8" font-weight="normal" fill="#333" text-anchor="end" stroke="#333" stroke-width="0.12">4</text>
<line x1="432.10" y1="454.80" x2="434.30" y2="454.80" stroke="#111" stroke-width="0.8"/>
<text x="430.30" y="457.20" font-size="6.8" font-weight="normal" fill="#333" text-anchor="end" stroke="#333" stroke-width="0.12">6</text>
<line x1="441.70" y1="517.20" x2="441.70" y2="519.40" stroke="#111" stroke-width="0.8"/>
<text x="442.90" y="527.20" font-size="7" font-weight="normal" fill="#222" text-anchor="end" textLength="10.2" lengthAdjust="spacingAndGlyphs" transform="rotate(-45 442.9 527.2)" stroke="#222" stroke-width="0.12">WT</text>
<line x1="451.82" y1="517.20" x2="451.82" y2="519.40" stroke="#111" stroke-width="0.8"/>
<text x="453.62" y="527.20" font-size="7" font-weight="normal" fill="#3d73ad" text-anchor="end" textLength="32.5" lengthAdjust="spacingAndGlyphs" transform="rotate(-45 453.62 527.2)" stroke="#3d73ad" stroke-width="0.12">B56&#945; inact.</text>
<line x1="461.94" y1="517.20" x2="461.94" y2="519.40" stroke="#111" stroke-width="0.8"/>
<text x="463.14" y="527.20" font-size="7" font-weight="normal" fill="#222" text-anchor="end" textLength="10.2" lengthAdjust="spacingAndGlyphs" transform="rotate(-45 463.14 527.2)" stroke="#222" stroke-width="0.12">WT</text>
<line x1="472.06" y1="517.20" x2="472.06" y2="519.40" stroke="#111" stroke-width="0.8"/>
<text x="473.86" y="527.20" font-size="7" font-weight="normal" fill="#3d73ad" text-anchor="end" textLength="32.5" lengthAdjust="spacingAndGlyphs" transform="rotate(-45 473.86 527.2)" stroke="#3d73ad" stroke-width="0.12">B56&#945; inact.</text>
<line x1="482.18" y1="517.20" x2="482.18" y2="519.40" stroke="#111" stroke-width="0.8"/>
<text x="483.38" y="527.20" font-size="7" font-weight="normal" fill="#222" text-anchor="end" textLength="10.2" lengthAdjust="spacingAndGlyphs" transform="rotate(-45 483.38 527.2)" stroke="#222" stroke-width="0.12">WT</text>
<line x1="492.30" y1="517.20" x2="492.30" y2="519.40" stroke="#111" stroke-width="0.8"/>
<text x="494.10" y="527.20" font-size="7" font-weight="normal" fill="#3d73ad" text-anchor="end" textLength="32.5" lengthAdjust="spacingAndGlyphs" transform="rotate(-45 494.09999999999997 527.2)" stroke="#3d73ad" stroke-width="0.12">B56&#945; inact.</text>
<line x1="502.42" y1="517.20" x2="502.42" y2="519.40" stroke="#111" stroke-width="0.8"/>
<text x="503.62" y="527.20" font-size="7" font-weight="normal" fill="#222" text-anchor="end" textLength="10.2" lengthAdjust="spacingAndGlyphs" transform="rotate(-45 503.61999999999995 527.2)" stroke="#222" stroke-width="0.12">WT</text>
<line x1="512.54" y1="517.20" x2="512.54" y2="519.40" stroke="#111" stroke-width="0.8"/>
<text x="514.34" y="527.20" font-size="7" font-weight="normal" fill="#3d73ad" text-anchor="end" textLength="32.5" lengthAdjust="spacingAndGlyphs" transform="rotate(-45 514.3399999999999 527.2)" stroke="#3d73ad" stroke-width="0.12">B56&#945; inact.</text>
<path d="M441.70,480.16 L441.70,477.16 L451.82,477.16 L451.82,480.16" fill="none" stroke="#222" stroke-width="0.75"/>
<text x="446.76" y="475.76" font-size="6.6" font-weight="normal" fill="#222" text-anchor="middle" stroke="#222" stroke-width="0.12">**</text>
<path d="M461.94,500.44 L461.94,497.44 L472.06,497.44 L472.06,500.44" fill="none" stroke="#222" stroke-width="0.75"/>
<text x="467.00" y="496.04" font-size="6.6" font-weight="normal" fill="#222" text-anchor="middle" stroke="#222" stroke-width="0.12">*</text>
<path d="M482.18,493.16 L482.18,455.84 L492.30,455.84 L492.30,459.88" fill="none" stroke="#222" stroke-width="0.75"/>
<text x="487.24" y="454.44" font-size="6.6" font-weight="normal" fill="#222" text-anchor="middle" stroke="#222" stroke-width="0.12">*</text>
<path d="M502.42,498.36 L502.42,464.16 L512.54,464.16 L512.54,470.28" fill="none" stroke="#222" stroke-width="0.75"/>
<text x="507.48" y="462.76" font-size="6.6" font-weight="normal" fill="#222" text-anchor="middle" stroke="#222" stroke-width="0.12">***</text>
<text x="310.20" y="485.50" font-size="6.6" font-weight="normal" fill="#333" text-anchor="middle" textLength="52" lengthAdjust="spacingAndGlyphs" transform="rotate(-90 310.2 485.5)" stroke="#333" stroke-width="0.12">WB quantification</text>
<text x="9.40" y="570.00" font-size="12" font-weight="bold" fill="#111" text-anchor="start">G</text>
<text x="45.00" y="579.60" font-size="7.2" font-weight="normal" fill="#333" text-anchor="start" textLength="48" lengthAdjust="spacingAndGlyphs" stroke="#333" stroke-width="0.12">AML cell lines</text>
<text x="108.60" y="579.60" font-size="7.2" font-weight="normal" fill="#333" text-anchor="start" textLength="62.8" lengthAdjust="spacingAndGlyphs" stroke="#333" stroke-width="0.12">AML primary cells</text>
<line x1="85.00" y1="609.19" x2="85.00" y2="624.19" stroke="#4a4e60" stroke-width="0.7"/>
<line x1="85.00" y1="646.69" x2="85.00" y2="657.00" stroke="#4a4e60" stroke-width="0.7"/>
<line x1="81.70" y1="609.19" x2="88.30" y2="609.19" stroke="#4a4e60" stroke-width="0.7"/>
<line x1="81.70" y1="657.00" x2="88.30" y2="657.00" stroke="#4a4e60" stroke-width="0.7"/>
<rect x="79.50" y="624.19" width="11.00" height="22.50" fill="#8d9cc6" stroke="#4a4e60" stroke-width="0.5"/>
<line x1="79.50" y1="627.94" x2="90.50" y2="627.94" stroke="#4a4e60" stroke-width="0.7"/>
<circle cx="63.30" cy="660.28" r="1.30" fill="#111" stroke="none" stroke-width="1"/>
<circle cx="66.80" cy="661.69" r="1.30" fill="#111" stroke="none" stroke-width="1"/>
<circle cx="69.30" cy="659.81" r="1.30" fill="#111" stroke="none" stroke-width="1"/>
<line x1="62.50" y1="660.47" x2="70.30" y2="660.47" stroke="#555" stroke-width="0.6"/>
<circle cx="85.00" cy="609.19" r="1.30" fill="#111" stroke="none" stroke-width="1"/>
<circle cx="82.50" cy="624.19" r="1.30" fill="#111" stroke="none" stroke-width="1"/>
<circle cx="87.50" cy="625.12" r="1.30" fill="#111" stroke="none" stroke-width="1"/>
<circle cx="81.50" cy="627.94" r="1.30" fill="#111" stroke="none" stroke-width="1"/>
<circle cx="85.50" cy="627.00" r="1.30" fill="#111" stroke="none" stroke-width="1"/>
<circle cx="88.00" cy="628.88" r="1.30" fill="#111" stroke="none" stroke-width="1"/>
<circle cx="83.50" cy="644.81" r="1.30" fill="#111" stroke="none" stroke-width="1"/>
<circle cx="87.00" cy="646.69" r="1.30" fill="#111" stroke="none" stroke-width="1"/>
<circle cx="85.00" cy="657.00" r="1.30" fill="#111" stroke="none" stroke-width="1"/>
<line x1="54.30" y1="592.31" x2="54.30" y2="672.50" stroke="#111" stroke-width="1.0"/>
<line x1="51.30" y1="672.00" x2="96.90" y2="672.00" stroke="#111" stroke-width="1.0"/>
<line x1="52.10" y1="672.00" x2="54.30" y2="672.00" stroke="#111" stroke-width="0.8"/>
<text x="48.80" y="674.40" font-size="6.6" font-weight="normal" fill="#333" text-anchor="end" textLength="3.4" lengthAdjust="spacingAndGlyphs" stroke="#333" stroke-width="0.12">0</text>
<line x1="52.10" y1="653.25" x2="54.30" y2="653.25" stroke="#111" stroke-width="0.8"/>
<text x="48.80" y="655.65" font-size="6.6" font-weight="normal" fill="#333" text-anchor="end" textLength="6.8" lengthAdjust="spacingAndGlyphs" stroke="#333" stroke-width="0.12">20</text>
<line x1="52.10" y1="634.50" x2="54.30" y2="634.50" stroke="#111" stroke-width="0.8"/>
<text x="48.80" y="636.90" font-size="6.6" font-weight="normal" fill="#333" text-anchor="end" textLength="6.8" lengthAdjust="spacingAndGlyphs" stroke="#333" stroke-width="0.12">40</text>
<line x1="52.10" y1="615.75" x2="54.30" y2="615.75" stroke="#111" stroke-width="0.8"/>
<text x="48.80" y="618.15" font-size="6.6" font-weight="normal" fill="#333" text-anchor="end" textLength="6.8" lengthAdjust="spacingAndGlyphs" stroke="#333" stroke-width="0.12">60</text>
<line x1="52.10" y1="597.00" x2="54.30" y2="597.00" stroke="#111" stroke-width="0.8"/>
<text x="48.80" y="599.40" font-size="6.6" font-weight="normal" fill="#333" text-anchor="end" textLength="6.8" lengthAdjust="spacingAndGlyphs" stroke="#333" stroke-width="0.12">80</text>
<line x1="66.30" y1="672.00" x2="66.30" y2="674.20" stroke="#111" stroke-width="0.8"/>
<line x1="84.80" y1="672.00" x2="84.80" y2="674.20" stroke="#111" stroke-width="0.8"/>
<path d="M66.30,597.00 L66.30,593.80 L85.00,593.80 L85.00,597.00" fill="none" stroke="#222" stroke-width="0.75"/>
<text x="75.65" y="591.50" font-size="6.6" font-weight="normal" fill="#222" text-anchor="middle" stroke="#222" stroke-width="0.12">**</text>
<text x="68.80" y="682.00" font-size="7" font-weight="normal" fill="#222" text-anchor="end" textLength="31.5" lengthAdjust="spacingAndGlyphs" transform="rotate(-45 68.8 682.0)" stroke="#222" stroke-width="0.12">No synergy</text>
<text x="87.40" y="682.00" font-size="7" font-weight="normal" fill="#222" text-anchor="end" textLength="23.5" lengthAdjust="spacingAndGlyphs" transform="rotate(-45 87.4 682.0)" stroke="#222" stroke-width="0.12">Synergy</text>
<text transform="translate(27.2 632.8) rotate(-90)" font-size="7" fill="#333" text-anchor="middle" textLength="58.5" lengthAdjust="spacingAndGlyphs">Normalized <tspan font-style="italic">PPP2R5A</tspan></text>
<text x="34.60" y="632.90" font-size="7" font-weight="normal" fill="#333" text-anchor="middle" textLength="48.7" lengthAdjust="spacingAndGlyphs" transform="rotate(-90 34.6 632.9)" stroke="#333" stroke-width="0.12">mRNA expression</text>
<line x1="137.60" y1="653.25" x2="137.60" y2="657.00" stroke="#555555" stroke-width="0.7"/>
<line x1="137.60" y1="663.75" x2="137.60" y2="667.50" stroke="#555555" stroke-width="0.7"/>
<line x1="134.42" y1="653.25" x2="140.78" y2="653.25" stroke="#555555" stroke-width="0.7"/>
<line x1="134.42" y1="667.50" x2="140.78" y2="667.50" stroke="#555555" stroke-width="0.7"/>
<rect x="132.30" y="657.00" width="10.60" height="6.75" fill="#dcdcdc" stroke="#555555" stroke-width="0.5"/>
<line x1="132.30" y1="659.25" x2="142.90" y2="659.25" stroke="#555555" stroke-width="0.7"/>
<line x1="155.90" y1="606.00" x2="155.90" y2="633.00" stroke="#4a4e60" stroke-width="0.7"/>
<line x1="155.90" y1="657.75" x2="155.90" y2="665.25" stroke="#4a4e60" stroke-width="0.7"/>
<line x1="152.54" y1="606.00" x2="159.26" y2="606.00" stroke="#4a4e60" stroke-width="0.7"/>
<line x1="152.54" y1="665.25" x2="159.26" y2="665.25" stroke="#4a4e60" stroke-width="0.7"/>
<rect x="150.30" y="633.00" width="11.20" height="24.75" fill="#8d9cc6" stroke="#4a4e60" stroke-width="0.5"/>
<line x1="150.30" y1="647.25" x2="161.50" y2="647.25" stroke="#4a4e60" stroke-width="0.7"/>
<circle cx="138.60" cy="653.25" r="1.30" fill="#111" stroke="none" stroke-width="1"/>
<circle cx="134.60" cy="656.25" r="1.30" fill="#111" stroke="none" stroke-width="1"/>
<circle cx="140.10" cy="657.00" r="1.30" fill="#111" stroke="none" stroke-width="1"/>
<circle cx="136.60" cy="658.50" r="1.30" fill="#111" stroke="none" stroke-width="1"/>
<circle cx="140.60" cy="659.25" r="1.30" fill="#111" stroke="none" stroke-width="1"/>
<circle cx="138.10" cy="663.75" r="1.30" fill="#111" stroke="none" stroke-width="1"/>
<circle cx="137.60" cy="667.50" r="1.30" fill="#111" stroke="none" stroke-width="1"/>
<circle cx="155.90" cy="606.00" r="1.30" fill="#111" stroke="none" stroke-width="1"/>
<circle cx="157.90" cy="629.25" r="1.30" fill="#111" stroke="none" stroke-width="1"/>
<circle cx="153.40" cy="630.75" r="1.30" fill="#111" stroke="none" stroke-width="1"/>
<circle cx="158.90" cy="633.00" r="1.30" fill="#111" stroke="none" stroke-width="1"/>
<circle cx="155.90" cy="640.50" r="1.30" fill="#111" stroke="none" stroke-width="1"/>
<circle cx="153.90" cy="642.00" r="1.30" fill="#111" stroke="none" stroke-width="1"/>
<circle cx="158.40" cy="645.75" r="1.30" fill="#111" stroke="none" stroke-width="1"/>
<circle cx="152.90" cy="648.00" r="1.30" fill="#111" stroke="none" stroke-width="1"/>
<circle cx="156.90" cy="651.00" r="1.30" fill="#111" stroke="none" stroke-width="1"/>
<circle cx="154.40" cy="653.25" r="1.30" fill="#111" stroke="none" stroke-width="1"/>
<circle cx="153.40" cy="657.00" r="1.30" fill="#111" stroke="none" stroke-width="1"/>
<circle cx="157.90" cy="658.50" r="1.30" fill="#111" stroke="none" stroke-width="1"/>
<circle cx="156.40" cy="660.75" r="1.30" fill="#111" stroke="none" stroke-width="1"/>
<circle cx="154.90" cy="662.25" r="1.30" fill="#111" stroke="none" stroke-width="1"/>
<circle cx="155.90" cy="665.25" r="1.30" fill="#111" stroke="none" stroke-width="1"/>
<line x1="124.90" y1="594.75" x2="124.90" y2="672.50" stroke="#111" stroke-width="1.0"/>
<line x1="124.40" y1="672.00" x2="167.20" y2="672.00" stroke="#111" stroke-width="1.0"/>
<line x1="122.70" y1="672.00" x2="124.90" y2="672.00" stroke="#111" stroke-width="0.8"/>
<text x="119.90" y="674.40" font-size="6.6" font-weight="normal" fill="#333" text-anchor="end" textLength="3.4" lengthAdjust="spacingAndGlyphs" stroke="#333" stroke-width="0.12">0</text>
<line x1="122.70" y1="657.00" x2="124.90" y2="657.00" stroke="#111" stroke-width="0.8"/>
<text x="119.90" y="659.40" font-size="6.6" font-weight="normal" fill="#333" text-anchor="end" textLength="6.8" lengthAdjust="spacingAndGlyphs" stroke="#333" stroke-width="0.12">20</text>
<line x1="122.70" y1="642.00" x2="124.90" y2="642.00" stroke="#111" stroke-width="0.8"/>
<text x="119.90" y="644.40" font-size="6.6" font-weight="normal" fill="#333" text-anchor="end" textLength="6.8" lengthAdjust="spacingAndGlyphs" stroke="#333" stroke-width="0.12">40</text>
<line x1="122.70" y1="627.00" x2="124.90" y2="627.00" stroke="#111" stroke-width="0.8"/>
<text x="119.90" y="629.40" font-size="6.6" font-weight="normal" fill="#333" text-anchor="end" textLength="6.8" lengthAdjust="spacingAndGlyphs" stroke="#333" stroke-width="0.12">60</text>
<line x1="122.70" y1="612.00" x2="124.90" y2="612.00" stroke="#111" stroke-width="0.8"/>
<text x="119.90" y="614.40" font-size="6.6" font-weight="normal" fill="#333" text-anchor="end" textLength="6.8" lengthAdjust="spacingAndGlyphs" stroke="#333" stroke-width="0.12">80</text>
<line x1="122.70" y1="597.00" x2="124.90" y2="597.00" stroke="#111" stroke-width="0.8"/>
<text x="119.90" y="599.40" font-size="6.6" font-weight="normal" fill="#333" text-anchor="end" textLength="10.2" lengthAdjust="spacingAndGlyphs" stroke="#333" stroke-width="0.12">100</text>
<line x1="137.60" y1="672.00" x2="137.60" y2="674.20" stroke="#111" stroke-width="0.8"/>
<line x1="155.90" y1="672.00" x2="155.90" y2="674.20" stroke="#111" stroke-width="0.8"/>
<path d="M137.60,596.90 L137.60,593.70 L155.90,593.70 L155.90,596.90" fill="none" stroke="#222" stroke-width="0.75"/>
<text x="146.75" y="591.30" font-size="6.6" font-weight="normal" fill="#222" text-anchor="middle" stroke="#222" stroke-width="0.12">*</text>
<text x="140.10" y="682.00" font-size="7" font-weight="normal" fill="#222" text-anchor="end" textLength="31.5" lengthAdjust="spacingAndGlyphs" transform="rotate(-45 140.1 682.0)" stroke="#222" stroke-width="0.12">No synergy</text>
<text x="158.60" y="682.00" font-size="7" font-weight="normal" fill="#222" text-anchor="end" textLength="23.5" lengthAdjust="spacingAndGlyphs" transform="rotate(-45 158.6 682.0)" stroke="#222" stroke-width="0.12">Synergy</text>
<circle cx="30.60" cy="712.90" r="1.10" fill="#111" stroke="none" stroke-width="1"/>
<text x="34.10" y="715.10" font-size="7" font-weight="normal" fill="#222" text-anchor="start" textLength="89.5" lengthAdjust="spacingAndGlyphs" stroke="#222" stroke-width="0.12">Synergy FTY720 + venetoclax</text>
<circle cx="30.60" cy="720.10" r="1.10" fill="#4cb04c" stroke="none" stroke-width="1"/>
<text x="34.10" y="722.30" font-size="7" font-weight="normal" fill="#222" text-anchor="start" textLength="90.3" lengthAdjust="spacingAndGlyphs" stroke="#222" stroke-width="0.12">Synergy FTY720 + A-1331852</text>
<text x="214.00" y="569.80" font-size="12" font-weight="bold" fill="#111" text-anchor="start">H</text>
<rect x="313.80" y="653.80" width="95.80" height="45.40" fill="#ededed" stroke="#efb04e" stroke-width="1.1" stroke-dasharray="1.6,1.1"/>
<rect x="419.20" y="653.80" width="43.10" height="45.40" fill="#ededed" stroke="#efb04e" stroke-width="1.1" stroke-dasharray="1.6,1.1"/>
<defs><radialGradient id="bg1" cx="0.45" cy="0.4" r="0.6"><stop offset="0" stop-color="#8e3a5a"/><stop offset="1" stop-color="#7a2648"/></radialGradient></defs>
<path d="M332.80,573.21 C334.64,573.29 336.61,574.33 338.16,575.42 C339.71,576.52 341.53,578.08 342.10,579.78 C342.66,581.48 342.16,583.84 341.56,585.65 C340.96,587.46 339.95,589.60 338.49,590.63 C337.03,591.66 334.69,591.84 332.80,591.82 C330.91,591.81 328.67,591.57 327.16,590.56 C325.66,589.54 324.28,587.50 323.77,585.73 C323.26,583.97 323.57,581.78 324.13,579.98 C324.68,578.19 325.66,576.10 327.11,574.97 C328.55,573.84 330.96,573.14 332.80,573.21 Z" fill="url(#bg1)" stroke="none" stroke-width="1"/>
<text x="332.80" y="585.14" font-size="6.5" font-weight="bold" fill="#fff" text-anchor="middle" textLength="13" lengthAdjust="spacingAndGlyphs">ERK</text>
<circle cx="341.30" cy="574.60" r="3.70" fill="#f0a31e" stroke="none" stroke-width="1"/>
<text x="341.30" y="576.50" font-size="5" font-weight="bold" fill="#5a2a10" text-anchor="middle">P</text>
<text x="333.00" y="600.60" font-size="7" font-weight="normal" fill="#444" text-anchor="middle" textLength="18" lengthAdjust="spacingAndGlyphs" stroke="#444" stroke-width="0.12">Active</text>
<line x1="346.20" y1="585.20" x2="361.00" y2="585.20" stroke="#111" stroke-width="1.0"/>
<polygon points="364.20,585.20 360.00,587.30 360.00,583.10" fill="#111" stroke="none" stroke-width="1"/>
<defs><radialGradient id="bg2" cx="0.45" cy="0.4" r="0.6"><stop offset="0" stop-color="#8e3a5a"/><stop offset="1" stop-color="#7a2648"/></radialGradient></defs>
<path d="M383.70,573.21 C385.54,573.29 387.51,574.33 389.06,575.42 C390.61,576.52 392.43,578.08 393.00,579.78 C393.56,581.48 393.06,583.84 392.46,585.65 C391.86,587.46 390.85,589.60 389.39,590.63 C387.93,591.66 385.59,591.84 383.70,591.82 C381.81,591.81 379.57,591.57 378.06,590.56 C376.56,589.54 375.18,587.50 374.67,585.73 C374.16,583.97 374.47,581.78 375.03,579.98 C375.58,578.19 376.56,576.10 378.01,574.97 C379.45,573.84 381.86,573.14 383.70,573.21 Z" fill="url(#bg2)" stroke="none" stroke-width="1"/>
<text x="383.70" y="585.14" font-size="6.5" font-weight="bold" fill="#fff" text-anchor="middle" textLength="13" lengthAdjust="spacingAndGlyphs">ERK</text>
<text x="383.60" y="600.60" font-size="7" font-weight="normal" fill="#444" text-anchor="middle" textLength="23.2" lengthAdjust="spacingAndGlyphs" stroke="#444" stroke-width="0.12">Inactive</text>
<path d="M398.8,585 C428,586 444,606 443.8,643" fill="none" stroke="#111" stroke-width="1.0"/>
<polygon points="443.80,647.20 441.70,643.00 445.90,643.00" fill="#111" stroke="none" stroke-width="1"/>
<text x="229.20" y="600.20" font-size="7.4" font-weight="bold" fill="#111" text-anchor="start" textLength="81.6" lengthAdjust="spacingAndGlyphs">PP2A-activating drugs</text>
<text x="269.30" y="610.60" font-size="7" font-weight="normal" fill="#333" text-anchor="middle" textLength="22" lengthAdjust="spacingAndGlyphs" stroke="#333" stroke-width="0.12">FTY720</text>
<text x="269.30" y="620.60" font-size="7" font-weight="normal" fill="#333" text-anchor="middle" textLength="26" lengthAdjust="spacingAndGlyphs" stroke="#333" stroke-width="0.12">CM-1231</text>
<text x="269.30" y="630.60" font-size="7" font-weight="normal" fill="#333" text-anchor="middle" textLength="21.5" lengthAdjust="spacingAndGlyphs" stroke="#333" stroke-width="0.12">DT-061</text>
<line x1="308.70" y1="607.70" x2="331.50" y2="616.10" stroke="#2a66a8" stroke-width="1.2"/>
<polygon points="334.50,617.20 330.06,617.70 331.44,613.94" fill="#2a66a8" stroke="none" stroke-width="1"/>
<path d="M314.11,623.83 C314.87,622.95 315.91,622.63 316.90,622.39 C317.89,622.15 319.00,622.66 320.05,622.39 C321.10,622.12 322.07,621.13 323.20,620.77 C324.32,620.41 325.70,620.11 326.80,620.23 C327.89,620.35 329.12,620.74 329.77,621.49 C330.41,622.24 330.70,623.59 330.67,624.73 C330.64,625.87 330.25,627.40 329.59,628.33 C328.93,629.26 327.49,629.62 326.71,630.31 C325.93,631.00 325.00,631.69 324.91,632.47 C324.82,633.25 325.42,634.24 326.17,634.99 C326.92,635.74 328.63,636.01 329.41,636.97 C330.19,637.93 330.76,639.52 330.85,640.75 C330.94,641.98 330.70,643.48 329.95,644.35 C329.20,645.22 327.62,645.79 326.35,645.97 C325.07,646.15 323.65,645.40 322.30,645.43 C320.95,645.46 319.58,646.39 318.25,646.15 C316.92,645.91 315.25,645.34 314.29,643.99 C313.33,642.64 312.73,639.94 312.49,638.05 C312.25,636.16 312.88,634.38 312.85,632.65 C312.82,630.92 312.10,629.17 312.31,627.70 C312.52,626.23 313.34,624.72 314.11,623.83 Z" fill="#f4a25a" stroke="none" stroke-width="1"/>
<text x="318.70" y="635.53" font-size="4.680000000000001" font-weight="normal" fill="#de5a30" text-anchor="middle" stroke="#de5a30" stroke-width="0.12">A</text>
<defs><radialGradient id="gh"><stop offset="0" stop-color="#eeeef8"/><stop offset="0.55" stop-color="#c2c6e6"/><stop offset="1" stop-color="#7d86c2"/></radialGradient></defs>
<circle cx="339.40" cy="626.20" r="8.10" fill="url(#gh)" stroke="#6a72b0" stroke-width="1.1"/>
<text x="339.40" y="628.20" font-size="5.6" font-weight="bold" fill="#2d4f8c" text-anchor="middle" textLength="14" lengthAdjust="spacingAndGlyphs">B56&#945;</text>
<circle cx="336.20" cy="641.00" r="4.20" fill="#eaf7f1" stroke="#9fd8bd" stroke-width="1.3"/>
<text x="336.20" y="642.73" font-size="4.8" font-weight="normal" fill="#3f7f6a" text-anchor="middle" stroke="#3f7f6a" stroke-width="0.12">C</text>
<line x1="347.10" y1="619.80" x2="356.60" y2="593.00" stroke="#111" stroke-width="1.0" stroke-dasharray="1.8,1.5"/>
<polygon points="357.80,589.60 358.35,594.04 354.58,592.70" fill="#111" stroke="none" stroke-width="1"/>
<line x1="347.10" y1="639.00" x2="356.80" y2="664.50" stroke="#111" stroke-width="1.0" stroke-dasharray="1.8,1.5"/>
<polygon points="358.20,668.30 354.90,665.28 358.64,663.85" fill="#111" stroke="none" stroke-width="1"/>
<text x="357.70" y="628.50" font-size="7" font-weight="normal" fill="#444" text-anchor="start" textLength="29" lengthAdjust="spacingAndGlyphs" stroke="#444" stroke-width="0.12">PP2A-B56&#945;</text>
<text x="360.00" y="634.90" font-size="7" font-weight="normal" fill="#444" text-anchor="start" textLength="28.8" lengthAdjust="spacingAndGlyphs" stroke="#444" stroke-width="0.12">activation</text>
<text x="250.80" y="673.30" font-size="7.4" font-weight="bold" fill="#111" text-anchor="start" textLength="41" lengthAdjust="spacingAndGlyphs">Venetoclax</text>
<line x1="297.00" y1="671.70" x2="310.60" y2="671.70" stroke="#4a6a9a" stroke-width="1.3"/>
<line x1="310.60" y1="667.80" x2="310.60" y2="675.60" stroke="#4a6a9a" stroke-width="1.3"/>
<defs><radialGradient id="bg3" cx="0.45" cy="0.4" r="0.6"><stop offset="0" stop-color="#dc97a2"/><stop offset="1" stop-color="#d4828f"/></radialGradient></defs>
<path d="M331.70,661.01 C333.58,661.09 335.59,662.15 337.17,663.27 C338.76,664.38 340.62,665.97 341.20,667.71 C341.77,669.45 341.26,671.86 340.65,673.71 C340.03,675.55 339.00,677.75 337.51,678.80 C336.02,679.85 333.63,680.03 331.70,680.02 C329.77,680.00 327.48,679.76 325.94,678.72 C324.41,677.69 323.00,675.60 322.48,673.80 C321.96,672.00 322.28,669.76 322.84,667.92 C323.41,666.09 324.41,663.95 325.89,662.80 C327.36,661.65 329.82,660.93 331.70,661.01 Z" fill="url(#bg3)" stroke="none" stroke-width="1"/>
<text x="331.70" y="673.07" font-size="6.3" font-weight="bold" fill="#fff" text-anchor="middle" textLength="13.2" lengthAdjust="spacingAndGlyphs">BCL2</text>
<circle cx="338.60" cy="662.20" r="3.70" fill="#f0a31e" stroke="none" stroke-width="1"/>
<text x="338.60" y="664.10" font-size="5" font-weight="bold" fill="#5a2a10" text-anchor="middle">P</text>
<text x="331.70" y="688.60" font-size="7" font-weight="normal" fill="#444" text-anchor="middle" textLength="18" lengthAdjust="spacingAndGlyphs" stroke="#444" stroke-width="0.12">Active</text>
<line x1="348.80" y1="673.00" x2="363.50" y2="673.00" stroke="#111" stroke-width="1.1"/>
<polygon points="366.60,673.00 362.40,675.20 362.40,670.80" fill="#111" stroke="none" stroke-width="1"/>
<defs><radialGradient id="bg4" cx="0.45" cy="0.4" r="0.6"><stop offset="0" stop-color="#dc97a2"/><stop offset="1" stop-color="#d4828f"/></radialGradient></defs>
<path d="M382.30,660.61 C384.18,660.69 386.19,661.75 387.77,662.87 C389.36,663.98 391.22,665.57 391.80,667.31 C392.37,669.05 391.86,671.46 391.25,673.31 C390.63,675.15 389.60,677.35 388.11,678.40 C386.62,679.45 384.23,679.63 382.30,679.62 C380.37,679.60 378.08,679.36 376.54,678.32 C375.01,677.29 373.60,675.20 373.08,673.40 C372.56,671.60 372.88,669.36 373.44,667.52 C374.01,665.69 375.01,663.55 376.49,662.40 C377.96,661.25 380.42,660.53 382.30,660.61 Z" fill="url(#bg4)" stroke="none" stroke-width="1"/>
<text x="382.30" y="672.67" font-size="6.3" font-weight="bold" fill="#fff" text-anchor="middle" textLength="13.2" lengthAdjust="spacingAndGlyphs">BCL2</text>
<text x="382.30" y="688.60" font-size="7" font-weight="normal" fill="#444" text-anchor="middle" textLength="23.2" lengthAdjust="spacingAndGlyphs" stroke="#444" stroke-width="0.12">Inactive</text>
<text x="413.30" y="675.40" font-size="7" font-weight="bold" fill="#444" text-anchor="middle">+</text>
<defs><radialGradient id="bg5" cx="0.45" cy="0.4" r="0.6"><stop offset="0" stop-color="#6cc493"/><stop offset="1" stop-color="#43a873"/></radialGradient></defs>
<path d="M441.20,657.40 C443.20,657.48 445.33,658.61 447.02,659.80 C448.70,660.98 450.67,662.67 451.29,664.52 C451.90,666.37 451.36,668.93 450.71,670.89 C450.05,672.85 448.96,675.18 447.38,676.30 C445.79,677.42 443.25,677.61 441.20,677.59 C439.15,677.58 436.72,677.32 435.08,676.22 C433.45,675.12 431.95,672.90 431.40,670.98 C430.85,669.07 431.19,666.69 431.79,664.74 C432.39,662.80 433.46,660.52 435.02,659.30 C436.59,658.08 439.20,657.31 441.20,657.40 Z" fill="url(#bg5)" stroke="none" stroke-width="1"/>
<text x="441.20" y="670.07" font-size="6.3" font-weight="bold" fill="#111" text-anchor="middle" textLength="14.5" lengthAdjust="spacingAndGlyphs">MCL1</text>
<text x="441.20" y="686.60" font-size="7" font-weight="normal" fill="#444" text-anchor="middle" textLength="32" lengthAdjust="spacingAndGlyphs" stroke="#444" stroke-width="0.12">Diminished</text>
<text x="441.20" y="693.80" font-size="7" font-weight="normal" fill="#444" text-anchor="middle" textLength="22.5" lengthAdjust="spacingAndGlyphs" stroke="#444" stroke-width="0.12">half-life</text>
<polygon points="360.30,699.20 368.30,699.20 368.30,708.80 371.20,708.80 364.30,717.20 357.40,708.80 360.30,708.80" fill="#a8cbec" stroke="none" stroke-width="1"/>
<polygon points="436.00,699.20 444.00,699.20 444.00,708.80 446.90,708.80 440.00,717.20 433.10,708.80 436.00,708.80" fill="#a8cbec" stroke="none" stroke-width="1"/>
<text x="328.50" y="727.00" font-size="8.8" font-weight="bold" fill="#3598d6" text-anchor="start" textLength="137.7" lengthAdjust="spacingAndGlyphs">synergistic pro-apoptotic effects</text>
</svg>
</body></html>
